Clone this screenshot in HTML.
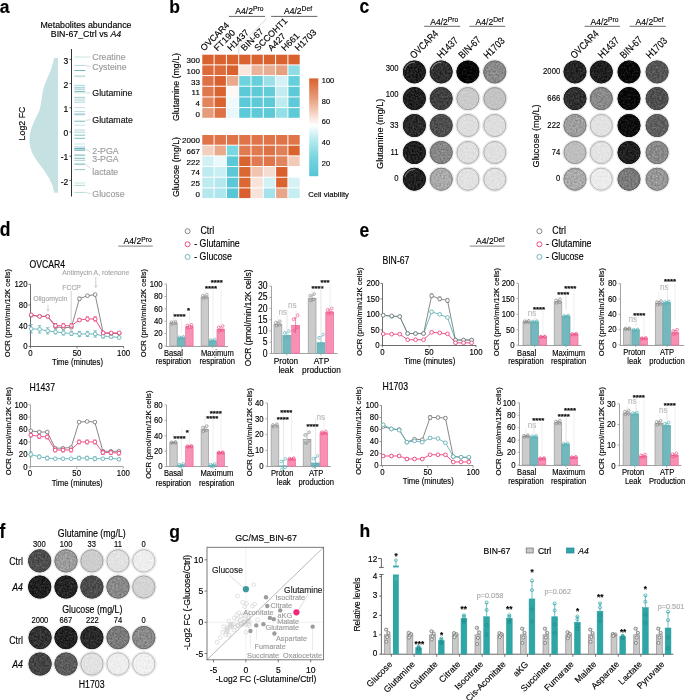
<!DOCTYPE html>
<html><head><meta charset="utf-8"><title>Figure</title>
<style>
html,body{margin:0;padding:0;background:#fff;}
body{width:685px;height:700px;overflow:hidden;}
svg{display:block;filter:blur(0.3px);font-family:"Liberation Sans", sans-serif;}
</style></head><body>
<svg width="685" height="700" viewBox="0 0 685 700">
<defs>
<filter id="grain" x="-5%" y="-5%" width="110%" height="110%" color-interpolation-filters="sRGB">
<feTurbulence type="fractalNoise" baseFrequency="0.55" numOctaves="2" seed="3" result="n"/>
<feColorMatrix in="n" type="matrix" values="1 0 0 0 0  1 0 0 0 0  1 0 0 0 0  0 0 0 0 1" result="g"/>
<feComposite in="SourceGraphic" in2="g" operator="arithmetic" k1="0" k2="1" k3="0.32" k4="-0.16" result="a"/>
<feComposite in="a" in2="SourceGraphic" operator="in"/>
</filter>
<filter id="grainw" x="-5%" y="-5%" width="110%" height="110%" color-interpolation-filters="sRGB">
<feTurbulence type="fractalNoise" baseFrequency="0.5" numOctaves="2" seed="8" result="n"/>
<feColorMatrix in="n" type="matrix" values="1 0 0 0 0  1 0 0 0 0  1 0 0 0 0  0 0 0 0 1" result="g"/>
<feComposite in="SourceGraphic" in2="g" operator="arithmetic" k1="0" k2="1" k3="0.12" k4="-0.06" result="a"/>
<feComposite in="a" in2="SourceGraphic" operator="in"/>
</filter>
</defs>
<rect width="685" height="700" fill="#fff"/>
<text x="-0.3" y="12.9" font-size="17.5" font-weight="bold" stroke="#000" stroke-width="0.15">a</text>
<text x="86" y="27.5" font-size="8.8" text-anchor="middle" stroke="#000" stroke-width="0.15">Metabolites abundance</text>
<text x="86" y="37" font-size="8.8" text-anchor="middle" stroke="#000" stroke-width="0.15">BIN-67_Ctrl vs <tspan font-style="italic">A4</tspan></text>
<path d="M58,57.9 L54.3,57.9 L50.4,71.5 L46.5,80.0 L44.0,86.5 L42.5,92.9 L41.4,100.0 L40.6,106.0 L39.2,111.0 L35.4,118.7 L31.7,127.3 L29.8,134.0 L29.4,140.5 L30.2,147.0 L32.2,153.0 L37.0,161.0 L43.5,169.5 L49.0,178.0 L52.6,185.5 L54.3,192.7 L58,192.7 Z" fill="#c5e1e2"/>
<line x1="71.5" y1="49" x2="71.5" y2="196.5" stroke="#333" stroke-width="1"/>
<line x1="69.5" y1="59.4" x2="71.5" y2="59.4" stroke="#333" stroke-width="0.8"/>
<text x="68.3" y="63.6" font-size="8.5" text-anchor="end" stroke="#000" stroke-width="0.15">3</text>
<line x1="69.5" y1="83.6" x2="71.5" y2="83.6" stroke="#333" stroke-width="0.8"/>
<text x="68.3" y="87.8" font-size="8.5" text-anchor="end" stroke="#000" stroke-width="0.15">2</text>
<line x1="69.5" y1="107.8" x2="71.5" y2="107.8" stroke="#333" stroke-width="0.8"/>
<text x="68.3" y="112" font-size="8.5" text-anchor="end" stroke="#000" stroke-width="0.15">1</text>
<line x1="69.5" y1="132" x2="71.5" y2="132" stroke="#333" stroke-width="0.8"/>
<text x="68.3" y="136.2" font-size="8.5" text-anchor="end" stroke="#000" stroke-width="0.15">0</text>
<line x1="69.5" y1="156.2" x2="71.5" y2="156.2" stroke="#333" stroke-width="0.8"/>
<text x="68.3" y="160.4" font-size="8.5" text-anchor="end" stroke="#000" stroke-width="0.15">-1</text>
<line x1="69.5" y1="180.4" x2="71.5" y2="180.4" stroke="#333" stroke-width="0.8"/>
<text x="68.3" y="184.6" font-size="8.5" text-anchor="end" stroke="#000" stroke-width="0.15">-2</text>
<line x1="74.3" y1="57" x2="85.1" y2="57" stroke="#4da1a8" stroke-width="0.9" stroke-opacity="0.35"/>
<line x1="74.3" y1="65.4" x2="85.1" y2="65.4" stroke="#4da1a8" stroke-width="0.9" stroke-opacity="0.45"/>
<line x1="74.3" y1="70.5" x2="85.1" y2="70.5" stroke="#4da1a8" stroke-width="1" stroke-opacity="0.80"/>
<line x1="74.3" y1="76.3" x2="85.1" y2="76.3" stroke="#4da1a8" stroke-width="1.8" stroke-opacity="0.35"/>
<line x1="74.3" y1="85.3" x2="85.1" y2="85.3" stroke="#4da1a8" stroke-width="0.9" stroke-opacity="0.50"/>
<line x1="74.3" y1="87.3" x2="85.1" y2="87.3" stroke="#4da1a8" stroke-width="0.9" stroke-opacity="0.60"/>
<line x1="74.3" y1="89.1" x2="85.1" y2="89.1" stroke="#4da1a8" stroke-width="0.9" stroke-opacity="0.70"/>
<line x1="74.3" y1="91.4" x2="85.1" y2="91.4" stroke="#4da1a8" stroke-width="0.9" stroke-opacity="0.85"/>
<line x1="74.3" y1="92.9" x2="85.1" y2="92.9" stroke="#4da1a8" stroke-width="0.9" stroke-opacity="0.30"/>
<line x1="74.3" y1="97.6" x2="85.1" y2="97.6" stroke="#4da1a8" stroke-width="1.6" stroke-opacity="0.45"/>
<line x1="74.3" y1="100.1" x2="85.1" y2="100.1" stroke="#4da1a8" stroke-width="0.9" stroke-opacity="0.55"/>
<line x1="74.3" y1="102.2" x2="85.1" y2="102.2" stroke="#4da1a8" stroke-width="0.9" stroke-opacity="0.50"/>
<line x1="74.3" y1="107.5" x2="85.1" y2="107.5" stroke="#4da1a8" stroke-width="0.9" stroke-opacity="0.35"/>
<line x1="74.3" y1="111.6" x2="85.1" y2="111.6" stroke="#4da1a8" stroke-width="0.9" stroke-opacity="0.45"/>
<line x1="74.3" y1="114.3" x2="85.1" y2="114.3" stroke="#4da1a8" stroke-width="1.8" stroke-opacity="0.50"/>
<line x1="74.3" y1="121.2" x2="85.1" y2="121.2" stroke="#4da1a8" stroke-width="1" stroke-opacity="0.75"/>
<line x1="74.3" y1="125.3" x2="85.1" y2="125.3" stroke="#4da1a8" stroke-width="1" stroke-opacity="0.30"/>
<line x1="74.3" y1="130" x2="85.1" y2="130" stroke="#4da1a8" stroke-width="1.4" stroke-opacity="0.30"/>
<line x1="74.3" y1="132.2" x2="85.1" y2="132.2" stroke="#4da1a8" stroke-width="1.4" stroke-opacity="0.35"/>
<line x1="74.3" y1="135.2" x2="85.1" y2="135.2" stroke="#4da1a8" stroke-width="1.2" stroke-opacity="0.55"/>
<line x1="74.3" y1="138.3" x2="85.1" y2="138.3" stroke="#4da1a8" stroke-width="0.9" stroke-opacity="0.80"/>
<line x1="74.3" y1="144" x2="85.1" y2="144" stroke="#4da1a8" stroke-width="0.9" stroke-opacity="0.35"/>
<line x1="74.3" y1="146.9" x2="85.1" y2="146.9" stroke="#4da1a8" stroke-width="0.9" stroke-opacity="0.45"/>
<line x1="74.3" y1="148.6" x2="85.1" y2="148.6" stroke="#4da1a8" stroke-width="1.4" stroke-opacity="0.80"/>
<line x1="74.3" y1="150.3" x2="85.1" y2="150.3" stroke="#4da1a8" stroke-width="1.2" stroke-opacity="0.70"/>
<line x1="74.3" y1="155.2" x2="85.1" y2="155.2" stroke="#4da1a8" stroke-width="1.8" stroke-opacity="0.50"/>
<line x1="74.3" y1="158.3" x2="85.1" y2="158.3" stroke="#4da1a8" stroke-width="0.9" stroke-opacity="0.80"/>
<line x1="74.3" y1="160.3" x2="85.1" y2="160.3" stroke="#4da1a8" stroke-width="0.9" stroke-opacity="0.55"/>
<line x1="74.3" y1="164.2" x2="85.1" y2="164.2" stroke="#4da1a8" stroke-width="1.8" stroke-opacity="0.50"/>
<line x1="74.3" y1="169.6" x2="85.1" y2="169.6" stroke="#4da1a8" stroke-width="1.1" stroke-opacity="0.55"/>
<line x1="74.3" y1="183" x2="85.1" y2="183" stroke="#4da1a8" stroke-width="0.9" stroke-opacity="0.35"/>
<line x1="74.3" y1="185.4" x2="85.1" y2="185.4" stroke="#4da1a8" stroke-width="0.9" stroke-opacity="0.50"/>
<line x1="74.3" y1="192.4" x2="85.1" y2="192.4" stroke="#4da1a8" stroke-width="0.9" stroke-opacity="0.45"/>
<line x1="85.5" y1="57" x2="90.5" y2="57" stroke="#c8c8c8" stroke-width="0.7"/>
<text x="92.3" y="60.1" font-size="8.8" fill="#9c9c9c" stroke="#9c9c9c" stroke-width="0.15">Creatine</text>
<line x1="85.5" y1="65.4" x2="90.5" y2="66.6" stroke="#c8c8c8" stroke-width="0.7"/>
<text x="92.3" y="69.7" font-size="8.8" fill="#9c9c9c" stroke="#9c9c9c" stroke-width="0.15">Cysteine</text>
<line x1="85.5" y1="92.9" x2="90.5" y2="92.9" stroke="#c8c8c8" stroke-width="0.7"/>
<text x="92.3" y="96" font-size="8.8" fill="#111" stroke="#111" stroke-width="0.15">Glutamine</text>
<line x1="85.5" y1="120.3" x2="90.5" y2="119.8" stroke="#c8c8c8" stroke-width="0.7"/>
<text x="92.3" y="122.9" font-size="8.8" fill="#111" stroke="#111" stroke-width="0.15">Glutamate</text>
<line x1="85.5" y1="149" x2="90.5" y2="152.5" stroke="#c8c8c8" stroke-width="0.7"/>
<text x="92.3" y="153.7" font-size="8.8" fill="#9c9c9c" stroke="#9c9c9c" stroke-width="0.15">2-PGA</text>
<text x="92.3" y="161.6" font-size="8.8" fill="#9c9c9c" stroke="#9c9c9c" stroke-width="0.15">3-PGA</text>
<line x1="85.5" y1="164.2" x2="90.5" y2="168.5" stroke="#c8c8c8" stroke-width="0.7"/>
<text x="92.3" y="175.1" font-size="8.8" fill="#9c9c9c" stroke="#9c9c9c" stroke-width="0.15">lactate</text>
<line x1="85.5" y1="192.4" x2="90.5" y2="193.6" stroke="#c8c8c8" stroke-width="0.7"/>
<text x="92.3" y="196.7" font-size="8.8" fill="#9c9c9c" stroke="#9c9c9c" stroke-width="0.15">Glucose</text>
<text x="25" y="123.5" font-size="8.8" transform="rotate(-90 25 123.5)" text-anchor="middle" stroke="#000" stroke-width="0.15">Log2 FC</text>
<text x="169.2" y="12.9" font-size="17.5" font-weight="bold" stroke="#000" stroke-width="0.15">b</text>
<rect x="202.3" y="54.7" width="11.3" height="9.68" fill="#d9622f"/>
<rect x="214.6" y="54.7" width="11.3" height="9.68" fill="#d9622f"/>
<rect x="226.9" y="54.7" width="11.3" height="9.68" fill="#d9622f"/>
<rect x="239.2" y="54.7" width="11.3" height="9.68" fill="#d9622f"/>
<rect x="251.5" y="54.7" width="11.3" height="9.68" fill="#d9622f"/>
<rect x="263.8" y="54.7" width="11.3" height="9.68" fill="#d9622f"/>
<rect x="276.1" y="54.7" width="11.3" height="9.68" fill="#d9622f"/>
<rect x="288.4" y="54.7" width="11.3" height="9.68" fill="#d9622f"/>
<text x="199.9" y="63.14" font-size="8" text-anchor="end" stroke="#000" stroke-width="0.15">300</text>
<rect x="202.3" y="65.38" width="11.3" height="9.68" fill="#dc6a3a"/>
<rect x="214.6" y="65.38" width="11.3" height="9.68" fill="#dc6a3a"/>
<rect x="226.9" y="65.38" width="11.3" height="9.68" fill="#d9622f"/>
<rect x="239.2" y="65.38" width="11.3" height="9.68" fill="#f8e6df"/>
<rect x="251.5" y="65.38" width="11.3" height="9.68" fill="#ebb49a"/>
<rect x="263.8" y="65.38" width="11.3" height="9.68" fill="#e9ad91"/>
<rect x="276.1" y="65.38" width="11.3" height="9.68" fill="#e6a07e"/>
<rect x="288.4" y="65.38" width="11.3" height="9.68" fill="#8ddde5"/>
<text x="199.9" y="73.82" font-size="8" text-anchor="end" stroke="#000" stroke-width="0.15">100</text>
<rect x="202.3" y="76.06" width="11.3" height="9.68" fill="#de7247"/>
<rect x="214.6" y="76.06" width="11.3" height="9.68" fill="#d9602e"/>
<rect x="226.9" y="76.06" width="11.3" height="9.68" fill="#e9a98a"/>
<rect x="239.2" y="76.06" width="11.3" height="9.68" fill="#6dd3df"/>
<rect x="251.5" y="76.06" width="11.3" height="9.68" fill="#65cfdc"/>
<rect x="263.8" y="76.06" width="11.3" height="9.68" fill="#9be0e6"/>
<rect x="276.1" y="76.06" width="11.3" height="9.68" fill="#d4f2f5"/>
<rect x="288.4" y="76.06" width="11.3" height="9.68" fill="#65cfdc"/>
<text x="199.9" y="84.5" font-size="8" text-anchor="end" stroke="#000" stroke-width="0.15">33</text>
<rect x="202.3" y="86.74" width="11.3" height="9.68" fill="#df784e"/>
<rect x="214.6" y="86.74" width="11.3" height="9.68" fill="#da6430"/>
<rect x="226.9" y="86.74" width="11.3" height="9.68" fill="#fdf8f6"/>
<rect x="239.2" y="86.74" width="11.3" height="9.68" fill="#5cc9d8"/>
<rect x="251.5" y="86.74" width="11.3" height="9.68" fill="#5ecad8"/>
<rect x="263.8" y="86.74" width="11.3" height="9.68" fill="#62ccd9"/>
<rect x="276.1" y="86.74" width="11.3" height="9.68" fill="#c2ecf1"/>
<rect x="288.4" y="86.74" width="11.3" height="9.68" fill="#5ecad8"/>
<text x="199.9" y="95.18" font-size="8" text-anchor="end" stroke="#000" stroke-width="0.15">11</text>
<rect x="202.3" y="97.42" width="11.3" height="9.68" fill="#e2855f"/>
<rect x="214.6" y="97.42" width="11.3" height="9.68" fill="#da6430"/>
<rect x="226.9" y="97.42" width="11.3" height="9.68" fill="#f0fafc"/>
<rect x="239.2" y="97.42" width="11.3" height="9.68" fill="#5cc9d8"/>
<rect x="251.5" y="97.42" width="11.3" height="9.68" fill="#5ecad8"/>
<rect x="263.8" y="97.42" width="11.3" height="9.68" fill="#5ecad8"/>
<rect x="276.1" y="97.42" width="11.3" height="9.68" fill="#bcebf0"/>
<rect x="288.4" y="97.42" width="11.3" height="9.68" fill="#5ecad8"/>
<text x="199.9" y="105.86" font-size="8" text-anchor="end" stroke="#000" stroke-width="0.15">4</text>
<rect x="202.3" y="108.1" width="11.3" height="9.68" fill="#e69b7a"/>
<rect x="214.6" y="108.1" width="11.3" height="9.68" fill="#de7247"/>
<rect x="226.9" y="108.1" width="11.3" height="9.68" fill="#e8f7fa"/>
<rect x="239.2" y="108.1" width="11.3" height="9.68" fill="#5cc9d8"/>
<rect x="251.5" y="108.1" width="11.3" height="9.68" fill="#5ecad8"/>
<rect x="263.8" y="108.1" width="11.3" height="9.68" fill="#5ecad8"/>
<rect x="276.1" y="108.1" width="11.3" height="9.68" fill="#93dfe7"/>
<rect x="288.4" y="108.1" width="11.3" height="9.68" fill="#5ecad8"/>
<text x="199.9" y="116.54" font-size="8" text-anchor="end" stroke="#000" stroke-width="0.15">0</text>
<rect x="202.3" y="135" width="11.3" height="9.68" fill="#df7448"/>
<rect x="214.6" y="135" width="11.3" height="9.68" fill="#df7448"/>
<rect x="226.9" y="135" width="11.3" height="9.68" fill="#df7448"/>
<rect x="239.2" y="135" width="11.3" height="9.68" fill="#df7448"/>
<rect x="251.5" y="135" width="11.3" height="9.68" fill="#df7448"/>
<rect x="263.8" y="135" width="11.3" height="9.68" fill="#df7448"/>
<rect x="276.1" y="135" width="11.3" height="9.68" fill="#df7448"/>
<rect x="288.4" y="135" width="11.3" height="9.68" fill="#df7448"/>
<text x="199.9" y="143.44" font-size="8" text-anchor="end" stroke="#000" stroke-width="0.15">2000</text>
<rect x="202.3" y="145.68" width="11.3" height="9.68" fill="#f3cfc0"/>
<rect x="214.6" y="145.68" width="11.3" height="9.68" fill="#e9a98a"/>
<rect x="226.9" y="145.68" width="11.3" height="9.68" fill="#79d7e1"/>
<rect x="239.2" y="145.68" width="11.3" height="9.68" fill="#e07a50"/>
<rect x="251.5" y="145.68" width="11.3" height="9.68" fill="#e07a50"/>
<rect x="263.8" y="145.68" width="11.3" height="9.68" fill="#de7247"/>
<rect x="276.1" y="145.68" width="11.3" height="9.68" fill="#e08059"/>
<rect x="288.4" y="145.68" width="11.3" height="9.68" fill="#da6430"/>
<text x="199.9" y="154.12" font-size="8" text-anchor="end" stroke="#000" stroke-width="0.15">667</text>
<rect x="202.3" y="156.36" width="11.3" height="9.68" fill="#d2f1f5"/>
<rect x="214.6" y="156.36" width="11.3" height="9.68" fill="#eaf9fb"/>
<rect x="226.9" y="156.36" width="11.3" height="9.68" fill="#5bc8d7"/>
<rect x="239.2" y="156.36" width="11.3" height="9.68" fill="#da6430"/>
<rect x="251.5" y="156.36" width="11.3" height="9.68" fill="#e07a50"/>
<rect x="263.8" y="156.36" width="11.3" height="9.68" fill="#df7649"/>
<rect x="276.1" y="156.36" width="11.3" height="9.68" fill="#e2855f"/>
<rect x="288.4" y="156.36" width="11.3" height="9.68" fill="#f2cab8"/>
<text x="199.9" y="164.8" font-size="8" text-anchor="end" stroke="#000" stroke-width="0.15">222</text>
<rect x="202.3" y="167.04" width="11.3" height="9.68" fill="#bdebf0"/>
<rect x="214.6" y="167.04" width="11.3" height="9.68" fill="#c8eff3"/>
<rect x="226.9" y="167.04" width="11.3" height="9.68" fill="#5bc8d7"/>
<rect x="239.2" y="167.04" width="11.3" height="9.68" fill="#db6733"/>
<rect x="251.5" y="167.04" width="11.3" height="9.68" fill="#f0c4b0"/>
<rect x="263.8" y="167.04" width="11.3" height="9.68" fill="#f5dbd0"/>
<rect x="276.1" y="167.04" width="11.3" height="9.68" fill="#d9602e"/>
<rect x="288.4" y="167.04" width="11.3" height="9.68" fill="#ffffff"/>
<text x="199.9" y="175.48" font-size="8" text-anchor="end" stroke="#000" stroke-width="0.15">74</text>
<rect x="202.3" y="177.72" width="11.3" height="9.68" fill="#bdebf0"/>
<rect x="214.6" y="177.72" width="11.3" height="9.68" fill="#b5e8ee"/>
<rect x="226.9" y="177.72" width="11.3" height="9.68" fill="#5bc8d7"/>
<rect x="239.2" y="177.72" width="11.3" height="9.68" fill="#db6733"/>
<rect x="251.5" y="177.72" width="11.3" height="9.68" fill="#f7e3da"/>
<rect x="263.8" y="177.72" width="11.3" height="9.68" fill="#d2f1f5"/>
<rect x="276.1" y="177.72" width="11.3" height="9.68" fill="#da6430"/>
<rect x="288.4" y="177.72" width="11.3" height="9.68" fill="#d6f2f6"/>
<text x="199.9" y="186.16" font-size="8" text-anchor="end" stroke="#000" stroke-width="0.15">25</text>
<rect x="202.3" y="188.4" width="11.3" height="9.68" fill="#b5e8ee"/>
<rect x="214.6" y="188.4" width="11.3" height="9.68" fill="#ade6ed"/>
<rect x="226.9" y="188.4" width="11.3" height="9.68" fill="#57c6d6"/>
<rect x="239.2" y="188.4" width="11.3" height="9.68" fill="#d9602e"/>
<rect x="251.5" y="188.4" width="11.3" height="9.68" fill="#f7e3da"/>
<rect x="263.8" y="188.4" width="11.3" height="9.68" fill="#a4e3eb"/>
<rect x="276.1" y="188.4" width="11.3" height="9.68" fill="#e8a688"/>
<rect x="288.4" y="188.4" width="11.3" height="9.68" fill="#c5edf2"/>
<text x="199.9" y="196.84" font-size="8" text-anchor="end" stroke="#000" stroke-width="0.15">0</text>
<text x="178.8" y="87" font-size="8.8" transform="rotate(-90 178.8 87)" text-anchor="middle" stroke="#000" stroke-width="0.15">Glutamine (mg/L)</text>
<text x="178.8" y="167" font-size="8.8" transform="rotate(-90 178.8 167)" text-anchor="middle" stroke="#000" stroke-width="0.15">Glucose (mg/L)</text>
<text x="204" y="51.5" font-size="8.9" transform="rotate(-45 204 51.5)" stroke="#000" stroke-width="0.15">OVCAR4</text>
<text x="217.5" y="51.5" font-size="8.9" transform="rotate(-45 217.5 51.5)" stroke="#000" stroke-width="0.15">FT190</text>
<text x="231" y="51.5" font-size="8.9" transform="rotate(-45 231 51.5)" stroke="#000" stroke-width="0.15">H1437</text>
<text x="244.5" y="51.5" font-size="8.9" transform="rotate(-45 244.5 51.5)" stroke="#000" stroke-width="0.15">BIN-67</text>
<text x="258" y="51.5" font-size="8.9" transform="rotate(-45 258 51.5)" stroke="#000" stroke-width="0.15">SCCOHT1</text>
<text x="271.5" y="51.5" font-size="8.9" transform="rotate(-45 271.5 51.5)" stroke="#000" stroke-width="0.15">A427</text>
<text x="285" y="51.5" font-size="8.9" transform="rotate(-45 285 51.5)" stroke="#000" stroke-width="0.15">H661</text>
<text x="298.5" y="51.5" font-size="8.9" transform="rotate(-45 298.5 51.5)" stroke="#000" stroke-width="0.15">H1703</text>
<polyline points="238.8,54.5 238.8,46.7 266.3,19" fill="none" stroke="#cfcfcf" stroke-width="0.8"/>
<text x="0" y="0" font-size="9.12" transform="translate(235.3 13.9) scale(0.9434 1)" stroke="#000" stroke-width="0.15">A4/2<tspan font-size="7.11" dy="-2.8">Pro</tspan></text>
<line x1="228.9" y1="16.4" x2="265.1" y2="16.4" stroke="#555" stroke-width="0.9"/>
<text x="0" y="0" font-size="9.12" transform="translate(283.9 13.9) scale(0.9434 1)" stroke="#000" stroke-width="0.15">A4/2<tspan font-size="7.11" dy="-2.8">Def</tspan></text>
<line x1="271.1" y1="16.4" x2="317.4" y2="16.4" stroke="#555" stroke-width="0.9"/>
<linearGradient id="cb" x1="0" y1="0" x2="0" y2="1">
<stop offset="0" stop-color="#d9602e"/><stop offset="0.22" stop-color="#e9a282"/>
<stop offset="0.40" stop-color="#f8e4da"/><stop offset="0.48" stop-color="#ffffff"/>
<stop offset="0.60" stop-color="#c3edf2"/><stop offset="0.80" stop-color="#7ad5e0"/>
<stop offset="1" stop-color="#53c5d5"/></linearGradient>
<rect x="309.2" y="78.4" width="9.1" height="97.8" fill="url(#cb)"/>
<text x="321.8" y="82.7" font-size="7.4" stroke="#000" stroke-width="0.15">100</text>
<text x="321.8" y="103.7" font-size="7.4" stroke="#000" stroke-width="0.15">80</text>
<text x="321.8" y="124.2" font-size="7.4" stroke="#000" stroke-width="0.15">60</text>
<text x="321.8" y="145.1" font-size="7.4" stroke="#000" stroke-width="0.15">40</text>
<text x="321.8" y="165.7" font-size="7.4" stroke="#000" stroke-width="0.15">20</text>
<text x="308.3" y="197.4" font-size="7.7" stroke="#000" stroke-width="0.15">Cell viability</text>
<text x="0" y="0" font-size="20.65" transform="translate(359.5 12.9) scale(0.8475 1)" font-weight="bold" stroke="#000" stroke-width="0.15">c</text>
<circle cx="414.4" cy="71.9" r="12.3" fill="none" stroke="#e0e0e0" stroke-width="0.8"/>
<circle cx="414.4" cy="71.9" r="11.5" fill="#1e1e1e" filter="url(#grain)"/>
<circle cx="414.4" cy="71.9" r="11" fill="none" stroke="#181818" stroke-width="1"/>
<path d="M405.03,69.39 A9.70,9.70 0 0 1 414.40,62.20" fill="none" stroke="#9a9a9a" stroke-width="1.1" stroke-opacity="0.8" stroke-linecap="round"/>
<circle cx="575" cy="71.9" r="12.3" fill="none" stroke="#e0e0e0" stroke-width="0.8"/>
<circle cx="575" cy="71.9" r="11.5" fill="#262626" filter="url(#grain)"/>
<circle cx="575" cy="71.9" r="11" fill="none" stroke="#1c1c1c" stroke-width="1"/>
<circle cx="441.2" cy="71.9" r="12.3" fill="none" stroke="#e0e0e0" stroke-width="0.8"/>
<circle cx="441.2" cy="71.9" r="11.5" fill="#303030" filter="url(#grain)"/>
<circle cx="441.2" cy="71.9" r="11" fill="none" stroke="#222222" stroke-width="1"/>
<path d="M431.83,69.39 A9.70,9.70 0 0 1 441.20,62.20" fill="none" stroke="#9a9a9a" stroke-width="1.1" stroke-opacity="0.8" stroke-linecap="round"/>
<circle cx="601.3" cy="71.9" r="12.3" fill="none" stroke="#e0e0e0" stroke-width="0.8"/>
<circle cx="601.3" cy="71.9" r="11.5" fill="#202020" filter="url(#grain)"/>
<circle cx="601.3" cy="71.9" r="11" fill="none" stroke="#191919" stroke-width="1"/>
<circle cx="467.9" cy="71.9" r="12.3" fill="none" stroke="#e0e0e0" stroke-width="0.8"/>
<circle cx="467.9" cy="71.9" r="11.5" fill="#070707" filter="url(#grain)"/>
<circle cx="467.9" cy="71.9" r="11" fill="none" stroke="#0a0a0a" stroke-width="1"/>
<circle cx="629" cy="71.9" r="12.3" fill="none" stroke="#e0e0e0" stroke-width="0.8"/>
<circle cx="629" cy="71.9" r="11.5" fill="#0a0a0a" filter="url(#grain)"/>
<circle cx="629" cy="71.9" r="11" fill="none" stroke="#0c0c0c" stroke-width="1"/>
<circle cx="494.8" cy="71.9" r="12.3" fill="none" stroke="#e0e0e0" stroke-width="0.8"/>
<circle cx="494.8" cy="71.9" r="11.5" fill="#8a8a8a" filter="url(#grain)"/>
<circle cx="494.8" cy="71.9" r="11" fill="none" stroke="#6e6e6e" stroke-width="1"/>
<circle cx="657.1" cy="71.9" r="12.3" fill="none" stroke="#e0e0e0" stroke-width="0.8"/>
<circle cx="657.1" cy="71.9" r="11.5" fill="#565656" filter="url(#grain)"/>
<circle cx="657.1" cy="71.9" r="11" fill="none" stroke="#4c4c4c" stroke-width="1"/>
<circle cx="657.1" cy="71.9" r="6.5" fill="none" stroke="#484848" stroke-width="0.8" stroke-opacity="0.7"/>
<circle cx="657.1" cy="71.9" r="1.6" fill="none" stroke="#484848" stroke-width="0.6" stroke-opacity="0.6"/>
<circle cx="414.4" cy="98.6" r="12.3" fill="none" stroke="#e0e0e0" stroke-width="0.8"/>
<circle cx="414.4" cy="98.6" r="11.5" fill="#202020" filter="url(#grain)"/>
<circle cx="414.4" cy="98.6" r="11" fill="none" stroke="#191919" stroke-width="1"/>
<circle cx="575" cy="98.6" r="12.3" fill="none" stroke="#e0e0e0" stroke-width="0.8"/>
<circle cx="575" cy="98.6" r="11.5" fill="#303030" filter="url(#grain)"/>
<circle cx="575" cy="98.6" r="11" fill="none" stroke="#222222" stroke-width="1"/>
<circle cx="441.2" cy="98.6" r="12.3" fill="none" stroke="#e0e0e0" stroke-width="0.8"/>
<circle cx="441.2" cy="98.6" r="11.5" fill="#404040" filter="url(#grain)"/>
<circle cx="441.2" cy="98.6" r="11" fill="none" stroke="#3b3b3b" stroke-width="1"/>
<circle cx="601.3" cy="98.6" r="12.3" fill="none" stroke="#e0e0e0" stroke-width="0.8"/>
<circle cx="601.3" cy="98.6" r="11.5" fill="#8a8a8a" filter="url(#grain)"/>
<circle cx="601.3" cy="98.6" r="11" fill="none" stroke="#6e6e6e" stroke-width="1"/>
<circle cx="467.9" cy="98.6" r="12.3" fill="none" stroke="#e0e0e0" stroke-width="0.8"/>
<circle cx="467.9" cy="98.6" r="11.5" fill="#cbcbcb" filter="url(#grainw)"/>
<circle cx="467.9" cy="98.6" r="11" fill="none" stroke="#a2a2a2" stroke-width="1"/>
<circle cx="629" cy="98.6" r="12.3" fill="none" stroke="#e0e0e0" stroke-width="0.8"/>
<circle cx="629" cy="98.6" r="11.5" fill="#0a0a0a" filter="url(#grain)"/>
<circle cx="629" cy="98.6" r="11" fill="none" stroke="#0c0c0c" stroke-width="1"/>
<circle cx="494.8" cy="98.6" r="12.3" fill="none" stroke="#e0e0e0" stroke-width="0.8"/>
<circle cx="494.8" cy="98.6" r="11.5" fill="#c3c3c3" filter="url(#grainw)"/>
<circle cx="494.8" cy="98.6" r="11" fill="none" stroke="#9c9c9c" stroke-width="1"/>
<circle cx="657.1" cy="98.6" r="12.3" fill="none" stroke="#e0e0e0" stroke-width="0.8"/>
<circle cx="657.1" cy="98.6" r="11.5" fill="#505050" filter="url(#grain)"/>
<circle cx="657.1" cy="98.6" r="11" fill="none" stroke="#484848" stroke-width="1"/>
<circle cx="657.1" cy="98.6" r="6.5" fill="none" stroke="#434343" stroke-width="0.8" stroke-opacity="0.7"/>
<circle cx="657.1" cy="98.6" r="1.6" fill="none" stroke="#434343" stroke-width="0.6" stroke-opacity="0.6"/>
<circle cx="414.4" cy="125.5" r="12.3" fill="none" stroke="#e0e0e0" stroke-width="0.8"/>
<circle cx="414.4" cy="125.5" r="11.5" fill="#292929" filter="url(#grain)"/>
<circle cx="414.4" cy="125.5" r="11" fill="none" stroke="#1e1e1e" stroke-width="1"/>
<circle cx="575" cy="125.5" r="12.3" fill="none" stroke="#e0e0e0" stroke-width="0.8"/>
<circle cx="575" cy="125.5" r="11.5" fill="#9e9e9e" filter="url(#grain)"/>
<circle cx="575" cy="125.5" r="11" fill="none" stroke="#7e7e7e" stroke-width="1"/>
<circle cx="441.2" cy="125.5" r="12.3" fill="none" stroke="#e0e0e0" stroke-width="0.8"/>
<circle cx="441.2" cy="125.5" r="11.5" fill="#4e4e4e" filter="url(#grain)"/>
<circle cx="441.2" cy="125.5" r="11" fill="none" stroke="#464646" stroke-width="1"/>
<circle cx="601.3" cy="125.5" r="12.3" fill="none" stroke="#e0e0e0" stroke-width="0.8"/>
<circle cx="601.3" cy="125.5" r="11.5" fill="#e2e2e2" filter="url(#grainw)"/>
<circle cx="601.3" cy="125.5" r="11" fill="none" stroke="#b4b4b4" stroke-width="1"/>
<circle cx="467.9" cy="125.5" r="12.3" fill="none" stroke="#e0e0e0" stroke-width="0.8"/>
<circle cx="467.9" cy="125.5" r="11.5" fill="#dedede" filter="url(#grainw)"/>
<circle cx="467.9" cy="125.5" r="11" fill="none" stroke="#b1b1b1" stroke-width="1"/>
<circle cx="629" cy="125.5" r="12.3" fill="none" stroke="#e0e0e0" stroke-width="0.8"/>
<circle cx="629" cy="125.5" r="11.5" fill="#0e0e0e" filter="url(#grain)"/>
<circle cx="629" cy="125.5" r="11" fill="none" stroke="#0e0e0e" stroke-width="1"/>
<circle cx="494.8" cy="125.5" r="12.3" fill="none" stroke="#e0e0e0" stroke-width="0.8"/>
<circle cx="494.8" cy="125.5" r="11.5" fill="#dedede" filter="url(#grainw)"/>
<circle cx="494.8" cy="125.5" r="11" fill="none" stroke="#b1b1b1" stroke-width="1"/>
<circle cx="657.1" cy="125.5" r="12.3" fill="none" stroke="#e0e0e0" stroke-width="0.8"/>
<circle cx="657.1" cy="125.5" r="11.5" fill="#606060" filter="url(#grain)"/>
<circle cx="657.1" cy="125.5" r="11" fill="none" stroke="#545454" stroke-width="1"/>
<circle cx="657.1" cy="125.5" r="6.5" fill="none" stroke="#4f4f4f" stroke-width="0.8" stroke-opacity="0.7"/>
<circle cx="657.1" cy="125.5" r="1.6" fill="none" stroke="#4f4f4f" stroke-width="0.6" stroke-opacity="0.6"/>
<circle cx="414.4" cy="152.5" r="12.3" fill="none" stroke="#e0e0e0" stroke-width="0.8"/>
<circle cx="414.4" cy="152.5" r="11.5" fill="#202020" filter="url(#grain)"/>
<circle cx="414.4" cy="152.5" r="11" fill="none" stroke="#191919" stroke-width="1"/>
<circle cx="575" cy="152.5" r="12.3" fill="none" stroke="#e0e0e0" stroke-width="0.8"/>
<circle cx="575" cy="152.5" r="11.5" fill="#bebebe" filter="url(#grainw)"/>
<circle cx="575" cy="152.5" r="11" fill="none" stroke="#989898" stroke-width="1"/>
<circle cx="441.2" cy="152.5" r="12.3" fill="none" stroke="#e0e0e0" stroke-width="0.8"/>
<circle cx="441.2" cy="152.5" r="11.5" fill="#878787" filter="url(#grain)"/>
<circle cx="441.2" cy="152.5" r="11" fill="none" stroke="#6c6c6c" stroke-width="1"/>
<circle cx="601.3" cy="152.5" r="12.3" fill="none" stroke="#e0e0e0" stroke-width="0.8"/>
<circle cx="601.3" cy="152.5" r="11.5" fill="#e4e4e4" filter="url(#grainw)"/>
<circle cx="601.3" cy="152.5" r="11" fill="none" stroke="#b6b6b6" stroke-width="1"/>
<circle cx="467.9" cy="152.5" r="12.3" fill="none" stroke="#e0e0e0" stroke-width="0.8"/>
<circle cx="467.9" cy="152.5" r="11.5" fill="#e0e0e0" filter="url(#grainw)"/>
<circle cx="467.9" cy="152.5" r="11" fill="none" stroke="#b3b3b3" stroke-width="1"/>
<circle cx="629" cy="152.5" r="12.3" fill="none" stroke="#e0e0e0" stroke-width="0.8"/>
<circle cx="629" cy="152.5" r="11.5" fill="#202020" filter="url(#grain)"/>
<circle cx="629" cy="152.5" r="11" fill="none" stroke="#191919" stroke-width="1"/>
<circle cx="494.8" cy="152.5" r="12.3" fill="none" stroke="#e0e0e0" stroke-width="0.8"/>
<circle cx="494.8" cy="152.5" r="11.5" fill="#e0e0e0" filter="url(#grainw)"/>
<circle cx="494.8" cy="152.5" r="11" fill="none" stroke="#b3b3b3" stroke-width="1"/>
<circle cx="657.1" cy="152.5" r="12.3" fill="none" stroke="#e0e0e0" stroke-width="0.8"/>
<circle cx="657.1" cy="152.5" r="11.5" fill="#8c8c8c" filter="url(#grain)"/>
<circle cx="657.1" cy="152.5" r="11" fill="none" stroke="#707070" stroke-width="1"/>
<circle cx="657.1" cy="152.5" r="6.5" fill="none" stroke="#696969" stroke-width="0.8" stroke-opacity="0.7"/>
<circle cx="657.1" cy="152.5" r="1.6" fill="none" stroke="#696969" stroke-width="0.6" stroke-opacity="0.6"/>
<circle cx="414.4" cy="179.2" r="12.3" fill="none" stroke="#e0e0e0" stroke-width="0.8"/>
<circle cx="414.4" cy="179.2" r="11.5" fill="#202020" filter="url(#grain)"/>
<circle cx="414.4" cy="179.2" r="11" fill="none" stroke="#191919" stroke-width="1"/>
<path d="M405.03,176.69 A9.70,9.70 0 0 1 414.40,169.50" fill="none" stroke="#9a9a9a" stroke-width="1.1" stroke-opacity="0.8" stroke-linecap="round"/>
<circle cx="575" cy="179.2" r="12.3" fill="none" stroke="#e0e0e0" stroke-width="0.8"/>
<circle cx="575" cy="179.2" r="11.5" fill="#aaaaaa" filter="url(#grain)"/>
<circle cx="575" cy="179.2" r="11" fill="none" stroke="#888888" stroke-width="1"/>
<circle cx="441.2" cy="179.2" r="12.3" fill="none" stroke="#e0e0e0" stroke-width="0.8"/>
<circle cx="441.2" cy="179.2" r="11.5" fill="#aaaaaa" filter="url(#grain)"/>
<circle cx="441.2" cy="179.2" r="11" fill="none" stroke="#888888" stroke-width="1"/>
<circle cx="601.3" cy="179.2" r="12.3" fill="none" stroke="#e0e0e0" stroke-width="0.8"/>
<circle cx="601.3" cy="179.2" r="11.5" fill="#ebebeb" filter="url(#grainw)"/>
<circle cx="601.3" cy="179.2" r="11" fill="none" stroke="#bcbcbc" stroke-width="1"/>
<circle cx="467.9" cy="179.2" r="12.3" fill="none" stroke="#e0e0e0" stroke-width="0.8"/>
<circle cx="467.9" cy="179.2" r="11.5" fill="#e2e2e2" filter="url(#grainw)"/>
<circle cx="467.9" cy="179.2" r="11" fill="none" stroke="#b4b4b4" stroke-width="1"/>
<circle cx="629" cy="179.2" r="12.3" fill="none" stroke="#e0e0e0" stroke-width="0.8"/>
<circle cx="629" cy="179.2" r="11.5" fill="#7a7a7a" filter="url(#grain)"/>
<circle cx="629" cy="179.2" r="11" fill="none" stroke="#616161" stroke-width="1"/>
<circle cx="494.8" cy="179.2" r="12.3" fill="none" stroke="#e0e0e0" stroke-width="0.8"/>
<circle cx="494.8" cy="179.2" r="11.5" fill="#e2e2e2" filter="url(#grainw)"/>
<circle cx="494.8" cy="179.2" r="11" fill="none" stroke="#b4b4b4" stroke-width="1"/>
<circle cx="657.1" cy="179.2" r="12.3" fill="none" stroke="#e0e0e0" stroke-width="0.8"/>
<circle cx="657.1" cy="179.2" r="11.5" fill="#9a9a9a" filter="url(#grain)"/>
<circle cx="657.1" cy="179.2" r="11" fill="none" stroke="#7b7b7b" stroke-width="1"/>
<circle cx="657.1" cy="179.2" r="6.5" fill="none" stroke="#737373" stroke-width="0.8" stroke-opacity="0.7"/>
<circle cx="657.1" cy="179.2" r="1.6" fill="none" stroke="#737373" stroke-width="0.6" stroke-opacity="0.6"/>
<text x="0" y="0" font-size="9.09" transform="translate(398.6 70.6) scale(0.8475 1)" text-anchor="end" stroke="#000" stroke-width="0.15">300</text>
<text x="0" y="0" font-size="9.09" transform="translate(398.6 97.2) scale(0.8475 1)" text-anchor="end" stroke="#000" stroke-width="0.15">100</text>
<text x="0" y="0" font-size="9.09" transform="translate(398.6 127.7) scale(0.8475 1)" text-anchor="end" stroke="#000" stroke-width="0.15">33</text>
<text x="0" y="0" font-size="9.09" transform="translate(398.6 154.7) scale(0.8475 1)" text-anchor="end" stroke="#000" stroke-width="0.15">11</text>
<text x="0" y="0" font-size="9.09" transform="translate(398.6 181.4) scale(0.8475 1)" text-anchor="end" stroke="#000" stroke-width="0.15">0</text>
<text x="0" y="0" font-size="9.09" transform="translate(560.2 74.1) scale(0.8475 1)" text-anchor="end" stroke="#000" stroke-width="0.15">2000</text>
<text x="0" y="0" font-size="9.09" transform="translate(560.2 100.8) scale(0.8475 1)" text-anchor="end" stroke="#000" stroke-width="0.15">666</text>
<text x="0" y="0" font-size="9.09" transform="translate(560.2 127.7) scale(0.8475 1)" text-anchor="end" stroke="#000" stroke-width="0.15">222</text>
<text x="0" y="0" font-size="9.09" transform="translate(560.2 154.7) scale(0.8475 1)" text-anchor="end" stroke="#000" stroke-width="0.15">74</text>
<text x="0" y="0" font-size="9.09" transform="translate(560.2 181.4) scale(0.8475 1)" text-anchor="end" stroke="#000" stroke-width="0.15">0</text>
<text x="382.6" y="133.8" font-size="9.1" transform="rotate(-90 382.6 133.8)" text-anchor="middle" stroke="#000" stroke-width="0.15">Glutamine (mg/L)</text>
<text x="539" y="135.9" font-size="9.25" transform="rotate(-90 539 135.9)" text-anchor="middle" stroke="#000" stroke-width="0.15">Glucose (mg/L)</text>
<text x="0" y="0" font-size="10.15" transform="translate(414 59.3) rotate(-45) scale(0.8475 1)" stroke="#000" stroke-width="0.15">OVCAR4</text>
<text x="0" y="0" font-size="10.15" transform="translate(440.9 59) rotate(-45) scale(0.8475 1)" stroke="#000" stroke-width="0.15">H1437</text>
<text x="0" y="0" font-size="10.15" transform="translate(462.6 59.3) rotate(-45) scale(0.8475 1)" stroke="#000" stroke-width="0.15">BIN-67</text>
<text x="0" y="0" font-size="10.15" transform="translate(487.6 59.3) rotate(-45) scale(0.8475 1)" stroke="#000" stroke-width="0.15">H1703</text>
<text x="0" y="0" font-size="10.15" transform="translate(574.4 59.3) rotate(-45) scale(0.8475 1)" stroke="#000" stroke-width="0.15">OVCAR4</text>
<text x="0" y="0" font-size="10.15" transform="translate(601.9 59) rotate(-45) scale(0.8475 1)" stroke="#000" stroke-width="0.15">H1437</text>
<text x="0" y="0" font-size="10.15" transform="translate(624 59.3) rotate(-45) scale(0.8475 1)" stroke="#000" stroke-width="0.15">BIN-67</text>
<text x="0" y="0" font-size="10.15" transform="translate(650.1 59.3) rotate(-45) scale(0.8475 1)" stroke="#000" stroke-width="0.15">H1703</text>
<text x="0" y="0" font-size="9.89" transform="translate(430.2 24.8) scale(0.8696 1)" stroke="#000" stroke-width="0.15">A4/2<tspan font-size="7.71" dy="-2.6">Pro</tspan></text>
<line x1="424.1" y1="26.4" x2="460.2" y2="26.4" stroke="#888" stroke-width="1.2"/>
<text x="0" y="0" font-size="9.89" transform="translate(475.5 24.8) scale(0.8696 1)" stroke="#000" stroke-width="0.15">A4/2<tspan font-size="7.71" dy="-2.6">Def</tspan></text>
<line x1="469.4" y1="26.4" x2="505.2" y2="26.4" stroke="#888" stroke-width="1.2"/>
<text x="0" y="0" font-size="9.89" transform="translate(590.4 24.8) scale(0.8696 1)" stroke="#000" stroke-width="0.15">A4/2<tspan font-size="7.71" dy="-2.6">Pro</tspan></text>
<line x1="584.6" y1="26.4" x2="620" y2="26.4" stroke="#888" stroke-width="1.2"/>
<text x="0" y="0" font-size="9.89" transform="translate(635.5 24.8) scale(0.8696 1)" stroke="#000" stroke-width="0.15">A4/2<tspan font-size="7.71" dy="-2.6">Def</tspan></text>
<line x1="629.6" y1="26.4" x2="665.8" y2="26.4" stroke="#888" stroke-width="1.2"/>
<text x="0" y="0" font-size="20.47" transform="translate(-0.3 235.7) scale(0.8547 1)" font-weight="bold" stroke="#000" stroke-width="0.15">d</text>
<text x="0" y="0" font-size="9.72" transform="translate(123.6 244.1) scale(0.8850 1)" stroke="#000" stroke-width="0.15">A4/2<tspan font-size="7.58" dy="-2.6">Pro</tspan></text>
<line x1="118.2" y1="246.2" x2="152.8" y2="246.2" stroke="#9a9a9a" stroke-width="1.3"/>
<circle cx="187.6" cy="231.2" r="2.5" fill="#fff" stroke="#7a7a7a" stroke-width="0.9"/>
<text x="0" y="0" font-size="10.3" transform="translate(200.5 233.9) scale(0.8547 1)" stroke="#000" stroke-width="0.15">Ctrl</text>
<circle cx="187.6" cy="244.3" r="2.5" fill="#fff" stroke="#ea3f7e" stroke-width="0.9"/>
<text x="0" y="0" font-size="10.3" transform="translate(194.2 246.9) scale(0.8547 1)" stroke="#000" stroke-width="0.15">- Glutamine</text>
<circle cx="187.6" cy="256.9" r="2.5" fill="#fff" stroke="#62b1b5" stroke-width="0.9"/>
<text x="0" y="0" font-size="10.3" transform="translate(194.2 259.5) scale(0.8547 1)" stroke="#000" stroke-width="0.15">- Glucose</text>
<line x1="30.5" y1="346.9" x2="30.5" y2="284.3" stroke="#5c5c5c" stroke-width="0.9"/>
<line x1="28.5" y1="346.4" x2="30.5" y2="346.4" stroke="#5c5c5c" stroke-width="0.8"/>
<text x="0" y="0" font-size="9.13" transform="translate(27.5 349.21) scale(0.8547 1)" text-anchor="end" stroke="#000" stroke-width="0.15">0</text>
<line x1="28.5" y1="325.7" x2="30.5" y2="325.7" stroke="#5c5c5c" stroke-width="0.8"/>
<text x="0" y="0" font-size="9.13" transform="translate(27.5 328.51) scale(0.8547 1)" text-anchor="end" stroke="#000" stroke-width="0.15">40</text>
<line x1="28.5" y1="305" x2="30.5" y2="305" stroke="#5c5c5c" stroke-width="0.8"/>
<text x="0" y="0" font-size="9.13" transform="translate(27.5 307.81) scale(0.8547 1)" text-anchor="end" stroke="#000" stroke-width="0.15">80</text>
<line x1="28.5" y1="284.3" x2="30.5" y2="284.3" stroke="#5c5c5c" stroke-width="0.8"/>
<text x="0" y="0" font-size="9.13" transform="translate(27.5 287.11) scale(0.8547 1)" text-anchor="end" stroke="#000" stroke-width="0.15">120</text>
<line x1="30" y1="346.5" x2="123.6" y2="346.5" stroke="#5c5c5c" stroke-width="0.9"/>
<line x1="30.4" y1="346.4" x2="30.4" y2="348.4" stroke="#5c5c5c" stroke-width="0.8"/>
<text x="0" y="0" font-size="9.13" transform="translate(30.4 356) scale(0.8547 1)" text-anchor="middle" stroke="#000" stroke-width="0.15">0</text>
<line x1="77" y1="346.4" x2="77" y2="348.4" stroke="#5c5c5c" stroke-width="0.8"/>
<text x="0" y="0" font-size="9.13" transform="translate(77 356) scale(0.8547 1)" text-anchor="middle" stroke="#000" stroke-width="0.15">50</text>
<line x1="123.6" y1="346.4" x2="123.6" y2="348.4" stroke="#5c5c5c" stroke-width="0.8"/>
<text x="0" y="0" font-size="9.13" transform="translate(123.6 356) scale(0.8547 1)" text-anchor="middle" stroke="#000" stroke-width="0.15">100</text>
<text x="0" y="0" font-size="9.01" transform="translate(77.5 365.2) scale(0.8547 1)" text-anchor="middle" stroke="#000" stroke-width="0.15">Time (minutes)</text>
<text x="0" y="0" font-size="10.18" transform="translate(29.4 268) scale(0.8547 1)" stroke="#000" stroke-width="0.15">OVCAR4</text>
<text x="10.2" y="313" font-size="7.65" transform="rotate(-90 10.2 313)" text-anchor="middle" stroke="#000" stroke-width="0.15">OCR (pmol/min/12K cells)</text>
<polyline points="31.2,328.81 39.63,329.32 47.64,330.88 55.56,331.91 63.39,332.94 71.41,333.46 79.42,333.98 87.44,333.98 95.17,333.98 103.19,336.05 111.2,336.57 119.22,337.6" fill="none" stroke="#62b1b5" stroke-width="0.9"/>
<line x1="31.2" y1="324.67" x2="31.2" y2="332.94" stroke="#62b1b5" stroke-width="0.8"/>
<line x1="29.5" y1="324.67" x2="32.9" y2="324.67" stroke="#62b1b5" stroke-width="0.8"/>
<line x1="29.5" y1="332.94" x2="32.9" y2="332.94" stroke="#62b1b5" stroke-width="0.8"/>
<circle cx="31.2" cy="328.81" r="1.85" fill="#fff" stroke="#62b1b5" stroke-width="0.85"/>
<line x1="39.63" y1="325.7" x2="39.63" y2="332.94" stroke="#62b1b5" stroke-width="0.8"/>
<line x1="37.93" y1="325.7" x2="41.33" y2="325.7" stroke="#62b1b5" stroke-width="0.8"/>
<line x1="37.93" y1="332.94" x2="41.33" y2="332.94" stroke="#62b1b5" stroke-width="0.8"/>
<circle cx="39.63" cy="329.32" r="1.85" fill="#fff" stroke="#62b1b5" stroke-width="0.85"/>
<line x1="47.64" y1="327.77" x2="47.64" y2="333.98" stroke="#62b1b5" stroke-width="0.8"/>
<line x1="45.94" y1="327.77" x2="49.34" y2="327.77" stroke="#62b1b5" stroke-width="0.8"/>
<line x1="45.94" y1="333.98" x2="49.34" y2="333.98" stroke="#62b1b5" stroke-width="0.8"/>
<circle cx="47.64" cy="330.88" r="1.85" fill="#fff" stroke="#62b1b5" stroke-width="0.85"/>
<line x1="55.56" y1="329.84" x2="55.56" y2="333.98" stroke="#62b1b5" stroke-width="0.8"/>
<line x1="53.86" y1="329.84" x2="57.26" y2="329.84" stroke="#62b1b5" stroke-width="0.8"/>
<line x1="53.86" y1="333.98" x2="57.26" y2="333.98" stroke="#62b1b5" stroke-width="0.8"/>
<circle cx="55.56" cy="331.91" r="1.85" fill="#fff" stroke="#62b1b5" stroke-width="0.85"/>
<line x1="63.39" y1="330.88" x2="63.39" y2="335.01" stroke="#62b1b5" stroke-width="0.8"/>
<line x1="61.69" y1="330.88" x2="65.09" y2="330.88" stroke="#62b1b5" stroke-width="0.8"/>
<line x1="61.69" y1="335.01" x2="65.09" y2="335.01" stroke="#62b1b5" stroke-width="0.8"/>
<circle cx="63.39" cy="332.94" r="1.85" fill="#fff" stroke="#62b1b5" stroke-width="0.85"/>
<line x1="71.41" y1="331.39" x2="71.41" y2="335.53" stroke="#62b1b5" stroke-width="0.8"/>
<line x1="69.71" y1="331.39" x2="73.11" y2="331.39" stroke="#62b1b5" stroke-width="0.8"/>
<line x1="69.71" y1="335.53" x2="73.11" y2="335.53" stroke="#62b1b5" stroke-width="0.8"/>
<circle cx="71.41" cy="333.46" r="1.85" fill="#fff" stroke="#62b1b5" stroke-width="0.85"/>
<line x1="79.42" y1="331.39" x2="79.42" y2="336.57" stroke="#62b1b5" stroke-width="0.8"/>
<line x1="77.72" y1="331.39" x2="81.12" y2="331.39" stroke="#62b1b5" stroke-width="0.8"/>
<line x1="77.72" y1="336.57" x2="81.12" y2="336.57" stroke="#62b1b5" stroke-width="0.8"/>
<circle cx="79.42" cy="333.98" r="1.85" fill="#fff" stroke="#62b1b5" stroke-width="0.85"/>
<line x1="87.44" y1="331.39" x2="87.44" y2="336.57" stroke="#62b1b5" stroke-width="0.8"/>
<line x1="85.74" y1="331.39" x2="89.14" y2="331.39" stroke="#62b1b5" stroke-width="0.8"/>
<line x1="85.74" y1="336.57" x2="89.14" y2="336.57" stroke="#62b1b5" stroke-width="0.8"/>
<circle cx="87.44" cy="333.98" r="1.85" fill="#fff" stroke="#62b1b5" stroke-width="0.85"/>
<line x1="95.17" y1="330.87" x2="95.17" y2="337.08" stroke="#62b1b5" stroke-width="0.8"/>
<line x1="93.47" y1="330.87" x2="96.87" y2="330.87" stroke="#62b1b5" stroke-width="0.8"/>
<line x1="93.47" y1="337.08" x2="96.87" y2="337.08" stroke="#62b1b5" stroke-width="0.8"/>
<circle cx="95.17" cy="333.98" r="1.85" fill="#fff" stroke="#62b1b5" stroke-width="0.85"/>
<line x1="103.19" y1="333.98" x2="103.19" y2="338.12" stroke="#62b1b5" stroke-width="0.8"/>
<line x1="101.49" y1="333.98" x2="104.89" y2="333.98" stroke="#62b1b5" stroke-width="0.8"/>
<line x1="101.49" y1="338.12" x2="104.89" y2="338.12" stroke="#62b1b5" stroke-width="0.8"/>
<circle cx="103.19" cy="336.05" r="1.85" fill="#fff" stroke="#62b1b5" stroke-width="0.85"/>
<line x1="111.2" y1="335.01" x2="111.2" y2="338.12" stroke="#62b1b5" stroke-width="0.8"/>
<line x1="109.5" y1="335.01" x2="112.9" y2="335.01" stroke="#62b1b5" stroke-width="0.8"/>
<line x1="109.5" y1="338.12" x2="112.9" y2="338.12" stroke="#62b1b5" stroke-width="0.8"/>
<circle cx="111.2" cy="336.57" r="1.85" fill="#fff" stroke="#62b1b5" stroke-width="0.85"/>
<line x1="119.22" y1="336.57" x2="119.22" y2="338.64" stroke="#62b1b5" stroke-width="0.8"/>
<line x1="117.52" y1="336.57" x2="120.92" y2="336.57" stroke="#62b1b5" stroke-width="0.8"/>
<line x1="117.52" y1="338.64" x2="120.92" y2="338.64" stroke="#62b1b5" stroke-width="0.8"/>
<circle cx="119.22" cy="337.6" r="1.85" fill="#fff" stroke="#62b1b5" stroke-width="0.85"/>
<polyline points="31.2,315.35 39.63,316.38 47.64,316.38 55.56,326.74 63.39,327.77 71.41,327.25 79.42,298.79 87.44,295.69 95.17,294.65 103.19,332.94 111.2,333.46 119.22,333.46" fill="none" stroke="#7a7a7a" stroke-width="0.9"/>
<line x1="31.2" y1="314.31" x2="31.2" y2="316.39" stroke="#7a7a7a" stroke-width="0.8"/>
<line x1="29.5" y1="314.31" x2="32.9" y2="314.31" stroke="#7a7a7a" stroke-width="0.8"/>
<line x1="29.5" y1="316.39" x2="32.9" y2="316.39" stroke="#7a7a7a" stroke-width="0.8"/>
<circle cx="31.2" cy="315.35" r="1.85" fill="#fff" stroke="#7a7a7a" stroke-width="0.85"/>
<line x1="39.63" y1="315.87" x2="39.63" y2="316.9" stroke="#7a7a7a" stroke-width="0.8"/>
<line x1="37.93" y1="315.87" x2="41.33" y2="315.87" stroke="#7a7a7a" stroke-width="0.8"/>
<line x1="37.93" y1="316.9" x2="41.33" y2="316.9" stroke="#7a7a7a" stroke-width="0.8"/>
<circle cx="39.63" cy="316.38" r="1.85" fill="#fff" stroke="#7a7a7a" stroke-width="0.85"/>
<line x1="47.64" y1="315.87" x2="47.64" y2="316.9" stroke="#7a7a7a" stroke-width="0.8"/>
<line x1="45.94" y1="315.87" x2="49.34" y2="315.87" stroke="#7a7a7a" stroke-width="0.8"/>
<line x1="45.94" y1="316.9" x2="49.34" y2="316.9" stroke="#7a7a7a" stroke-width="0.8"/>
<circle cx="47.64" cy="316.38" r="1.85" fill="#fff" stroke="#7a7a7a" stroke-width="0.85"/>
<line x1="55.56" y1="325.7" x2="55.56" y2="327.77" stroke="#7a7a7a" stroke-width="0.8"/>
<line x1="53.86" y1="325.7" x2="57.26" y2="325.7" stroke="#7a7a7a" stroke-width="0.8"/>
<line x1="53.86" y1="327.77" x2="57.26" y2="327.77" stroke="#7a7a7a" stroke-width="0.8"/>
<circle cx="55.56" cy="326.74" r="1.85" fill="#fff" stroke="#7a7a7a" stroke-width="0.85"/>
<line x1="63.39" y1="327.25" x2="63.39" y2="328.29" stroke="#7a7a7a" stroke-width="0.8"/>
<line x1="61.69" y1="327.25" x2="65.09" y2="327.25" stroke="#7a7a7a" stroke-width="0.8"/>
<line x1="61.69" y1="328.29" x2="65.09" y2="328.29" stroke="#7a7a7a" stroke-width="0.8"/>
<circle cx="63.39" cy="327.77" r="1.85" fill="#fff" stroke="#7a7a7a" stroke-width="0.85"/>
<line x1="71.41" y1="326.74" x2="71.41" y2="327.77" stroke="#7a7a7a" stroke-width="0.8"/>
<line x1="69.71" y1="326.74" x2="73.11" y2="326.74" stroke="#7a7a7a" stroke-width="0.8"/>
<line x1="69.71" y1="327.77" x2="73.11" y2="327.77" stroke="#7a7a7a" stroke-width="0.8"/>
<circle cx="71.41" cy="327.25" r="1.85" fill="#fff" stroke="#7a7a7a" stroke-width="0.85"/>
<line x1="79.42" y1="297.24" x2="79.42" y2="300.34" stroke="#7a7a7a" stroke-width="0.8"/>
<line x1="77.72" y1="297.24" x2="81.12" y2="297.24" stroke="#7a7a7a" stroke-width="0.8"/>
<line x1="77.72" y1="300.34" x2="81.12" y2="300.34" stroke="#7a7a7a" stroke-width="0.8"/>
<circle cx="79.42" cy="298.79" r="1.85" fill="#fff" stroke="#7a7a7a" stroke-width="0.85"/>
<line x1="87.44" y1="294.65" x2="87.44" y2="296.72" stroke="#7a7a7a" stroke-width="0.8"/>
<line x1="85.74" y1="294.65" x2="89.14" y2="294.65" stroke="#7a7a7a" stroke-width="0.8"/>
<line x1="85.74" y1="296.72" x2="89.14" y2="296.72" stroke="#7a7a7a" stroke-width="0.8"/>
<circle cx="87.44" cy="295.69" r="1.85" fill="#fff" stroke="#7a7a7a" stroke-width="0.85"/>
<line x1="95.17" y1="293.61" x2="95.17" y2="295.69" stroke="#7a7a7a" stroke-width="0.8"/>
<line x1="93.47" y1="293.61" x2="96.87" y2="293.61" stroke="#7a7a7a" stroke-width="0.8"/>
<line x1="93.47" y1="295.69" x2="96.87" y2="295.69" stroke="#7a7a7a" stroke-width="0.8"/>
<circle cx="95.17" cy="294.65" r="1.85" fill="#fff" stroke="#7a7a7a" stroke-width="0.85"/>
<line x1="103.19" y1="332.43" x2="103.19" y2="333.46" stroke="#7a7a7a" stroke-width="0.8"/>
<line x1="101.49" y1="332.43" x2="104.89" y2="332.43" stroke="#7a7a7a" stroke-width="0.8"/>
<line x1="101.49" y1="333.46" x2="104.89" y2="333.46" stroke="#7a7a7a" stroke-width="0.8"/>
<circle cx="103.19" cy="332.94" r="1.85" fill="#fff" stroke="#7a7a7a" stroke-width="0.85"/>
<line x1="111.2" y1="332.94" x2="111.2" y2="333.98" stroke="#7a7a7a" stroke-width="0.8"/>
<line x1="109.5" y1="332.94" x2="112.9" y2="332.94" stroke="#7a7a7a" stroke-width="0.8"/>
<line x1="109.5" y1="333.98" x2="112.9" y2="333.98" stroke="#7a7a7a" stroke-width="0.8"/>
<circle cx="111.2" cy="333.46" r="1.85" fill="#fff" stroke="#7a7a7a" stroke-width="0.85"/>
<line x1="119.22" y1="332.94" x2="119.22" y2="333.98" stroke="#7a7a7a" stroke-width="0.8"/>
<line x1="117.52" y1="332.94" x2="120.92" y2="332.94" stroke="#7a7a7a" stroke-width="0.8"/>
<line x1="117.52" y1="333.98" x2="120.92" y2="333.98" stroke="#7a7a7a" stroke-width="0.8"/>
<circle cx="119.22" cy="333.46" r="1.85" fill="#fff" stroke="#7a7a7a" stroke-width="0.85"/>
<polyline points="31.2,314.83 39.63,316.38 47.64,316.38 55.56,325.7 63.39,325.7 71.41,325.7 79.42,320.01 87.44,318.97 95.17,318.97 103.19,332.94 111.2,332.94 119.22,332.94" fill="none" stroke="#ea3f7e" stroke-width="0.9"/>
<line x1="31.2" y1="314.31" x2="31.2" y2="315.35" stroke="#ea3f7e" stroke-width="0.8"/>
<line x1="29.5" y1="314.31" x2="32.9" y2="314.31" stroke="#ea3f7e" stroke-width="0.8"/>
<line x1="29.5" y1="315.35" x2="32.9" y2="315.35" stroke="#ea3f7e" stroke-width="0.8"/>
<circle cx="31.2" cy="314.83" r="1.85" fill="#fff" stroke="#ea3f7e" stroke-width="0.85"/>
<line x1="39.63" y1="315.87" x2="39.63" y2="316.9" stroke="#ea3f7e" stroke-width="0.8"/>
<line x1="37.93" y1="315.87" x2="41.33" y2="315.87" stroke="#ea3f7e" stroke-width="0.8"/>
<line x1="37.93" y1="316.9" x2="41.33" y2="316.9" stroke="#ea3f7e" stroke-width="0.8"/>
<circle cx="39.63" cy="316.38" r="1.85" fill="#fff" stroke="#ea3f7e" stroke-width="0.85"/>
<line x1="47.64" y1="315.87" x2="47.64" y2="316.9" stroke="#ea3f7e" stroke-width="0.8"/>
<line x1="45.94" y1="315.87" x2="49.34" y2="315.87" stroke="#ea3f7e" stroke-width="0.8"/>
<line x1="45.94" y1="316.9" x2="49.34" y2="316.9" stroke="#ea3f7e" stroke-width="0.8"/>
<circle cx="47.64" cy="316.38" r="1.85" fill="#fff" stroke="#ea3f7e" stroke-width="0.85"/>
<line x1="55.56" y1="323.63" x2="55.56" y2="327.77" stroke="#ea3f7e" stroke-width="0.8"/>
<line x1="53.86" y1="323.63" x2="57.26" y2="323.63" stroke="#ea3f7e" stroke-width="0.8"/>
<line x1="53.86" y1="327.77" x2="57.26" y2="327.77" stroke="#ea3f7e" stroke-width="0.8"/>
<circle cx="55.56" cy="325.7" r="1.85" fill="#fff" stroke="#ea3f7e" stroke-width="0.85"/>
<line x1="63.39" y1="323.63" x2="63.39" y2="327.77" stroke="#ea3f7e" stroke-width="0.8"/>
<line x1="61.69" y1="323.63" x2="65.09" y2="323.63" stroke="#ea3f7e" stroke-width="0.8"/>
<line x1="61.69" y1="327.77" x2="65.09" y2="327.77" stroke="#ea3f7e" stroke-width="0.8"/>
<circle cx="63.39" cy="325.7" r="1.85" fill="#fff" stroke="#ea3f7e" stroke-width="0.85"/>
<line x1="71.41" y1="323.63" x2="71.41" y2="327.77" stroke="#ea3f7e" stroke-width="0.8"/>
<line x1="69.71" y1="323.63" x2="73.11" y2="323.63" stroke="#ea3f7e" stroke-width="0.8"/>
<line x1="69.71" y1="327.77" x2="73.11" y2="327.77" stroke="#ea3f7e" stroke-width="0.8"/>
<circle cx="71.41" cy="325.7" r="1.85" fill="#fff" stroke="#ea3f7e" stroke-width="0.85"/>
<line x1="79.42" y1="318.45" x2="79.42" y2="321.56" stroke="#ea3f7e" stroke-width="0.8"/>
<line x1="77.72" y1="318.45" x2="81.12" y2="318.45" stroke="#ea3f7e" stroke-width="0.8"/>
<line x1="77.72" y1="321.56" x2="81.12" y2="321.56" stroke="#ea3f7e" stroke-width="0.8"/>
<circle cx="79.42" cy="320.01" r="1.85" fill="#fff" stroke="#ea3f7e" stroke-width="0.85"/>
<line x1="87.44" y1="316.9" x2="87.44" y2="321.04" stroke="#ea3f7e" stroke-width="0.8"/>
<line x1="85.74" y1="316.9" x2="89.14" y2="316.9" stroke="#ea3f7e" stroke-width="0.8"/>
<line x1="85.74" y1="321.04" x2="89.14" y2="321.04" stroke="#ea3f7e" stroke-width="0.8"/>
<circle cx="87.44" cy="318.97" r="1.85" fill="#fff" stroke="#ea3f7e" stroke-width="0.85"/>
<line x1="95.17" y1="316.9" x2="95.17" y2="321.04" stroke="#ea3f7e" stroke-width="0.8"/>
<line x1="93.47" y1="316.9" x2="96.87" y2="316.9" stroke="#ea3f7e" stroke-width="0.8"/>
<line x1="93.47" y1="321.04" x2="96.87" y2="321.04" stroke="#ea3f7e" stroke-width="0.8"/>
<circle cx="95.17" cy="318.97" r="1.85" fill="#fff" stroke="#ea3f7e" stroke-width="0.85"/>
<line x1="103.19" y1="331.91" x2="103.19" y2="333.98" stroke="#ea3f7e" stroke-width="0.8"/>
<line x1="101.49" y1="331.91" x2="104.89" y2="331.91" stroke="#ea3f7e" stroke-width="0.8"/>
<line x1="101.49" y1="333.98" x2="104.89" y2="333.98" stroke="#ea3f7e" stroke-width="0.8"/>
<circle cx="103.19" cy="332.94" r="1.85" fill="#fff" stroke="#ea3f7e" stroke-width="0.85"/>
<line x1="111.2" y1="331.91" x2="111.2" y2="333.98" stroke="#ea3f7e" stroke-width="0.8"/>
<line x1="109.5" y1="331.91" x2="112.9" y2="331.91" stroke="#ea3f7e" stroke-width="0.8"/>
<line x1="109.5" y1="333.98" x2="112.9" y2="333.98" stroke="#ea3f7e" stroke-width="0.8"/>
<circle cx="111.2" cy="332.94" r="1.85" fill="#fff" stroke="#ea3f7e" stroke-width="0.85"/>
<line x1="119.22" y1="331.91" x2="119.22" y2="333.98" stroke="#ea3f7e" stroke-width="0.8"/>
<line x1="117.52" y1="331.91" x2="120.92" y2="331.91" stroke="#ea3f7e" stroke-width="0.8"/>
<line x1="117.52" y1="333.98" x2="120.92" y2="333.98" stroke="#ea3f7e" stroke-width="0.8"/>
<circle cx="119.22" cy="332.94" r="1.85" fill="#fff" stroke="#ea3f7e" stroke-width="0.85"/>
<text x="0" y="0" font-size="8.07" transform="translate(33.2 301.1) scale(0.8547 1)" fill="#a8a8a8" stroke="#a8a8a8" stroke-width="0.15">Oligomycin</text>
<line x1="48" y1="305" x2="48" y2="311" stroke="#b5b5b5" stroke-width="0.6"/>
<path d="M46.8,309.2 L48,311.2 L49.2,309.2" fill="none" stroke="#b5b5b5" stroke-width="0.6"/>
<text x="0" y="0" font-size="8.07" transform="translate(62.2 289.5) scale(0.8547 1)" fill="#a8a8a8" stroke="#a8a8a8" stroke-width="0.15">FCCP</text>
<line x1="71.2" y1="291" x2="71.2" y2="332.5" stroke="#b5b5b5" stroke-width="0.6"/>
<path d="M70,330.5 L71.2,332.6 L72.4,330.5" fill="none" stroke="#b5b5b5" stroke-width="0.6"/>
<text x="0" y="0" font-size="8.07" transform="translate(62.2 274.5) scale(0.8547 1)" fill="#a8a8a8" stroke="#a8a8a8" stroke-width="0.15">Antimycin A, rotenone</text>
<line x1="95.8" y1="277" x2="95.8" y2="287.5" stroke="#b5b5b5" stroke-width="0.6"/>
<path d="M94.6,285.5 L95.8,287.6 L97,285.5" fill="none" stroke="#b5b5b5" stroke-width="0.6"/>
<line x1="166.5" y1="346.5" x2="166.5" y2="284.1" stroke="#999999" stroke-width="0.9"/>
<line x1="164.5" y1="346" x2="166.5" y2="346" stroke="#999999" stroke-width="0.8"/>
<text x="0" y="0" font-size="9.13" transform="translate(162.7 348.81) scale(0.8547 1)" text-anchor="end" stroke="#000" stroke-width="0.15">0</text>
<line x1="164.5" y1="333.62" x2="166.5" y2="333.62" stroke="#999999" stroke-width="0.8"/>
<text x="0" y="0" font-size="9.13" transform="translate(162.7 336.43) scale(0.8547 1)" text-anchor="end" stroke="#000" stroke-width="0.15">20</text>
<line x1="164.5" y1="321.24" x2="166.5" y2="321.24" stroke="#999999" stroke-width="0.8"/>
<text x="0" y="0" font-size="9.13" transform="translate(162.7 324.05) scale(0.8547 1)" text-anchor="end" stroke="#000" stroke-width="0.15">40</text>
<line x1="164.5" y1="308.86" x2="166.5" y2="308.86" stroke="#999999" stroke-width="0.8"/>
<text x="0" y="0" font-size="9.13" transform="translate(162.7 311.67) scale(0.8547 1)" text-anchor="end" stroke="#000" stroke-width="0.15">60</text>
<line x1="164.5" y1="296.48" x2="166.5" y2="296.48" stroke="#999999" stroke-width="0.8"/>
<text x="0" y="0" font-size="9.13" transform="translate(162.7 299.29) scale(0.8547 1)" text-anchor="end" stroke="#000" stroke-width="0.15">80</text>
<line x1="164.5" y1="284.1" x2="166.5" y2="284.1" stroke="#999999" stroke-width="0.8"/>
<text x="0" y="0" font-size="9.13" transform="translate(162.7 286.91) scale(0.8547 1)" text-anchor="end" stroke="#000" stroke-width="0.15">100</text>
<line x1="166" y1="346.5" x2="228" y2="346.5" stroke="#999999" stroke-width="0.9"/>
<rect x="169.8" y="323.1" width="7.4" height="22.9" fill="#cbcbcb" stroke="#9a9a9a" stroke-width="0.7"/>
<line x1="173.5" y1="321.86" x2="173.5" y2="324.33" stroke="#8a8a8a" stroke-width="0.7"/>
<line x1="172.1" y1="321.86" x2="174.9" y2="321.86" stroke="#8a8a8a" stroke-width="0.7"/>
<circle cx="171.5" cy="322.13" r="1.35" fill="none" stroke="#8a8a8a" stroke-width="0.7"/>
<circle cx="175.5" cy="321.49" r="1.35" fill="none" stroke="#8a8a8a" stroke-width="0.7"/>
<circle cx="172" cy="323.9" r="1.35" fill="none" stroke="#8a8a8a" stroke-width="0.7"/>
<circle cx="175.3" cy="323.42" r="1.35" fill="none" stroke="#8a8a8a" stroke-width="0.7"/>
<rect x="177.7" y="337.95" width="7.4" height="8.05" fill="#72b8bd" stroke="#5aaab0" stroke-width="0.7"/>
<line x1="181.4" y1="337.02" x2="181.4" y2="338.88" stroke="#5fb3b8" stroke-width="0.7"/>
<line x1="180" y1="337.02" x2="182.8" y2="337.02" stroke="#5fb3b8" stroke-width="0.7"/>
<circle cx="179.4" cy="337.23" r="1.35" fill="none" stroke="#5fb3b8" stroke-width="0.7"/>
<circle cx="183.4" cy="336.75" r="1.35" fill="none" stroke="#5fb3b8" stroke-width="0.7"/>
<circle cx="179.9" cy="338.56" r="1.35" fill="none" stroke="#5fb3b8" stroke-width="0.7"/>
<circle cx="183.2" cy="338.19" r="1.35" fill="none" stroke="#5fb3b8" stroke-width="0.7"/>
<rect x="185.7" y="326.81" width="7.4" height="19.19" fill="#f890b5" stroke="#f06a98" stroke-width="0.7"/>
<line x1="189.4" y1="325.26" x2="189.4" y2="328.36" stroke="#ee5088" stroke-width="0.7"/>
<line x1="188" y1="325.26" x2="190.8" y2="325.26" stroke="#ee5088" stroke-width="0.7"/>
<circle cx="187.4" cy="325.6" r="1.35" fill="none" stroke="#ee5088" stroke-width="0.7"/>
<circle cx="191.4" cy="324.8" r="1.35" fill="none" stroke="#ee5088" stroke-width="0.7"/>
<circle cx="187.9" cy="327.82" r="1.35" fill="none" stroke="#ee5088" stroke-width="0.7"/>
<circle cx="191.2" cy="327.21" r="1.35" fill="none" stroke="#ee5088" stroke-width="0.7"/>
<line x1="181.45" y1="346" x2="181.45" y2="348" stroke="#999999" stroke-width="0.8"/>
<rect x="201.1" y="297.1" width="7.4" height="48.9" fill="#cbcbcb" stroke="#9a9a9a" stroke-width="0.7"/>
<line x1="204.8" y1="295.24" x2="204.8" y2="298.96" stroke="#8a8a8a" stroke-width="0.7"/>
<line x1="203.4" y1="295.24" x2="206.2" y2="295.24" stroke="#8a8a8a" stroke-width="0.7"/>
<circle cx="202.8" cy="295.65" r="1.35" fill="none" stroke="#8a8a8a" stroke-width="0.7"/>
<circle cx="206.8" cy="294.68" r="1.35" fill="none" stroke="#8a8a8a" stroke-width="0.7"/>
<circle cx="203.3" cy="298.31" r="1.35" fill="none" stroke="#8a8a8a" stroke-width="0.7"/>
<circle cx="206.6" cy="297.58" r="1.35" fill="none" stroke="#8a8a8a" stroke-width="0.7"/>
<rect x="209" y="341.05" width="7.4" height="4.95" fill="#72b8bd" stroke="#5aaab0" stroke-width="0.7"/>
<line x1="212.7" y1="339.81" x2="212.7" y2="342.29" stroke="#5fb3b8" stroke-width="0.7"/>
<line x1="211.3" y1="339.81" x2="214.1" y2="339.81" stroke="#5fb3b8" stroke-width="0.7"/>
<circle cx="210.7" cy="340.08" r="1.35" fill="none" stroke="#5fb3b8" stroke-width="0.7"/>
<circle cx="214.7" cy="339.44" r="1.35" fill="none" stroke="#5fb3b8" stroke-width="0.7"/>
<circle cx="211.2" cy="341.85" r="1.35" fill="none" stroke="#5fb3b8" stroke-width="0.7"/>
<circle cx="214.5" cy="341.37" r="1.35" fill="none" stroke="#5fb3b8" stroke-width="0.7"/>
<rect x="217" y="329.29" width="7.4" height="16.71" fill="#f890b5" stroke="#f06a98" stroke-width="0.7"/>
<line x1="220.7" y1="326.81" x2="220.7" y2="331.76" stroke="#ee5088" stroke-width="0.7"/>
<line x1="219.3" y1="326.81" x2="222.1" y2="326.81" stroke="#ee5088" stroke-width="0.7"/>
<circle cx="218.7" cy="327.36" r="1.35" fill="none" stroke="#ee5088" stroke-width="0.7"/>
<circle cx="222.7" cy="326.07" r="1.35" fill="none" stroke="#ee5088" stroke-width="0.7"/>
<circle cx="219.2" cy="330.9" r="1.35" fill="none" stroke="#ee5088" stroke-width="0.7"/>
<circle cx="222.5" cy="329.93" r="1.35" fill="none" stroke="#ee5088" stroke-width="0.7"/>
<line x1="212.75" y1="346" x2="212.75" y2="348" stroke="#999999" stroke-width="0.8"/>
<text x="145.8" y="313" font-size="7.65" transform="rotate(-90 145.8 313)" text-anchor="middle" stroke="#000" stroke-width="0.15">OCR (pmol/min/12K cells)</text>
<text x="0" y="0" font-size="8.89" transform="translate(173.4 355.5) scale(0.8547 1)" text-anchor="middle" stroke="#000" stroke-width="0.15">Basal</text>
<text x="0" y="0" font-size="8.89" transform="translate(217.3 355.5) scale(0.8547 1)" text-anchor="middle" stroke="#000" stroke-width="0.15">Maximum</text>
<text x="0" y="0" font-size="8.89" transform="translate(173.4 364.4) scale(0.8547 1)" text-anchor="middle" stroke="#000" stroke-width="0.15">respiration</text>
<text x="0" y="0" font-size="8.89" transform="translate(217.3 364.4) scale(0.8547 1)" text-anchor="middle" stroke="#000" stroke-width="0.15">respiration</text>
<line x1="181.5" y1="318" x2="181.5" y2="333" stroke="#e4e4e4" stroke-width="0.6"/>
<line x1="189.5" y1="312" x2="189.5" y2="328" stroke="#e4e4e4" stroke-width="0.6"/>
<line x1="173.5" y1="318" x2="173.5" y2="322" stroke="#e4e4e4" stroke-width="0.6"/>
<line x1="173.5" y1="312" x2="173.5" y2="324" stroke="#e4e4e4" stroke-width="0.6"/>
<text x="179.5" y="318.82" font-size="7.7" text-anchor="middle" font-weight="bold" stroke="#000" stroke-width="0.15">****</text>
<text x="188.6" y="313.12" font-size="7.7" text-anchor="middle" font-weight="bold" stroke="#000" stroke-width="0.15">*</text>
<line x1="205" y1="290" x2="205" y2="296" stroke="#e4e4e4" stroke-width="0.6"/>
<line x1="213" y1="290" x2="213" y2="339" stroke="#e4e4e4" stroke-width="0.6"/>
<line x1="221" y1="284" x2="221" y2="329" stroke="#e4e4e4" stroke-width="0.6"/>
<text x="211" y="291.02" font-size="7.7" text-anchor="middle" font-weight="bold" stroke="#000" stroke-width="0.15">****</text>
<text x="216.8" y="284.92" font-size="7.7" text-anchor="middle" font-weight="bold" stroke="#000" stroke-width="0.15">****</text>
<line x1="271.5" y1="354" x2="271.5" y2="286.1" stroke="#999999" stroke-width="0.9"/>
<line x1="269.5" y1="353.5" x2="271.5" y2="353.5" stroke="#999999" stroke-width="0.8"/>
<text x="0" y="0" font-size="10.06" transform="translate(267.5 356.6) scale(0.8547 1)" text-anchor="end" stroke="#000" stroke-width="0.15">0</text>
<line x1="269.5" y1="342.27" x2="271.5" y2="342.27" stroke="#999999" stroke-width="0.8"/>
<text x="0" y="0" font-size="10.06" transform="translate(267.5 345.36) scale(0.8547 1)" text-anchor="end" stroke="#000" stroke-width="0.15">5</text>
<line x1="269.5" y1="331.03" x2="271.5" y2="331.03" stroke="#999999" stroke-width="0.8"/>
<text x="0" y="0" font-size="10.06" transform="translate(267.5 334.13) scale(0.8547 1)" text-anchor="end" stroke="#000" stroke-width="0.15">10</text>
<line x1="269.5" y1="319.8" x2="271.5" y2="319.8" stroke="#999999" stroke-width="0.8"/>
<text x="0" y="0" font-size="10.06" transform="translate(267.5 322.9) scale(0.8547 1)" text-anchor="end" stroke="#000" stroke-width="0.15">15</text>
<line x1="269.5" y1="308.57" x2="271.5" y2="308.57" stroke="#999999" stroke-width="0.8"/>
<text x="0" y="0" font-size="10.06" transform="translate(267.5 311.66) scale(0.8547 1)" text-anchor="end" stroke="#000" stroke-width="0.15">20</text>
<line x1="269.5" y1="297.33" x2="271.5" y2="297.33" stroke="#999999" stroke-width="0.8"/>
<text x="0" y="0" font-size="10.06" transform="translate(267.5 300.43) scale(0.8547 1)" text-anchor="end" stroke="#000" stroke-width="0.15">25</text>
<line x1="269.5" y1="286.1" x2="271.5" y2="286.1" stroke="#999999" stroke-width="0.8"/>
<text x="0" y="0" font-size="10.06" transform="translate(267.5 289.2) scale(0.8547 1)" text-anchor="end" stroke="#000" stroke-width="0.15">30</text>
<line x1="271" y1="353.5" x2="337.6" y2="353.5" stroke="#999999" stroke-width="0.9"/>
<rect x="274" y="324.29" width="7.8" height="29.21" fill="#cbcbcb" stroke="#9a9a9a" stroke-width="0.7"/>
<line x1="277.9" y1="322.05" x2="277.9" y2="326.54" stroke="#8a8a8a" stroke-width="0.7"/>
<line x1="276.5" y1="322.05" x2="279.3" y2="322.05" stroke="#8a8a8a" stroke-width="0.7"/>
<circle cx="275.9" cy="322.54" r="1.35" fill="none" stroke="#8a8a8a" stroke-width="0.7"/>
<circle cx="279.9" cy="321.37" r="1.35" fill="none" stroke="#8a8a8a" stroke-width="0.7"/>
<circle cx="276.4" cy="325.75" r="1.35" fill="none" stroke="#8a8a8a" stroke-width="0.7"/>
<circle cx="279.7" cy="324.88" r="1.35" fill="none" stroke="#8a8a8a" stroke-width="0.7"/>
<rect x="282.9" y="335.53" width="7.8" height="17.97" fill="#72b8bd" stroke="#5aaab0" stroke-width="0.7"/>
<line x1="286.8" y1="332.16" x2="286.8" y2="338.9" stroke="#5fb3b8" stroke-width="0.7"/>
<line x1="285.4" y1="332.16" x2="288.2" y2="332.16" stroke="#5fb3b8" stroke-width="0.7"/>
<circle cx="284.8" cy="332.9" r="1.35" fill="none" stroke="#5fb3b8" stroke-width="0.7"/>
<circle cx="288.8" cy="331.15" r="1.35" fill="none" stroke="#5fb3b8" stroke-width="0.7"/>
<circle cx="285.3" cy="337.72" r="1.35" fill="none" stroke="#5fb3b8" stroke-width="0.7"/>
<circle cx="288.6" cy="336.4" r="1.35" fill="none" stroke="#5fb3b8" stroke-width="0.7"/>
<rect x="291.7" y="325.42" width="7.8" height="28.08" fill="#f890b5" stroke="#f06a98" stroke-width="0.7"/>
<line x1="295.6" y1="317.55" x2="295.6" y2="333.28" stroke="#ee5088" stroke-width="0.7"/>
<line x1="294.2" y1="317.55" x2="297" y2="317.55" stroke="#ee5088" stroke-width="0.7"/>
<circle cx="293.6" cy="319.28" r="1.35" fill="none" stroke="#ee5088" stroke-width="0.7"/>
<circle cx="297.6" cy="315.19" r="1.35" fill="none" stroke="#ee5088" stroke-width="0.7"/>
<circle cx="294.1" cy="330.53" r="1.35" fill="none" stroke="#ee5088" stroke-width="0.7"/>
<circle cx="297.4" cy="327.46" r="1.35" fill="none" stroke="#ee5088" stroke-width="0.7"/>
<line x1="286.75" y1="353.5" x2="286.75" y2="355.5" stroke="#999999" stroke-width="0.8"/>
<rect x="308.2" y="298.46" width="7.8" height="55.04" fill="#cbcbcb" stroke="#9a9a9a" stroke-width="0.7"/>
<line x1="312.1" y1="295.09" x2="312.1" y2="301.83" stroke="#8a8a8a" stroke-width="0.7"/>
<line x1="310.7" y1="295.09" x2="313.5" y2="295.09" stroke="#8a8a8a" stroke-width="0.7"/>
<circle cx="310.1" cy="295.83" r="1.35" fill="none" stroke="#8a8a8a" stroke-width="0.7"/>
<circle cx="314.1" cy="294.08" r="1.35" fill="none" stroke="#8a8a8a" stroke-width="0.7"/>
<circle cx="310.6" cy="300.65" r="1.35" fill="none" stroke="#8a8a8a" stroke-width="0.7"/>
<circle cx="313.9" cy="299.33" r="1.35" fill="none" stroke="#8a8a8a" stroke-width="0.7"/>
<rect x="317.1" y="342.72" width="7.8" height="10.78" fill="#72b8bd" stroke="#5aaab0" stroke-width="0.7"/>
<line x1="321" y1="336.43" x2="321" y2="349.01" stroke="#5fb3b8" stroke-width="0.7"/>
<line x1="319.6" y1="336.43" x2="322.4" y2="336.43" stroke="#5fb3b8" stroke-width="0.7"/>
<circle cx="319" cy="337.81" r="1.35" fill="none" stroke="#5fb3b8" stroke-width="0.7"/>
<circle cx="323" cy="334.54" r="1.35" fill="none" stroke="#5fb3b8" stroke-width="0.7"/>
<circle cx="319.5" cy="346.8" r="1.35" fill="none" stroke="#5fb3b8" stroke-width="0.7"/>
<circle cx="322.8" cy="344.35" r="1.35" fill="none" stroke="#5fb3b8" stroke-width="0.7"/>
<rect x="325.8" y="311.94" width="7.8" height="41.56" fill="#f890b5" stroke="#f06a98" stroke-width="0.7"/>
<line x1="329.7" y1="309.24" x2="329.7" y2="314.63" stroke="#ee5088" stroke-width="0.7"/>
<line x1="328.3" y1="309.24" x2="331.1" y2="309.24" stroke="#ee5088" stroke-width="0.7"/>
<circle cx="327.7" cy="309.83" r="1.35" fill="none" stroke="#ee5088" stroke-width="0.7"/>
<circle cx="331.7" cy="308.43" r="1.35" fill="none" stroke="#ee5088" stroke-width="0.7"/>
<circle cx="328.2" cy="313.69" r="1.35" fill="none" stroke="#ee5088" stroke-width="0.7"/>
<circle cx="331.5" cy="312.64" r="1.35" fill="none" stroke="#ee5088" stroke-width="0.7"/>
<line x1="320.9" y1="353.5" x2="320.9" y2="355.5" stroke="#999999" stroke-width="0.8"/>
<text x="251.5" y="317.9" font-size="8.4" transform="rotate(-90 251.5 317.9)" text-anchor="middle" stroke="#000" stroke-width="0.15">OCR (pmol/min/12K cells)</text>
<text x="0" y="0" font-size="8.96" transform="translate(286 363.6) scale(0.9259 1)" text-anchor="middle" stroke="#000" stroke-width="0.15">Proton</text>
<text x="0" y="0" font-size="8.96" transform="translate(286 372.9) scale(0.9259 1)" text-anchor="middle" stroke="#000" stroke-width="0.15">leak</text>
<text x="0" y="0" font-size="8.96" transform="translate(321.4 363.6) scale(0.9259 1)" text-anchor="middle" stroke="#000" stroke-width="0.15">ATP</text>
<text x="0" y="0" font-size="8.96" transform="translate(321.4 372.9) scale(0.9259 1)" text-anchor="middle" stroke="#000" stroke-width="0.15">production</text>
<text x="0" y="0" font-size="9.59" transform="translate(282.8 315.11) scale(0.8547 1)" text-anchor="middle" fill="#b9b9b9" stroke="#b9b9b9" stroke-width="0.15">ns</text>
<text x="0" y="0" font-size="9.59" transform="translate(292.3 308.21) scale(0.8547 1)" text-anchor="middle" fill="#b9b9b9" stroke="#b9b9b9" stroke-width="0.15">ns</text>
<line x1="278" y1="316" x2="278" y2="320" stroke="#e4e4e4" stroke-width="0.6"/>
<line x1="287" y1="316" x2="287" y2="333" stroke="#e4e4e4" stroke-width="0.6"/>
<line x1="287" y1="310" x2="287" y2="333" stroke="#e4e4e4" stroke-width="0.6"/>
<line x1="296" y1="310" x2="296" y2="318" stroke="#e4e4e4" stroke-width="0.6"/>
<text x="317.4" y="290.62" font-size="7.7" text-anchor="middle" font-weight="bold" stroke="#000" stroke-width="0.15">****</text>
<text x="325.1" y="284.72" font-size="7.7" text-anchor="middle" font-weight="bold" stroke="#000" stroke-width="0.15">***</text>
<line x1="312" y1="290" x2="312" y2="296" stroke="#e4e4e4" stroke-width="0.6"/>
<line x1="321" y1="290" x2="321" y2="340" stroke="#e4e4e4" stroke-width="0.6"/>
<line x1="321" y1="284" x2="321" y2="340" stroke="#e4e4e4" stroke-width="0.6"/>
<line x1="330" y1="284" x2="330" y2="310" stroke="#e4e4e4" stroke-width="0.6"/>
<line x1="30.5" y1="467.3" x2="30.5" y2="404.7" stroke="#9a9a9a" stroke-width="0.9"/>
<line x1="28.5" y1="466.8" x2="30.5" y2="466.8" stroke="#9a9a9a" stroke-width="0.8"/>
<text x="0" y="0" font-size="9.13" transform="translate(27.5 469.61) scale(0.8547 1)" text-anchor="end" stroke="#000" stroke-width="0.15">0</text>
<line x1="28.5" y1="454.38" x2="30.5" y2="454.38" stroke="#9a9a9a" stroke-width="0.8"/>
<text x="0" y="0" font-size="9.13" transform="translate(27.5 457.19) scale(0.8547 1)" text-anchor="end" stroke="#000" stroke-width="0.15">20</text>
<line x1="28.5" y1="441.96" x2="30.5" y2="441.96" stroke="#9a9a9a" stroke-width="0.8"/>
<text x="0" y="0" font-size="9.13" transform="translate(27.5 444.77) scale(0.8547 1)" text-anchor="end" stroke="#000" stroke-width="0.15">40</text>
<line x1="28.5" y1="429.54" x2="30.5" y2="429.54" stroke="#9a9a9a" stroke-width="0.8"/>
<text x="0" y="0" font-size="9.13" transform="translate(27.5 432.35) scale(0.8547 1)" text-anchor="end" stroke="#000" stroke-width="0.15">60</text>
<line x1="28.5" y1="417.12" x2="30.5" y2="417.12" stroke="#9a9a9a" stroke-width="0.8"/>
<text x="0" y="0" font-size="9.13" transform="translate(27.5 419.93) scale(0.8547 1)" text-anchor="end" stroke="#000" stroke-width="0.15">80</text>
<line x1="28.5" y1="404.7" x2="30.5" y2="404.7" stroke="#9a9a9a" stroke-width="0.8"/>
<text x="0" y="0" font-size="9.13" transform="translate(27.5 407.51) scale(0.8547 1)" text-anchor="end" stroke="#000" stroke-width="0.15">100</text>
<line x1="30" y1="466.5" x2="123.3" y2="466.5" stroke="#9a9a9a" stroke-width="0.9"/>
<line x1="30" y1="466.8" x2="30" y2="468.8" stroke="#9a9a9a" stroke-width="0.8"/>
<text x="0" y="0" font-size="9.13" transform="translate(30 476.4) scale(0.8547 1)" text-anchor="middle" stroke="#000" stroke-width="0.15">0</text>
<line x1="76.65" y1="466.8" x2="76.65" y2="468.8" stroke="#9a9a9a" stroke-width="0.8"/>
<text x="0" y="0" font-size="9.13" transform="translate(76.65 476.4) scale(0.8547 1)" text-anchor="middle" stroke="#000" stroke-width="0.15">50</text>
<line x1="123.3" y1="466.8" x2="123.3" y2="468.8" stroke="#9a9a9a" stroke-width="0.8"/>
<text x="0" y="0" font-size="9.13" transform="translate(123.3 476.4) scale(0.8547 1)" text-anchor="middle" stroke="#000" stroke-width="0.15">100</text>
<text x="0" y="0" font-size="9.01" transform="translate(77.15 485.6) scale(0.8547 1)" text-anchor="middle" stroke="#000" stroke-width="0.15">Time (minutes)</text>
<text x="0" y="0" font-size="10.18" transform="translate(29.4 391.4) scale(0.8547 1)" stroke="#000" stroke-width="0.15">H1437</text>
<text x="10.6" y="431" font-size="7.65" transform="rotate(-90 10.6 431)" text-anchor="middle" stroke="#000" stroke-width="0.15">OCR (pmol/min/12K cells)</text>
<polyline points="30.8,454.38 39.24,456.86 47.26,458.11 55.19,458.73 63.03,458.73 71.05,458.73 79.08,458.11 87.1,458.11 94.84,458.73 102.87,458.73 110.89,458.11 118.91,459.35" fill="none" stroke="#62b1b5" stroke-width="0.9"/>
<line x1="30.8" y1="451.9" x2="30.8" y2="456.86" stroke="#62b1b5" stroke-width="0.8"/>
<line x1="29.1" y1="451.9" x2="32.5" y2="451.9" stroke="#62b1b5" stroke-width="0.8"/>
<line x1="29.1" y1="456.86" x2="32.5" y2="456.86" stroke="#62b1b5" stroke-width="0.8"/>
<circle cx="30.8" cy="454.38" r="1.85" fill="#fff" stroke="#62b1b5" stroke-width="0.85"/>
<line x1="39.24" y1="455" x2="39.24" y2="458.73" stroke="#62b1b5" stroke-width="0.8"/>
<line x1="37.54" y1="455" x2="40.94" y2="455" stroke="#62b1b5" stroke-width="0.8"/>
<line x1="37.54" y1="458.73" x2="40.94" y2="458.73" stroke="#62b1b5" stroke-width="0.8"/>
<circle cx="39.24" cy="456.86" r="1.85" fill="#fff" stroke="#62b1b5" stroke-width="0.85"/>
<line x1="47.26" y1="456.24" x2="47.26" y2="459.97" stroke="#62b1b5" stroke-width="0.8"/>
<line x1="45.56" y1="456.24" x2="48.96" y2="456.24" stroke="#62b1b5" stroke-width="0.8"/>
<line x1="45.56" y1="459.97" x2="48.96" y2="459.97" stroke="#62b1b5" stroke-width="0.8"/>
<circle cx="47.26" cy="458.11" r="1.85" fill="#fff" stroke="#62b1b5" stroke-width="0.85"/>
<line x1="55.19" y1="458.11" x2="55.19" y2="459.35" stroke="#62b1b5" stroke-width="0.8"/>
<line x1="53.49" y1="458.11" x2="56.89" y2="458.11" stroke="#62b1b5" stroke-width="0.8"/>
<line x1="53.49" y1="459.35" x2="56.89" y2="459.35" stroke="#62b1b5" stroke-width="0.8"/>
<circle cx="55.19" cy="458.73" r="1.85" fill="#fff" stroke="#62b1b5" stroke-width="0.85"/>
<line x1="63.03" y1="458.11" x2="63.03" y2="459.35" stroke="#62b1b5" stroke-width="0.8"/>
<line x1="61.33" y1="458.11" x2="64.73" y2="458.11" stroke="#62b1b5" stroke-width="0.8"/>
<line x1="61.33" y1="459.35" x2="64.73" y2="459.35" stroke="#62b1b5" stroke-width="0.8"/>
<circle cx="63.03" cy="458.73" r="1.85" fill="#fff" stroke="#62b1b5" stroke-width="0.85"/>
<line x1="71.05" y1="458.11" x2="71.05" y2="459.35" stroke="#62b1b5" stroke-width="0.8"/>
<line x1="69.35" y1="458.11" x2="72.75" y2="458.11" stroke="#62b1b5" stroke-width="0.8"/>
<line x1="69.35" y1="459.35" x2="72.75" y2="459.35" stroke="#62b1b5" stroke-width="0.8"/>
<circle cx="71.05" cy="458.73" r="1.85" fill="#fff" stroke="#62b1b5" stroke-width="0.85"/>
<line x1="79.08" y1="456.24" x2="79.08" y2="459.97" stroke="#62b1b5" stroke-width="0.8"/>
<line x1="77.38" y1="456.24" x2="80.78" y2="456.24" stroke="#62b1b5" stroke-width="0.8"/>
<line x1="77.38" y1="459.97" x2="80.78" y2="459.97" stroke="#62b1b5" stroke-width="0.8"/>
<circle cx="79.08" cy="458.11" r="1.85" fill="#fff" stroke="#62b1b5" stroke-width="0.85"/>
<line x1="87.1" y1="456.24" x2="87.1" y2="459.97" stroke="#62b1b5" stroke-width="0.8"/>
<line x1="85.4" y1="456.24" x2="88.8" y2="456.24" stroke="#62b1b5" stroke-width="0.8"/>
<line x1="85.4" y1="459.97" x2="88.8" y2="459.97" stroke="#62b1b5" stroke-width="0.8"/>
<circle cx="87.1" cy="458.11" r="1.85" fill="#fff" stroke="#62b1b5" stroke-width="0.85"/>
<line x1="94.84" y1="456.86" x2="94.84" y2="460.59" stroke="#62b1b5" stroke-width="0.8"/>
<line x1="93.14" y1="456.86" x2="96.54" y2="456.86" stroke="#62b1b5" stroke-width="0.8"/>
<line x1="93.14" y1="460.59" x2="96.54" y2="460.59" stroke="#62b1b5" stroke-width="0.8"/>
<circle cx="94.84" cy="458.73" r="1.85" fill="#fff" stroke="#62b1b5" stroke-width="0.85"/>
<line x1="102.87" y1="458.11" x2="102.87" y2="459.35" stroke="#62b1b5" stroke-width="0.8"/>
<line x1="101.17" y1="458.11" x2="104.57" y2="458.11" stroke="#62b1b5" stroke-width="0.8"/>
<line x1="101.17" y1="459.35" x2="104.57" y2="459.35" stroke="#62b1b5" stroke-width="0.8"/>
<circle cx="102.87" cy="458.73" r="1.85" fill="#fff" stroke="#62b1b5" stroke-width="0.85"/>
<line x1="110.89" y1="456.86" x2="110.89" y2="459.35" stroke="#62b1b5" stroke-width="0.8"/>
<line x1="109.19" y1="456.86" x2="112.59" y2="456.86" stroke="#62b1b5" stroke-width="0.8"/>
<line x1="109.19" y1="459.35" x2="112.59" y2="459.35" stroke="#62b1b5" stroke-width="0.8"/>
<circle cx="110.89" cy="458.11" r="1.85" fill="#fff" stroke="#62b1b5" stroke-width="0.85"/>
<line x1="118.91" y1="458.11" x2="118.91" y2="460.59" stroke="#62b1b5" stroke-width="0.8"/>
<line x1="117.21" y1="458.11" x2="120.61" y2="458.11" stroke="#62b1b5" stroke-width="0.8"/>
<line x1="117.21" y1="460.59" x2="120.61" y2="460.59" stroke="#62b1b5" stroke-width="0.8"/>
<circle cx="118.91" cy="459.35" r="1.85" fill="#fff" stroke="#62b1b5" stroke-width="0.85"/>
<polyline points="30.8,430.78 39.24,432.02 47.26,432.02 55.19,448.17 63.03,448.17 71.05,447.55 79.08,422.09 87.1,421.47 94.84,422.09 102.87,451.27 110.89,451.27 118.91,451.27" fill="none" stroke="#7a7a7a" stroke-width="0.9"/>
<line x1="30.8" y1="430.16" x2="30.8" y2="431.4" stroke="#7a7a7a" stroke-width="0.8"/>
<line x1="29.1" y1="430.16" x2="32.5" y2="430.16" stroke="#7a7a7a" stroke-width="0.8"/>
<line x1="29.1" y1="431.4" x2="32.5" y2="431.4" stroke="#7a7a7a" stroke-width="0.8"/>
<circle cx="30.8" cy="430.78" r="1.85" fill="#fff" stroke="#7a7a7a" stroke-width="0.85"/>
<line x1="39.24" y1="431.4" x2="39.24" y2="432.64" stroke="#7a7a7a" stroke-width="0.8"/>
<line x1="37.54" y1="431.4" x2="40.94" y2="431.4" stroke="#7a7a7a" stroke-width="0.8"/>
<line x1="37.54" y1="432.64" x2="40.94" y2="432.64" stroke="#7a7a7a" stroke-width="0.8"/>
<circle cx="39.24" cy="432.02" r="1.85" fill="#fff" stroke="#7a7a7a" stroke-width="0.85"/>
<line x1="47.26" y1="431.4" x2="47.26" y2="432.64" stroke="#7a7a7a" stroke-width="0.8"/>
<line x1="45.56" y1="431.4" x2="48.96" y2="431.4" stroke="#7a7a7a" stroke-width="0.8"/>
<line x1="45.56" y1="432.64" x2="48.96" y2="432.64" stroke="#7a7a7a" stroke-width="0.8"/>
<circle cx="47.26" cy="432.02" r="1.85" fill="#fff" stroke="#7a7a7a" stroke-width="0.85"/>
<line x1="55.19" y1="447.55" x2="55.19" y2="448.79" stroke="#7a7a7a" stroke-width="0.8"/>
<line x1="53.49" y1="447.55" x2="56.89" y2="447.55" stroke="#7a7a7a" stroke-width="0.8"/>
<line x1="53.49" y1="448.79" x2="56.89" y2="448.79" stroke="#7a7a7a" stroke-width="0.8"/>
<circle cx="55.19" cy="448.17" r="1.85" fill="#fff" stroke="#7a7a7a" stroke-width="0.85"/>
<line x1="63.03" y1="447.55" x2="63.03" y2="448.79" stroke="#7a7a7a" stroke-width="0.8"/>
<line x1="61.33" y1="447.55" x2="64.73" y2="447.55" stroke="#7a7a7a" stroke-width="0.8"/>
<line x1="61.33" y1="448.79" x2="64.73" y2="448.79" stroke="#7a7a7a" stroke-width="0.8"/>
<circle cx="63.03" cy="448.17" r="1.85" fill="#fff" stroke="#7a7a7a" stroke-width="0.85"/>
<line x1="71.05" y1="446.93" x2="71.05" y2="448.17" stroke="#7a7a7a" stroke-width="0.8"/>
<line x1="69.35" y1="446.93" x2="72.75" y2="446.93" stroke="#7a7a7a" stroke-width="0.8"/>
<line x1="69.35" y1="448.17" x2="72.75" y2="448.17" stroke="#7a7a7a" stroke-width="0.8"/>
<circle cx="71.05" cy="447.55" r="1.85" fill="#fff" stroke="#7a7a7a" stroke-width="0.85"/>
<line x1="79.08" y1="421.47" x2="79.08" y2="422.71" stroke="#7a7a7a" stroke-width="0.8"/>
<line x1="77.38" y1="421.47" x2="80.78" y2="421.47" stroke="#7a7a7a" stroke-width="0.8"/>
<line x1="77.38" y1="422.71" x2="80.78" y2="422.71" stroke="#7a7a7a" stroke-width="0.8"/>
<circle cx="79.08" cy="422.09" r="1.85" fill="#fff" stroke="#7a7a7a" stroke-width="0.85"/>
<line x1="87.1" y1="420.85" x2="87.1" y2="422.09" stroke="#7a7a7a" stroke-width="0.8"/>
<line x1="85.4" y1="420.85" x2="88.8" y2="420.85" stroke="#7a7a7a" stroke-width="0.8"/>
<line x1="85.4" y1="422.09" x2="88.8" y2="422.09" stroke="#7a7a7a" stroke-width="0.8"/>
<circle cx="87.1" cy="421.47" r="1.85" fill="#fff" stroke="#7a7a7a" stroke-width="0.85"/>
<line x1="94.84" y1="421.47" x2="94.84" y2="422.71" stroke="#7a7a7a" stroke-width="0.8"/>
<line x1="93.14" y1="421.47" x2="96.54" y2="421.47" stroke="#7a7a7a" stroke-width="0.8"/>
<line x1="93.14" y1="422.71" x2="96.54" y2="422.71" stroke="#7a7a7a" stroke-width="0.8"/>
<circle cx="94.84" cy="422.09" r="1.85" fill="#fff" stroke="#7a7a7a" stroke-width="0.85"/>
<line x1="102.87" y1="450.65" x2="102.87" y2="451.9" stroke="#7a7a7a" stroke-width="0.8"/>
<line x1="101.17" y1="450.65" x2="104.57" y2="450.65" stroke="#7a7a7a" stroke-width="0.8"/>
<line x1="101.17" y1="451.9" x2="104.57" y2="451.9" stroke="#7a7a7a" stroke-width="0.8"/>
<circle cx="102.87" cy="451.27" r="1.85" fill="#fff" stroke="#7a7a7a" stroke-width="0.85"/>
<line x1="110.89" y1="450.65" x2="110.89" y2="451.9" stroke="#7a7a7a" stroke-width="0.8"/>
<line x1="109.19" y1="450.65" x2="112.59" y2="450.65" stroke="#7a7a7a" stroke-width="0.8"/>
<line x1="109.19" y1="451.9" x2="112.59" y2="451.9" stroke="#7a7a7a" stroke-width="0.8"/>
<circle cx="110.89" cy="451.27" r="1.85" fill="#fff" stroke="#7a7a7a" stroke-width="0.85"/>
<line x1="118.91" y1="450.65" x2="118.91" y2="451.9" stroke="#7a7a7a" stroke-width="0.8"/>
<line x1="117.21" y1="450.65" x2="120.61" y2="450.65" stroke="#7a7a7a" stroke-width="0.8"/>
<line x1="117.21" y1="451.9" x2="120.61" y2="451.9" stroke="#7a7a7a" stroke-width="0.8"/>
<circle cx="118.91" cy="451.27" r="1.85" fill="#fff" stroke="#7a7a7a" stroke-width="0.85"/>
<polyline points="30.8,435.13 39.24,436.37 47.26,436.99 55.19,450.03 63.03,450.03 71.05,450.03 79.08,441.96 87.1,441.96 94.84,441.96 102.87,452.52 110.89,452.52 118.91,453.14" fill="none" stroke="#ea3f7e" stroke-width="0.9"/>
<line x1="30.8" y1="433.27" x2="30.8" y2="436.99" stroke="#ea3f7e" stroke-width="0.8"/>
<line x1="29.1" y1="433.27" x2="32.5" y2="433.27" stroke="#ea3f7e" stroke-width="0.8"/>
<line x1="29.1" y1="436.99" x2="32.5" y2="436.99" stroke="#ea3f7e" stroke-width="0.8"/>
<circle cx="30.8" cy="435.13" r="1.85" fill="#fff" stroke="#ea3f7e" stroke-width="0.85"/>
<line x1="39.24" y1="434.51" x2="39.24" y2="438.23" stroke="#ea3f7e" stroke-width="0.8"/>
<line x1="37.54" y1="434.51" x2="40.94" y2="434.51" stroke="#ea3f7e" stroke-width="0.8"/>
<line x1="37.54" y1="438.23" x2="40.94" y2="438.23" stroke="#ea3f7e" stroke-width="0.8"/>
<circle cx="39.24" cy="436.37" r="1.85" fill="#fff" stroke="#ea3f7e" stroke-width="0.85"/>
<line x1="47.26" y1="435.13" x2="47.26" y2="438.86" stroke="#ea3f7e" stroke-width="0.8"/>
<line x1="45.56" y1="435.13" x2="48.96" y2="435.13" stroke="#ea3f7e" stroke-width="0.8"/>
<line x1="45.56" y1="438.86" x2="48.96" y2="438.86" stroke="#ea3f7e" stroke-width="0.8"/>
<circle cx="47.26" cy="436.99" r="1.85" fill="#fff" stroke="#ea3f7e" stroke-width="0.85"/>
<line x1="55.19" y1="448.17" x2="55.19" y2="451.9" stroke="#ea3f7e" stroke-width="0.8"/>
<line x1="53.49" y1="448.17" x2="56.89" y2="448.17" stroke="#ea3f7e" stroke-width="0.8"/>
<line x1="53.49" y1="451.9" x2="56.89" y2="451.9" stroke="#ea3f7e" stroke-width="0.8"/>
<circle cx="55.19" cy="450.03" r="1.85" fill="#fff" stroke="#ea3f7e" stroke-width="0.85"/>
<line x1="63.03" y1="448.17" x2="63.03" y2="451.9" stroke="#ea3f7e" stroke-width="0.8"/>
<line x1="61.33" y1="448.17" x2="64.73" y2="448.17" stroke="#ea3f7e" stroke-width="0.8"/>
<line x1="61.33" y1="451.9" x2="64.73" y2="451.9" stroke="#ea3f7e" stroke-width="0.8"/>
<circle cx="63.03" cy="450.03" r="1.85" fill="#fff" stroke="#ea3f7e" stroke-width="0.85"/>
<line x1="71.05" y1="448.17" x2="71.05" y2="451.9" stroke="#ea3f7e" stroke-width="0.8"/>
<line x1="69.35" y1="448.17" x2="72.75" y2="448.17" stroke="#ea3f7e" stroke-width="0.8"/>
<line x1="69.35" y1="451.9" x2="72.75" y2="451.9" stroke="#ea3f7e" stroke-width="0.8"/>
<circle cx="71.05" cy="450.03" r="1.85" fill="#fff" stroke="#ea3f7e" stroke-width="0.85"/>
<line x1="79.08" y1="440.1" x2="79.08" y2="443.82" stroke="#ea3f7e" stroke-width="0.8"/>
<line x1="77.38" y1="440.1" x2="80.78" y2="440.1" stroke="#ea3f7e" stroke-width="0.8"/>
<line x1="77.38" y1="443.82" x2="80.78" y2="443.82" stroke="#ea3f7e" stroke-width="0.8"/>
<circle cx="79.08" cy="441.96" r="1.85" fill="#fff" stroke="#ea3f7e" stroke-width="0.85"/>
<line x1="87.1" y1="440.1" x2="87.1" y2="443.82" stroke="#ea3f7e" stroke-width="0.8"/>
<line x1="85.4" y1="440.1" x2="88.8" y2="440.1" stroke="#ea3f7e" stroke-width="0.8"/>
<line x1="85.4" y1="443.82" x2="88.8" y2="443.82" stroke="#ea3f7e" stroke-width="0.8"/>
<circle cx="87.1" cy="441.96" r="1.85" fill="#fff" stroke="#ea3f7e" stroke-width="0.85"/>
<line x1="94.84" y1="440.1" x2="94.84" y2="443.82" stroke="#ea3f7e" stroke-width="0.8"/>
<line x1="93.14" y1="440.1" x2="96.54" y2="440.1" stroke="#ea3f7e" stroke-width="0.8"/>
<line x1="93.14" y1="443.82" x2="96.54" y2="443.82" stroke="#ea3f7e" stroke-width="0.8"/>
<circle cx="94.84" cy="441.96" r="1.85" fill="#fff" stroke="#ea3f7e" stroke-width="0.85"/>
<line x1="102.87" y1="450.65" x2="102.87" y2="454.38" stroke="#ea3f7e" stroke-width="0.8"/>
<line x1="101.17" y1="450.65" x2="104.57" y2="450.65" stroke="#ea3f7e" stroke-width="0.8"/>
<line x1="101.17" y1="454.38" x2="104.57" y2="454.38" stroke="#ea3f7e" stroke-width="0.8"/>
<circle cx="102.87" cy="452.52" r="1.85" fill="#fff" stroke="#ea3f7e" stroke-width="0.85"/>
<line x1="110.89" y1="450.65" x2="110.89" y2="454.38" stroke="#ea3f7e" stroke-width="0.8"/>
<line x1="109.19" y1="450.65" x2="112.59" y2="450.65" stroke="#ea3f7e" stroke-width="0.8"/>
<line x1="109.19" y1="454.38" x2="112.59" y2="454.38" stroke="#ea3f7e" stroke-width="0.8"/>
<circle cx="110.89" cy="452.52" r="1.85" fill="#fff" stroke="#ea3f7e" stroke-width="0.85"/>
<line x1="118.91" y1="451.28" x2="118.91" y2="455" stroke="#ea3f7e" stroke-width="0.8"/>
<line x1="117.21" y1="451.28" x2="120.61" y2="451.28" stroke="#ea3f7e" stroke-width="0.8"/>
<line x1="117.21" y1="455" x2="120.61" y2="455" stroke="#ea3f7e" stroke-width="0.8"/>
<circle cx="118.91" cy="453.14" r="1.85" fill="#fff" stroke="#ea3f7e" stroke-width="0.85"/>
<line x1="166.5" y1="467.1" x2="166.5" y2="404.9" stroke="#999999" stroke-width="0.9"/>
<line x1="164.5" y1="466.6" x2="166.5" y2="466.6" stroke="#999999" stroke-width="0.8"/>
<text x="0" y="0" font-size="9.13" transform="translate(162.7 469.41) scale(0.8547 1)" text-anchor="end" stroke="#000" stroke-width="0.15">0</text>
<line x1="164.5" y1="451.18" x2="166.5" y2="451.18" stroke="#999999" stroke-width="0.8"/>
<text x="0" y="0" font-size="9.13" transform="translate(162.7 453.98) scale(0.8547 1)" text-anchor="end" stroke="#000" stroke-width="0.15">20</text>
<line x1="164.5" y1="435.75" x2="166.5" y2="435.75" stroke="#999999" stroke-width="0.8"/>
<text x="0" y="0" font-size="9.13" transform="translate(162.7 438.56) scale(0.8547 1)" text-anchor="end" stroke="#000" stroke-width="0.15">40</text>
<line x1="164.5" y1="420.32" x2="166.5" y2="420.32" stroke="#999999" stroke-width="0.8"/>
<text x="0" y="0" font-size="9.13" transform="translate(162.7 423.13) scale(0.8547 1)" text-anchor="end" stroke="#000" stroke-width="0.15">60</text>
<line x1="164.5" y1="404.9" x2="166.5" y2="404.9" stroke="#999999" stroke-width="0.8"/>
<text x="0" y="0" font-size="9.13" transform="translate(162.7 407.71) scale(0.8547 1)" text-anchor="end" stroke="#000" stroke-width="0.15">80</text>
<line x1="166" y1="466.5" x2="228" y2="466.5" stroke="#999999" stroke-width="0.9"/>
<rect x="169.8" y="442.69" width="7.4" height="23.91" fill="#cbcbcb" stroke="#9a9a9a" stroke-width="0.7"/>
<line x1="173.5" y1="442.07" x2="173.5" y2="443.31" stroke="#8a8a8a" stroke-width="0.7"/>
<line x1="172.1" y1="442.07" x2="174.9" y2="442.07" stroke="#8a8a8a" stroke-width="0.7"/>
<circle cx="171.5" cy="442.21" r="1.35" fill="none" stroke="#8a8a8a" stroke-width="0.7"/>
<circle cx="175.5" cy="441.89" r="1.35" fill="none" stroke="#8a8a8a" stroke-width="0.7"/>
<circle cx="172" cy="443.09" r="1.35" fill="none" stroke="#8a8a8a" stroke-width="0.7"/>
<circle cx="175.3" cy="442.85" r="1.35" fill="none" stroke="#8a8a8a" stroke-width="0.7"/>
<rect x="177.7" y="465.44" width="7.4" height="1.16" fill="#72b8bd" stroke="#5aaab0" stroke-width="0.7"/>
<line x1="181.4" y1="464.29" x2="181.4" y2="466.6" stroke="#5fb3b8" stroke-width="0.7"/>
<line x1="180" y1="464.29" x2="182.8" y2="464.29" stroke="#5fb3b8" stroke-width="0.7"/>
<circle cx="179.4" cy="464.54" r="1.35" fill="none" stroke="#5fb3b8" stroke-width="0.7"/>
<circle cx="183.4" cy="463.94" r="1.35" fill="none" stroke="#5fb3b8" stroke-width="0.7"/>
<circle cx="179.9" cy="466.2" r="1.35" fill="none" stroke="#5fb3b8" stroke-width="0.7"/>
<circle cx="183.2" cy="465.74" r="1.35" fill="none" stroke="#5fb3b8" stroke-width="0.7"/>
<rect x="185.7" y="446.55" width="7.4" height="20.05" fill="#f890b5" stroke="#f06a98" stroke-width="0.7"/>
<line x1="189.4" y1="445.93" x2="189.4" y2="447.16" stroke="#ee5088" stroke-width="0.7"/>
<line x1="188" y1="445.93" x2="190.8" y2="445.93" stroke="#ee5088" stroke-width="0.7"/>
<circle cx="187.4" cy="446.07" r="1.35" fill="none" stroke="#ee5088" stroke-width="0.7"/>
<circle cx="191.4" cy="445.75" r="1.35" fill="none" stroke="#ee5088" stroke-width="0.7"/>
<circle cx="187.9" cy="446.95" r="1.35" fill="none" stroke="#ee5088" stroke-width="0.7"/>
<circle cx="191.2" cy="446.71" r="1.35" fill="none" stroke="#ee5088" stroke-width="0.7"/>
<line x1="181.45" y1="466.6" x2="181.45" y2="468.6" stroke="#999999" stroke-width="0.8"/>
<rect x="201.1" y="429.58" width="7.4" height="37.02" fill="#cbcbcb" stroke="#9a9a9a" stroke-width="0.7"/>
<line x1="204.8" y1="426.88" x2="204.8" y2="432.28" stroke="#8a8a8a" stroke-width="0.7"/>
<line x1="203.4" y1="426.88" x2="206.2" y2="426.88" stroke="#8a8a8a" stroke-width="0.7"/>
<circle cx="202.8" cy="427.47" r="1.35" fill="none" stroke="#8a8a8a" stroke-width="0.7"/>
<circle cx="206.8" cy="426.07" r="1.35" fill="none" stroke="#8a8a8a" stroke-width="0.7"/>
<circle cx="203.3" cy="431.33" r="1.35" fill="none" stroke="#8a8a8a" stroke-width="0.7"/>
<circle cx="206.6" cy="430.28" r="1.35" fill="none" stroke="#8a8a8a" stroke-width="0.7"/>
<rect x="209" y="465.44" width="7.4" height="1.16" fill="#72b8bd" stroke="#5aaab0" stroke-width="0.7"/>
<line x1="212.7" y1="464.29" x2="212.7" y2="466.6" stroke="#5fb3b8" stroke-width="0.7"/>
<line x1="211.3" y1="464.29" x2="214.1" y2="464.29" stroke="#5fb3b8" stroke-width="0.7"/>
<circle cx="210.7" cy="464.54" r="1.35" fill="none" stroke="#5fb3b8" stroke-width="0.7"/>
<circle cx="214.7" cy="463.94" r="1.35" fill="none" stroke="#5fb3b8" stroke-width="0.7"/>
<circle cx="211.2" cy="466.2" r="1.35" fill="none" stroke="#5fb3b8" stroke-width="0.7"/>
<circle cx="214.5" cy="465.74" r="1.35" fill="none" stroke="#5fb3b8" stroke-width="0.7"/>
<rect x="217" y="452.72" width="7.4" height="13.88" fill="#f890b5" stroke="#f06a98" stroke-width="0.7"/>
<line x1="220.7" y1="452.25" x2="220.7" y2="453.18" stroke="#ee5088" stroke-width="0.7"/>
<line x1="219.3" y1="452.25" x2="222.1" y2="452.25" stroke="#ee5088" stroke-width="0.7"/>
<circle cx="218.7" cy="452.36" r="1.35" fill="none" stroke="#ee5088" stroke-width="0.7"/>
<circle cx="222.7" cy="452.12" r="1.35" fill="none" stroke="#ee5088" stroke-width="0.7"/>
<circle cx="219.2" cy="453.02" r="1.35" fill="none" stroke="#ee5088" stroke-width="0.7"/>
<circle cx="222.5" cy="452.84" r="1.35" fill="none" stroke="#ee5088" stroke-width="0.7"/>
<line x1="212.75" y1="466.6" x2="212.75" y2="468.6" stroke="#999999" stroke-width="0.8"/>
<text x="150.8" y="434.7" font-size="7.65" transform="rotate(-90 150.8 434.7)" text-anchor="middle" stroke="#000" stroke-width="0.15">OCR (pmol/min/12K cells)</text>
<text x="0" y="0" font-size="8.89" transform="translate(173.4 476.3) scale(0.8547 1)" text-anchor="middle" stroke="#000" stroke-width="0.15">Basal</text>
<text x="0" y="0" font-size="8.89" transform="translate(216.8 476.3) scale(0.8547 1)" text-anchor="middle" stroke="#000" stroke-width="0.15">Maximum</text>
<text x="0" y="0" font-size="8.89" transform="translate(173.4 485.6) scale(0.8547 1)" text-anchor="middle" stroke="#000" stroke-width="0.15">respiration</text>
<text x="0" y="0" font-size="8.89" transform="translate(216.8 485.6) scale(0.8547 1)" text-anchor="middle" stroke="#000" stroke-width="0.15">respiration</text>
<line x1="173.5" y1="434" x2="173.5" y2="440" stroke="#e4e4e4" stroke-width="0.6"/>
<line x1="181.5" y1="434" x2="181.5" y2="460" stroke="#e4e4e4" stroke-width="0.6"/>
<line x1="189.5" y1="428" x2="189.5" y2="445" stroke="#e4e4e4" stroke-width="0.6"/>
<line x1="182" y1="428" x2="182" y2="440" stroke="#e4e4e4" stroke-width="0.6"/>
<text x="179.6" y="440.62" font-size="7.7" text-anchor="middle" font-weight="bold" stroke="#000" stroke-width="0.15">****</text>
<text x="187.3" y="434.62" font-size="7.7" text-anchor="middle" font-weight="bold" stroke="#000" stroke-width="0.15">*</text>
<line x1="205" y1="416" x2="205" y2="425" stroke="#e4e4e4" stroke-width="0.6"/>
<line x1="213" y1="410" x2="213" y2="462" stroke="#e4e4e4" stroke-width="0.6"/>
<line x1="221" y1="410" x2="221" y2="450" stroke="#e4e4e4" stroke-width="0.6"/>
<text x="212.2" y="421.42" font-size="7.7" text-anchor="middle" font-weight="bold" stroke="#000" stroke-width="0.15">****</text>
<text x="215.8" y="415.82" font-size="7.7" text-anchor="middle" font-weight="bold" stroke="#000" stroke-width="0.15">****</text>
<line x1="267.5" y1="466.7" x2="267.5" y2="403" stroke="#999999" stroke-width="0.9"/>
<line x1="265.5" y1="466.2" x2="267.5" y2="466.2" stroke="#999999" stroke-width="0.8"/>
<text x="0" y="0" font-size="9.13" transform="translate(263.7 469.01) scale(0.8547 1)" text-anchor="end" stroke="#000" stroke-width="0.15">0</text>
<line x1="265.5" y1="450.4" x2="267.5" y2="450.4" stroke="#999999" stroke-width="0.8"/>
<text x="0" y="0" font-size="9.13" transform="translate(263.7 453.21) scale(0.8547 1)" text-anchor="end" stroke="#000" stroke-width="0.15">10</text>
<line x1="265.5" y1="434.6" x2="267.5" y2="434.6" stroke="#999999" stroke-width="0.8"/>
<text x="0" y="0" font-size="9.13" transform="translate(263.7 437.41) scale(0.8547 1)" text-anchor="end" stroke="#000" stroke-width="0.15">20</text>
<line x1="265.5" y1="418.8" x2="267.5" y2="418.8" stroke="#999999" stroke-width="0.8"/>
<text x="0" y="0" font-size="9.13" transform="translate(263.7 421.61) scale(0.8547 1)" text-anchor="end" stroke="#000" stroke-width="0.15">30</text>
<line x1="265.5" y1="403" x2="267.5" y2="403" stroke="#999999" stroke-width="0.8"/>
<text x="0" y="0" font-size="9.13" transform="translate(263.7 405.81) scale(0.8547 1)" text-anchor="end" stroke="#000" stroke-width="0.15">40</text>
<line x1="267" y1="466.5" x2="330.9" y2="466.5" stroke="#999999" stroke-width="0.9"/>
<rect x="271.1" y="425.91" width="7.7" height="40.29" fill="#cbcbcb" stroke="#9a9a9a" stroke-width="0.7"/>
<line x1="274.95" y1="424.65" x2="274.95" y2="427.17" stroke="#8a8a8a" stroke-width="0.7"/>
<line x1="273.55" y1="424.65" x2="276.35" y2="424.65" stroke="#8a8a8a" stroke-width="0.7"/>
<circle cx="272.95" cy="424.92" r="1.35" fill="none" stroke="#8a8a8a" stroke-width="0.7"/>
<circle cx="276.95" cy="424.27" r="1.35" fill="none" stroke="#8a8a8a" stroke-width="0.7"/>
<circle cx="273.45" cy="426.73" r="1.35" fill="none" stroke="#8a8a8a" stroke-width="0.7"/>
<circle cx="276.75" cy="426.24" r="1.35" fill="none" stroke="#8a8a8a" stroke-width="0.7"/>
<rect x="279.5" y="465.88" width="7.7" height="0.32" fill="#72b8bd" stroke="#5aaab0" stroke-width="0.7"/>
<line x1="283.35" y1="460.35" x2="283.35" y2="471.41" stroke="#5fb3b8" stroke-width="0.7"/>
<line x1="281.95" y1="460.35" x2="284.75" y2="460.35" stroke="#5fb3b8" stroke-width="0.7"/>
<circle cx="281.35" cy="461.57" r="1.35" fill="none" stroke="#5fb3b8" stroke-width="0.7"/>
<circle cx="285.35" cy="458.69" r="1.35" fill="none" stroke="#5fb3b8" stroke-width="0.7"/>
<circle cx="281.85" cy="469.48" r="1.35" fill="none" stroke="#5fb3b8" stroke-width="0.7"/>
<circle cx="285.15" cy="467.32" r="1.35" fill="none" stroke="#5fb3b8" stroke-width="0.7"/>
<rect x="287.8" y="459.09" width="7.7" height="7.11" fill="#f890b5" stroke="#f06a98" stroke-width="0.7"/>
<line x1="291.65" y1="458.3" x2="291.65" y2="459.88" stroke="#ee5088" stroke-width="0.7"/>
<line x1="290.25" y1="458.3" x2="293.05" y2="458.3" stroke="#ee5088" stroke-width="0.7"/>
<circle cx="289.65" cy="458.47" r="1.35" fill="none" stroke="#ee5088" stroke-width="0.7"/>
<circle cx="293.65" cy="458.06" r="1.35" fill="none" stroke="#ee5088" stroke-width="0.7"/>
<circle cx="290.15" cy="459.6" r="1.35" fill="none" stroke="#ee5088" stroke-width="0.7"/>
<circle cx="293.45" cy="459.3" r="1.35" fill="none" stroke="#ee5088" stroke-width="0.7"/>
<line x1="283.3" y1="466.2" x2="283.3" y2="468.2" stroke="#999999" stroke-width="0.8"/>
<rect x="303.2" y="439.34" width="7.7" height="26.86" fill="#cbcbcb" stroke="#9a9a9a" stroke-width="0.7"/>
<line x1="307.05" y1="433.81" x2="307.05" y2="444.87" stroke="#8a8a8a" stroke-width="0.7"/>
<line x1="305.65" y1="433.81" x2="308.45" y2="433.81" stroke="#8a8a8a" stroke-width="0.7"/>
<circle cx="305.05" cy="435.03" r="1.35" fill="none" stroke="#8a8a8a" stroke-width="0.7"/>
<circle cx="309.05" cy="432.15" r="1.35" fill="none" stroke="#8a8a8a" stroke-width="0.7"/>
<circle cx="305.55" cy="442.93" r="1.35" fill="none" stroke="#8a8a8a" stroke-width="0.7"/>
<circle cx="308.85" cy="440.78" r="1.35" fill="none" stroke="#8a8a8a" stroke-width="0.7"/>
<rect x="311.6" y="463.04" width="7.7" height="3.16" fill="#72b8bd" stroke="#5aaab0" stroke-width="0.7"/>
<line x1="315.45" y1="457.51" x2="315.45" y2="468.57" stroke="#5fb3b8" stroke-width="0.7"/>
<line x1="314.05" y1="457.51" x2="316.85" y2="457.51" stroke="#5fb3b8" stroke-width="0.7"/>
<circle cx="313.45" cy="458.73" r="1.35" fill="none" stroke="#5fb3b8" stroke-width="0.7"/>
<circle cx="317.45" cy="455.85" r="1.35" fill="none" stroke="#5fb3b8" stroke-width="0.7"/>
<circle cx="313.95" cy="466.63" r="1.35" fill="none" stroke="#5fb3b8" stroke-width="0.7"/>
<circle cx="317.25" cy="464.48" r="1.35" fill="none" stroke="#5fb3b8" stroke-width="0.7"/>
<rect x="320" y="433.02" width="7.7" height="33.18" fill="#f890b5" stroke="#f06a98" stroke-width="0.7"/>
<line x1="323.85" y1="431.76" x2="323.85" y2="434.28" stroke="#ee5088" stroke-width="0.7"/>
<line x1="322.45" y1="431.76" x2="325.25" y2="431.76" stroke="#ee5088" stroke-width="0.7"/>
<circle cx="321.85" cy="432.03" r="1.35" fill="none" stroke="#ee5088" stroke-width="0.7"/>
<circle cx="325.85" cy="431.38" r="1.35" fill="none" stroke="#ee5088" stroke-width="0.7"/>
<circle cx="322.35" cy="433.84" r="1.35" fill="none" stroke="#ee5088" stroke-width="0.7"/>
<circle cx="325.65" cy="433.35" r="1.35" fill="none" stroke="#ee5088" stroke-width="0.7"/>
<line x1="315.45" y1="466.2" x2="315.45" y2="468.2" stroke="#999999" stroke-width="0.8"/>
<text x="251.6" y="432" font-size="7.65" transform="rotate(-90 251.6 432)" text-anchor="middle" stroke="#000" stroke-width="0.15">OCR (pmol/min/12K cells)</text>
<text x="0" y="0" font-size="8.89" transform="translate(282.2 475.6) scale(0.8547 1)" text-anchor="middle" stroke="#000" stroke-width="0.15">Proton</text>
<text x="0" y="0" font-size="8.89" transform="translate(283.7 484.8) scale(0.8547 1)" text-anchor="middle" stroke="#000" stroke-width="0.15">leak</text>
<text x="0" y="0" font-size="8.89" transform="translate(316.2 475.6) scale(0.8547 1)" text-anchor="middle" stroke="#000" stroke-width="0.15">ATP</text>
<text x="0" y="0" font-size="8.89" transform="translate(316.2 484.8) scale(0.8547 1)" text-anchor="middle" stroke="#000" stroke-width="0.15">production</text>
<line x1="275" y1="418" x2="275" y2="428" stroke="#e4e4e4" stroke-width="0.6"/>
<line x1="283.5" y1="418" x2="283.5" y2="458" stroke="#e4e4e4" stroke-width="0.6"/>
<line x1="283.5" y1="412" x2="283.5" y2="458" stroke="#e4e4e4" stroke-width="0.6"/>
<line x1="291.5" y1="412" x2="291.5" y2="452" stroke="#e4e4e4" stroke-width="0.6"/>
<text x="282.7" y="422.42" font-size="7.7" text-anchor="middle" font-weight="bold" stroke="#000" stroke-width="0.15">****</text>
<text x="286.2" y="415.22" font-size="7.7" text-anchor="middle" font-weight="bold" stroke="#000" stroke-width="0.15">****</text>
<line x1="307" y1="425" x2="307" y2="442" stroke="#e4e4e4" stroke-width="0.6"/>
<line x1="315.5" y1="425" x2="315.5" y2="455" stroke="#e4e4e4" stroke-width="0.6"/>
<line x1="315.5" y1="418" x2="315.5" y2="455" stroke="#e4e4e4" stroke-width="0.6"/>
<line x1="324" y1="418" x2="324" y2="432" stroke="#e4e4e4" stroke-width="0.6"/>
<text x="312.4" y="428.72" font-size="7.7" text-anchor="middle" font-weight="bold" stroke="#000" stroke-width="0.15">****</text>
<text x="0" y="0" font-size="9.59" transform="translate(320.8 420.21) scale(0.8547 1)" text-anchor="middle" fill="#b9b9b9" stroke="#b9b9b9" stroke-width="0.15">ns</text>
<text x="0" y="0" font-size="20.47" transform="translate(359.5 236.6) scale(0.8547 1)" font-weight="bold" stroke="#000" stroke-width="0.15">e</text>
<text x="0" y="0" font-size="9.72" transform="translate(476.1 244.1) scale(0.8850 1)" stroke="#000" stroke-width="0.15">A4/2<tspan font-size="7.58" dy="-2.6">Def</tspan></text>
<line x1="469.8" y1="246.2" x2="504.9" y2="246.2" stroke="#9a9a9a" stroke-width="1.3"/>
<circle cx="539.4" cy="231.2" r="2.5" fill="#fff" stroke="#7a7a7a" stroke-width="0.9"/>
<text x="0" y="0" font-size="10.3" transform="translate(552.3 233.9) scale(0.8547 1)" stroke="#000" stroke-width="0.15">Ctrl</text>
<circle cx="539.4" cy="244.3" r="2.5" fill="#fff" stroke="#ea3f7e" stroke-width="0.9"/>
<text x="0" y="0" font-size="10.3" transform="translate(546 246.9) scale(0.8547 1)" stroke="#000" stroke-width="0.15">- Glutamine</text>
<circle cx="539.4" cy="256.9" r="2.5" fill="#fff" stroke="#62b1b5" stroke-width="0.9"/>
<text x="0" y="0" font-size="10.3" transform="translate(546 259.5) scale(0.8547 1)" stroke="#000" stroke-width="0.15">- Glucose</text>
<line x1="382.5" y1="345.8" x2="382.5" y2="283.4" stroke="#5c5c5c" stroke-width="0.9"/>
<line x1="380.5" y1="345.3" x2="382.5" y2="345.3" stroke="#5c5c5c" stroke-width="0.8"/>
<text x="0" y="0" font-size="9.13" transform="translate(379.5 348.11) scale(0.8547 1)" text-anchor="end" stroke="#000" stroke-width="0.15">0</text>
<line x1="380.5" y1="329.82" x2="382.5" y2="329.82" stroke="#5c5c5c" stroke-width="0.8"/>
<text x="0" y="0" font-size="9.13" transform="translate(379.5 332.63) scale(0.8547 1)" text-anchor="end" stroke="#000" stroke-width="0.15">50</text>
<line x1="380.5" y1="314.35" x2="382.5" y2="314.35" stroke="#5c5c5c" stroke-width="0.8"/>
<text x="0" y="0" font-size="9.13" transform="translate(379.5 317.16) scale(0.8547 1)" text-anchor="end" stroke="#000" stroke-width="0.15">100</text>
<line x1="380.5" y1="298.88" x2="382.5" y2="298.88" stroke="#5c5c5c" stroke-width="0.8"/>
<text x="0" y="0" font-size="9.13" transform="translate(379.5 301.68) scale(0.8547 1)" text-anchor="end" stroke="#000" stroke-width="0.15">150</text>
<line x1="380.5" y1="283.4" x2="382.5" y2="283.4" stroke="#5c5c5c" stroke-width="0.8"/>
<text x="0" y="0" font-size="9.13" transform="translate(379.5 286.21) scale(0.8547 1)" text-anchor="end" stroke="#000" stroke-width="0.15">200</text>
<line x1="382" y1="345.5" x2="476" y2="345.5" stroke="#5c5c5c" stroke-width="0.9"/>
<line x1="382.4" y1="345.3" x2="382.4" y2="347.3" stroke="#5c5c5c" stroke-width="0.8"/>
<text x="0" y="0" font-size="9.13" transform="translate(382.4 354.9) scale(0.8547 1)" text-anchor="middle" stroke="#000" stroke-width="0.15">0</text>
<line x1="429.2" y1="345.3" x2="429.2" y2="347.3" stroke="#5c5c5c" stroke-width="0.8"/>
<text x="0" y="0" font-size="9.13" transform="translate(429.2 354.9) scale(0.8547 1)" text-anchor="middle" stroke="#000" stroke-width="0.15">50</text>
<line x1="476" y1="345.3" x2="476" y2="347.3" stroke="#5c5c5c" stroke-width="0.8"/>
<text x="0" y="0" font-size="9.13" transform="translate(476 354.9) scale(0.8547 1)" text-anchor="middle" stroke="#000" stroke-width="0.15">100</text>
<text x="0" y="0" font-size="9.01" transform="translate(429.7 364.1) scale(0.8547 1)" text-anchor="middle" stroke="#000" stroke-width="0.15">Time (minutes)</text>
<text x="0" y="0" font-size="10.18" transform="translate(382.4 264.2) scale(0.8547 1)" stroke="#000" stroke-width="0.15">BIN-67</text>
<text x="362.3" y="311.6" font-size="7.65" transform="rotate(-90 362.3 311.6)" text-anchor="middle" stroke="#000" stroke-width="0.15">OCR (pmol/min/12K cells)</text>
<polyline points="383.2,315.28 391.67,316.52 399.72,316.52 407.67,333.54 415.53,333.54 423.58,333.54 431.63,311.87 439.68,314.35 447.45,317.44 455.5,340.04 463.55,340.04 471.6,340.04" fill="none" stroke="#62b1b5" stroke-width="0.9"/>
<line x1="383.2" y1="314.35" x2="383.2" y2="316.21" stroke="#62b1b5" stroke-width="0.8"/>
<line x1="381.5" y1="314.35" x2="384.9" y2="314.35" stroke="#62b1b5" stroke-width="0.8"/>
<line x1="381.5" y1="316.21" x2="384.9" y2="316.21" stroke="#62b1b5" stroke-width="0.8"/>
<circle cx="383.2" cy="315.28" r="1.85" fill="#fff" stroke="#62b1b5" stroke-width="0.85"/>
<line x1="391.67" y1="315.59" x2="391.67" y2="317.44" stroke="#62b1b5" stroke-width="0.8"/>
<line x1="389.97" y1="315.59" x2="393.37" y2="315.59" stroke="#62b1b5" stroke-width="0.8"/>
<line x1="389.97" y1="317.44" x2="393.37" y2="317.44" stroke="#62b1b5" stroke-width="0.8"/>
<circle cx="391.67" cy="316.52" r="1.85" fill="#fff" stroke="#62b1b5" stroke-width="0.85"/>
<line x1="399.72" y1="315.59" x2="399.72" y2="317.44" stroke="#62b1b5" stroke-width="0.8"/>
<line x1="398.02" y1="315.59" x2="401.42" y2="315.59" stroke="#62b1b5" stroke-width="0.8"/>
<line x1="398.02" y1="317.44" x2="401.42" y2="317.44" stroke="#62b1b5" stroke-width="0.8"/>
<circle cx="399.72" cy="316.52" r="1.85" fill="#fff" stroke="#62b1b5" stroke-width="0.85"/>
<line x1="407.67" y1="332.61" x2="407.67" y2="334.47" stroke="#62b1b5" stroke-width="0.8"/>
<line x1="405.97" y1="332.61" x2="409.37" y2="332.61" stroke="#62b1b5" stroke-width="0.8"/>
<line x1="405.97" y1="334.47" x2="409.37" y2="334.47" stroke="#62b1b5" stroke-width="0.8"/>
<circle cx="407.67" cy="333.54" r="1.85" fill="#fff" stroke="#62b1b5" stroke-width="0.85"/>
<line x1="415.53" y1="332.61" x2="415.53" y2="334.47" stroke="#62b1b5" stroke-width="0.8"/>
<line x1="413.83" y1="332.61" x2="417.23" y2="332.61" stroke="#62b1b5" stroke-width="0.8"/>
<line x1="413.83" y1="334.47" x2="417.23" y2="334.47" stroke="#62b1b5" stroke-width="0.8"/>
<circle cx="415.53" cy="333.54" r="1.85" fill="#fff" stroke="#62b1b5" stroke-width="0.85"/>
<line x1="423.58" y1="332.61" x2="423.58" y2="334.47" stroke="#62b1b5" stroke-width="0.8"/>
<line x1="421.88" y1="332.61" x2="425.28" y2="332.61" stroke="#62b1b5" stroke-width="0.8"/>
<line x1="421.88" y1="334.47" x2="425.28" y2="334.47" stroke="#62b1b5" stroke-width="0.8"/>
<circle cx="423.58" cy="333.54" r="1.85" fill="#fff" stroke="#62b1b5" stroke-width="0.85"/>
<line x1="431.63" y1="310.95" x2="431.63" y2="312.8" stroke="#62b1b5" stroke-width="0.8"/>
<line x1="429.93" y1="310.95" x2="433.33" y2="310.95" stroke="#62b1b5" stroke-width="0.8"/>
<line x1="429.93" y1="312.8" x2="433.33" y2="312.8" stroke="#62b1b5" stroke-width="0.8"/>
<circle cx="431.63" cy="311.87" r="1.85" fill="#fff" stroke="#62b1b5" stroke-width="0.85"/>
<line x1="439.68" y1="313.42" x2="439.68" y2="315.28" stroke="#62b1b5" stroke-width="0.8"/>
<line x1="437.98" y1="313.42" x2="441.38" y2="313.42" stroke="#62b1b5" stroke-width="0.8"/>
<line x1="437.98" y1="315.28" x2="441.38" y2="315.28" stroke="#62b1b5" stroke-width="0.8"/>
<circle cx="439.68" cy="314.35" r="1.85" fill="#fff" stroke="#62b1b5" stroke-width="0.85"/>
<line x1="447.45" y1="316.52" x2="447.45" y2="318.37" stroke="#62b1b5" stroke-width="0.8"/>
<line x1="445.75" y1="316.52" x2="449.15" y2="316.52" stroke="#62b1b5" stroke-width="0.8"/>
<line x1="445.75" y1="318.37" x2="449.15" y2="318.37" stroke="#62b1b5" stroke-width="0.8"/>
<circle cx="447.45" cy="317.44" r="1.85" fill="#fff" stroke="#62b1b5" stroke-width="0.85"/>
<line x1="455.5" y1="339.42" x2="455.5" y2="340.66" stroke="#62b1b5" stroke-width="0.8"/>
<line x1="453.8" y1="339.42" x2="457.2" y2="339.42" stroke="#62b1b5" stroke-width="0.8"/>
<line x1="453.8" y1="340.66" x2="457.2" y2="340.66" stroke="#62b1b5" stroke-width="0.8"/>
<circle cx="455.5" cy="340.04" r="1.85" fill="#fff" stroke="#62b1b5" stroke-width="0.85"/>
<line x1="463.55" y1="339.42" x2="463.55" y2="340.66" stroke="#62b1b5" stroke-width="0.8"/>
<line x1="461.85" y1="339.42" x2="465.25" y2="339.42" stroke="#62b1b5" stroke-width="0.8"/>
<line x1="461.85" y1="340.66" x2="465.25" y2="340.66" stroke="#62b1b5" stroke-width="0.8"/>
<circle cx="463.55" cy="340.04" r="1.85" fill="#fff" stroke="#62b1b5" stroke-width="0.85"/>
<line x1="471.6" y1="339.42" x2="471.6" y2="340.66" stroke="#62b1b5" stroke-width="0.8"/>
<line x1="469.9" y1="339.42" x2="473.3" y2="339.42" stroke="#62b1b5" stroke-width="0.8"/>
<line x1="469.9" y1="340.66" x2="473.3" y2="340.66" stroke="#62b1b5" stroke-width="0.8"/>
<circle cx="471.6" cy="340.04" r="1.85" fill="#fff" stroke="#62b1b5" stroke-width="0.85"/>
<polyline points="383.2,315.28 391.67,315.9 399.72,316.52 407.67,333.54 415.53,333.54 423.58,333.54 431.63,295.78 439.68,298.88 447.45,300.42 455.5,340.04 463.55,340.04 471.6,340.04" fill="none" stroke="#7a7a7a" stroke-width="0.9"/>
<line x1="383.2" y1="314.35" x2="383.2" y2="316.21" stroke="#7a7a7a" stroke-width="0.8"/>
<line x1="381.5" y1="314.35" x2="384.9" y2="314.35" stroke="#7a7a7a" stroke-width="0.8"/>
<line x1="381.5" y1="316.21" x2="384.9" y2="316.21" stroke="#7a7a7a" stroke-width="0.8"/>
<circle cx="383.2" cy="315.28" r="1.85" fill="#fff" stroke="#7a7a7a" stroke-width="0.85"/>
<line x1="391.67" y1="314.97" x2="391.67" y2="316.83" stroke="#7a7a7a" stroke-width="0.8"/>
<line x1="389.97" y1="314.97" x2="393.37" y2="314.97" stroke="#7a7a7a" stroke-width="0.8"/>
<line x1="389.97" y1="316.83" x2="393.37" y2="316.83" stroke="#7a7a7a" stroke-width="0.8"/>
<circle cx="391.67" cy="315.9" r="1.85" fill="#fff" stroke="#7a7a7a" stroke-width="0.85"/>
<line x1="399.72" y1="315.59" x2="399.72" y2="317.44" stroke="#7a7a7a" stroke-width="0.8"/>
<line x1="398.02" y1="315.59" x2="401.42" y2="315.59" stroke="#7a7a7a" stroke-width="0.8"/>
<line x1="398.02" y1="317.44" x2="401.42" y2="317.44" stroke="#7a7a7a" stroke-width="0.8"/>
<circle cx="399.72" cy="316.52" r="1.85" fill="#fff" stroke="#7a7a7a" stroke-width="0.85"/>
<line x1="407.67" y1="332.61" x2="407.67" y2="334.47" stroke="#7a7a7a" stroke-width="0.8"/>
<line x1="405.97" y1="332.61" x2="409.37" y2="332.61" stroke="#7a7a7a" stroke-width="0.8"/>
<line x1="405.97" y1="334.47" x2="409.37" y2="334.47" stroke="#7a7a7a" stroke-width="0.8"/>
<circle cx="407.67" cy="333.54" r="1.85" fill="#fff" stroke="#7a7a7a" stroke-width="0.85"/>
<line x1="415.53" y1="332.61" x2="415.53" y2="334.47" stroke="#7a7a7a" stroke-width="0.8"/>
<line x1="413.83" y1="332.61" x2="417.23" y2="332.61" stroke="#7a7a7a" stroke-width="0.8"/>
<line x1="413.83" y1="334.47" x2="417.23" y2="334.47" stroke="#7a7a7a" stroke-width="0.8"/>
<circle cx="415.53" cy="333.54" r="1.85" fill="#fff" stroke="#7a7a7a" stroke-width="0.85"/>
<line x1="423.58" y1="332.61" x2="423.58" y2="334.47" stroke="#7a7a7a" stroke-width="0.8"/>
<line x1="421.88" y1="332.61" x2="425.28" y2="332.61" stroke="#7a7a7a" stroke-width="0.8"/>
<line x1="421.88" y1="334.47" x2="425.28" y2="334.47" stroke="#7a7a7a" stroke-width="0.8"/>
<circle cx="423.58" cy="333.54" r="1.85" fill="#fff" stroke="#7a7a7a" stroke-width="0.85"/>
<line x1="431.63" y1="293.92" x2="431.63" y2="297.64" stroke="#7a7a7a" stroke-width="0.8"/>
<line x1="429.93" y1="293.92" x2="433.33" y2="293.92" stroke="#7a7a7a" stroke-width="0.8"/>
<line x1="429.93" y1="297.64" x2="433.33" y2="297.64" stroke="#7a7a7a" stroke-width="0.8"/>
<circle cx="431.63" cy="295.78" r="1.85" fill="#fff" stroke="#7a7a7a" stroke-width="0.85"/>
<line x1="439.68" y1="297.02" x2="439.68" y2="300.73" stroke="#7a7a7a" stroke-width="0.8"/>
<line x1="437.98" y1="297.02" x2="441.38" y2="297.02" stroke="#7a7a7a" stroke-width="0.8"/>
<line x1="437.98" y1="300.73" x2="441.38" y2="300.73" stroke="#7a7a7a" stroke-width="0.8"/>
<circle cx="439.68" cy="298.88" r="1.85" fill="#fff" stroke="#7a7a7a" stroke-width="0.85"/>
<line x1="447.45" y1="298.57" x2="447.45" y2="302.28" stroke="#7a7a7a" stroke-width="0.8"/>
<line x1="445.75" y1="298.57" x2="449.15" y2="298.57" stroke="#7a7a7a" stroke-width="0.8"/>
<line x1="445.75" y1="302.28" x2="449.15" y2="302.28" stroke="#7a7a7a" stroke-width="0.8"/>
<circle cx="447.45" cy="300.42" r="1.85" fill="#fff" stroke="#7a7a7a" stroke-width="0.85"/>
<line x1="455.5" y1="339.11" x2="455.5" y2="340.97" stroke="#7a7a7a" stroke-width="0.8"/>
<line x1="453.8" y1="339.11" x2="457.2" y2="339.11" stroke="#7a7a7a" stroke-width="0.8"/>
<line x1="453.8" y1="340.97" x2="457.2" y2="340.97" stroke="#7a7a7a" stroke-width="0.8"/>
<circle cx="455.5" cy="340.04" r="1.85" fill="#fff" stroke="#7a7a7a" stroke-width="0.85"/>
<line x1="463.55" y1="339.11" x2="463.55" y2="340.97" stroke="#7a7a7a" stroke-width="0.8"/>
<line x1="461.85" y1="339.11" x2="465.25" y2="339.11" stroke="#7a7a7a" stroke-width="0.8"/>
<line x1="461.85" y1="340.97" x2="465.25" y2="340.97" stroke="#7a7a7a" stroke-width="0.8"/>
<circle cx="463.55" cy="340.04" r="1.85" fill="#fff" stroke="#7a7a7a" stroke-width="0.85"/>
<line x1="471.6" y1="339.11" x2="471.6" y2="340.97" stroke="#7a7a7a" stroke-width="0.8"/>
<line x1="469.9" y1="339.11" x2="473.3" y2="339.11" stroke="#7a7a7a" stroke-width="0.8"/>
<line x1="469.9" y1="340.97" x2="473.3" y2="340.97" stroke="#7a7a7a" stroke-width="0.8"/>
<circle cx="471.6" cy="340.04" r="1.85" fill="#fff" stroke="#7a7a7a" stroke-width="0.85"/>
<polyline points="383.2,333.85 391.67,334.16 399.72,334.16 407.67,339.73 415.53,339.73 423.58,339.73 431.63,332.3 439.68,332.92 447.45,333.85 455.5,342.82 463.55,342.82 471.6,342.82" fill="none" stroke="#ea3f7e" stroke-width="0.9"/>
<line x1="383.2" y1="333.23" x2="383.2" y2="334.47" stroke="#ea3f7e" stroke-width="0.8"/>
<line x1="381.5" y1="333.23" x2="384.9" y2="333.23" stroke="#ea3f7e" stroke-width="0.8"/>
<line x1="381.5" y1="334.47" x2="384.9" y2="334.47" stroke="#ea3f7e" stroke-width="0.8"/>
<circle cx="383.2" cy="333.85" r="1.85" fill="#fff" stroke="#ea3f7e" stroke-width="0.85"/>
<line x1="391.67" y1="333.54" x2="391.67" y2="334.78" stroke="#ea3f7e" stroke-width="0.8"/>
<line x1="389.97" y1="333.54" x2="393.37" y2="333.54" stroke="#ea3f7e" stroke-width="0.8"/>
<line x1="389.97" y1="334.78" x2="393.37" y2="334.78" stroke="#ea3f7e" stroke-width="0.8"/>
<circle cx="391.67" cy="334.16" r="1.85" fill="#fff" stroke="#ea3f7e" stroke-width="0.85"/>
<line x1="399.72" y1="333.54" x2="399.72" y2="334.78" stroke="#ea3f7e" stroke-width="0.8"/>
<line x1="398.02" y1="333.54" x2="401.42" y2="333.54" stroke="#ea3f7e" stroke-width="0.8"/>
<line x1="398.02" y1="334.78" x2="401.42" y2="334.78" stroke="#ea3f7e" stroke-width="0.8"/>
<circle cx="399.72" cy="334.16" r="1.85" fill="#fff" stroke="#ea3f7e" stroke-width="0.85"/>
<line x1="407.67" y1="339.42" x2="407.67" y2="340.04" stroke="#ea3f7e" stroke-width="0.8"/>
<line x1="405.97" y1="339.42" x2="409.37" y2="339.42" stroke="#ea3f7e" stroke-width="0.8"/>
<line x1="405.97" y1="340.04" x2="409.37" y2="340.04" stroke="#ea3f7e" stroke-width="0.8"/>
<circle cx="407.67" cy="339.73" r="1.85" fill="#fff" stroke="#ea3f7e" stroke-width="0.85"/>
<line x1="415.53" y1="339.42" x2="415.53" y2="340.04" stroke="#ea3f7e" stroke-width="0.8"/>
<line x1="413.83" y1="339.42" x2="417.23" y2="339.42" stroke="#ea3f7e" stroke-width="0.8"/>
<line x1="413.83" y1="340.04" x2="417.23" y2="340.04" stroke="#ea3f7e" stroke-width="0.8"/>
<circle cx="415.53" cy="339.73" r="1.85" fill="#fff" stroke="#ea3f7e" stroke-width="0.85"/>
<line x1="423.58" y1="339.42" x2="423.58" y2="340.04" stroke="#ea3f7e" stroke-width="0.8"/>
<line x1="421.88" y1="339.42" x2="425.28" y2="339.42" stroke="#ea3f7e" stroke-width="0.8"/>
<line x1="421.88" y1="340.04" x2="425.28" y2="340.04" stroke="#ea3f7e" stroke-width="0.8"/>
<circle cx="423.58" cy="339.73" r="1.85" fill="#fff" stroke="#ea3f7e" stroke-width="0.85"/>
<line x1="431.63" y1="331.68" x2="431.63" y2="332.92" stroke="#ea3f7e" stroke-width="0.8"/>
<line x1="429.93" y1="331.68" x2="433.33" y2="331.68" stroke="#ea3f7e" stroke-width="0.8"/>
<line x1="429.93" y1="332.92" x2="433.33" y2="332.92" stroke="#ea3f7e" stroke-width="0.8"/>
<circle cx="431.63" cy="332.3" r="1.85" fill="#fff" stroke="#ea3f7e" stroke-width="0.85"/>
<line x1="439.68" y1="332.3" x2="439.68" y2="333.54" stroke="#ea3f7e" stroke-width="0.8"/>
<line x1="437.98" y1="332.3" x2="441.38" y2="332.3" stroke="#ea3f7e" stroke-width="0.8"/>
<line x1="437.98" y1="333.54" x2="441.38" y2="333.54" stroke="#ea3f7e" stroke-width="0.8"/>
<circle cx="439.68" cy="332.92" r="1.85" fill="#fff" stroke="#ea3f7e" stroke-width="0.85"/>
<line x1="447.45" y1="333.23" x2="447.45" y2="334.47" stroke="#ea3f7e" stroke-width="0.8"/>
<line x1="445.75" y1="333.23" x2="449.15" y2="333.23" stroke="#ea3f7e" stroke-width="0.8"/>
<line x1="445.75" y1="334.47" x2="449.15" y2="334.47" stroke="#ea3f7e" stroke-width="0.8"/>
<circle cx="447.45" cy="333.85" r="1.85" fill="#fff" stroke="#ea3f7e" stroke-width="0.85"/>
<line x1="455.5" y1="342.51" x2="455.5" y2="343.13" stroke="#ea3f7e" stroke-width="0.8"/>
<line x1="453.8" y1="342.51" x2="457.2" y2="342.51" stroke="#ea3f7e" stroke-width="0.8"/>
<line x1="453.8" y1="343.13" x2="457.2" y2="343.13" stroke="#ea3f7e" stroke-width="0.8"/>
<circle cx="455.5" cy="342.82" r="1.85" fill="#fff" stroke="#ea3f7e" stroke-width="0.85"/>
<line x1="463.55" y1="342.51" x2="463.55" y2="343.13" stroke="#ea3f7e" stroke-width="0.8"/>
<line x1="461.85" y1="342.51" x2="465.25" y2="342.51" stroke="#ea3f7e" stroke-width="0.8"/>
<line x1="461.85" y1="343.13" x2="465.25" y2="343.13" stroke="#ea3f7e" stroke-width="0.8"/>
<circle cx="463.55" cy="342.82" r="1.85" fill="#fff" stroke="#ea3f7e" stroke-width="0.85"/>
<line x1="471.6" y1="342.51" x2="471.6" y2="343.13" stroke="#ea3f7e" stroke-width="0.8"/>
<line x1="469.9" y1="342.51" x2="473.3" y2="342.51" stroke="#ea3f7e" stroke-width="0.8"/>
<line x1="469.9" y1="343.13" x2="473.3" y2="343.13" stroke="#ea3f7e" stroke-width="0.8"/>
<circle cx="471.6" cy="342.82" r="1.85" fill="#fff" stroke="#ea3f7e" stroke-width="0.85"/>
<line x1="518.5" y1="345.7" x2="518.5" y2="283.2" stroke="#999999" stroke-width="0.9"/>
<line x1="516.5" y1="345.2" x2="518.5" y2="345.2" stroke="#999999" stroke-width="0.8"/>
<text x="0" y="0" font-size="9.13" transform="translate(514.7 348.01) scale(0.8547 1)" text-anchor="end" stroke="#000" stroke-width="0.15">0</text>
<line x1="516.5" y1="329.7" x2="518.5" y2="329.7" stroke="#999999" stroke-width="0.8"/>
<text x="0" y="0" font-size="9.13" transform="translate(514.7 332.51) scale(0.8547 1)" text-anchor="end" stroke="#000" stroke-width="0.15">50</text>
<line x1="516.5" y1="314.2" x2="518.5" y2="314.2" stroke="#999999" stroke-width="0.8"/>
<text x="0" y="0" font-size="9.13" transform="translate(514.7 317.01) scale(0.8547 1)" text-anchor="end" stroke="#000" stroke-width="0.15">100</text>
<line x1="516.5" y1="298.7" x2="518.5" y2="298.7" stroke="#999999" stroke-width="0.8"/>
<text x="0" y="0" font-size="9.13" transform="translate(514.7 301.51) scale(0.8547 1)" text-anchor="end" stroke="#000" stroke-width="0.15">150</text>
<line x1="516.5" y1="283.2" x2="518.5" y2="283.2" stroke="#999999" stroke-width="0.8"/>
<text x="0" y="0" font-size="9.13" transform="translate(514.7 286.01) scale(0.8547 1)" text-anchor="end" stroke="#000" stroke-width="0.15">200</text>
<line x1="518" y1="345.5" x2="581.5" y2="345.5" stroke="#999999" stroke-width="0.9"/>
<rect x="523" y="321.95" width="7.6" height="23.25" fill="#cbcbcb" stroke="#9a9a9a" stroke-width="0.7"/>
<line x1="526.8" y1="321.02" x2="526.8" y2="322.88" stroke="#8a8a8a" stroke-width="0.7"/>
<line x1="525.4" y1="321.02" x2="528.2" y2="321.02" stroke="#8a8a8a" stroke-width="0.7"/>
<circle cx="524.8" cy="321.22" r="1.35" fill="none" stroke="#8a8a8a" stroke-width="0.7"/>
<circle cx="528.8" cy="320.74" r="1.35" fill="none" stroke="#8a8a8a" stroke-width="0.7"/>
<circle cx="525.3" cy="322.55" r="1.35" fill="none" stroke="#8a8a8a" stroke-width="0.7"/>
<circle cx="528.6" cy="322.19" r="1.35" fill="none" stroke="#8a8a8a" stroke-width="0.7"/>
<rect x="531" y="321.95" width="7.6" height="23.25" fill="#72b8bd" stroke="#5aaab0" stroke-width="0.7"/>
<line x1="534.8" y1="321.33" x2="534.8" y2="322.57" stroke="#5fb3b8" stroke-width="0.7"/>
<line x1="533.4" y1="321.33" x2="536.2" y2="321.33" stroke="#5fb3b8" stroke-width="0.7"/>
<circle cx="532.8" cy="321.47" r="1.35" fill="none" stroke="#5fb3b8" stroke-width="0.7"/>
<circle cx="536.8" cy="321.14" r="1.35" fill="none" stroke="#5fb3b8" stroke-width="0.7"/>
<circle cx="533.3" cy="322.35" r="1.35" fill="none" stroke="#5fb3b8" stroke-width="0.7"/>
<circle cx="536.6" cy="322.11" r="1.35" fill="none" stroke="#5fb3b8" stroke-width="0.7"/>
<rect x="539" y="336.83" width="7.6" height="8.37" fill="#f890b5" stroke="#f06a98" stroke-width="0.7"/>
<line x1="542.8" y1="336.52" x2="542.8" y2="337.14" stroke="#ee5088" stroke-width="0.7"/>
<line x1="541.4" y1="336.52" x2="544.2" y2="336.52" stroke="#ee5088" stroke-width="0.7"/>
<circle cx="540.8" cy="336.59" r="1.35" fill="none" stroke="#ee5088" stroke-width="0.7"/>
<circle cx="544.8" cy="336.43" r="1.35" fill="none" stroke="#ee5088" stroke-width="0.7"/>
<circle cx="541.3" cy="337.03" r="1.35" fill="none" stroke="#ee5088" stroke-width="0.7"/>
<circle cx="544.6" cy="336.91" r="1.35" fill="none" stroke="#ee5088" stroke-width="0.7"/>
<line x1="534.8" y1="345.2" x2="534.8" y2="347.2" stroke="#999999" stroke-width="0.8"/>
<rect x="554.2" y="301.8" width="7.6" height="43.4" fill="#cbcbcb" stroke="#9a9a9a" stroke-width="0.7"/>
<line x1="558" y1="299.94" x2="558" y2="303.66" stroke="#8a8a8a" stroke-width="0.7"/>
<line x1="556.6" y1="299.94" x2="559.4" y2="299.94" stroke="#8a8a8a" stroke-width="0.7"/>
<circle cx="556" cy="300.35" r="1.35" fill="none" stroke="#8a8a8a" stroke-width="0.7"/>
<circle cx="560" cy="299.38" r="1.35" fill="none" stroke="#8a8a8a" stroke-width="0.7"/>
<circle cx="556.5" cy="303.01" r="1.35" fill="none" stroke="#8a8a8a" stroke-width="0.7"/>
<circle cx="559.8" cy="302.28" r="1.35" fill="none" stroke="#8a8a8a" stroke-width="0.7"/>
<rect x="562.4" y="316.37" width="7.6" height="28.83" fill="#72b8bd" stroke="#5aaab0" stroke-width="0.7"/>
<line x1="566.2" y1="315.75" x2="566.2" y2="316.99" stroke="#5fb3b8" stroke-width="0.7"/>
<line x1="564.8" y1="315.75" x2="567.6" y2="315.75" stroke="#5fb3b8" stroke-width="0.7"/>
<circle cx="564.2" cy="315.89" r="1.35" fill="none" stroke="#5fb3b8" stroke-width="0.7"/>
<circle cx="568.2" cy="315.56" r="1.35" fill="none" stroke="#5fb3b8" stroke-width="0.7"/>
<circle cx="564.7" cy="316.77" r="1.35" fill="none" stroke="#5fb3b8" stroke-width="0.7"/>
<circle cx="568" cy="316.53" r="1.35" fill="none" stroke="#5fb3b8" stroke-width="0.7"/>
<rect x="570.4" y="334.35" width="7.6" height="10.85" fill="#f890b5" stroke="#f06a98" stroke-width="0.7"/>
<line x1="574.2" y1="333.73" x2="574.2" y2="334.97" stroke="#ee5088" stroke-width="0.7"/>
<line x1="572.8" y1="333.73" x2="575.6" y2="333.73" stroke="#ee5088" stroke-width="0.7"/>
<circle cx="572.2" cy="333.87" r="1.35" fill="none" stroke="#ee5088" stroke-width="0.7"/>
<circle cx="576.2" cy="333.54" r="1.35" fill="none" stroke="#ee5088" stroke-width="0.7"/>
<circle cx="572.7" cy="334.75" r="1.35" fill="none" stroke="#ee5088" stroke-width="0.7"/>
<circle cx="576" cy="334.51" r="1.35" fill="none" stroke="#ee5088" stroke-width="0.7"/>
<line x1="566.1" y1="345.2" x2="566.1" y2="347.2" stroke="#999999" stroke-width="0.8"/>
<text x="499.1" y="312" font-size="7.65" transform="rotate(-90 499.1 312)" text-anchor="middle" stroke="#000" stroke-width="0.15">OCR (pmol/min/12K cells)</text>
<text x="0" y="0" font-size="8.89" transform="translate(526.6 355.5) scale(0.8547 1)" text-anchor="middle" stroke="#000" stroke-width="0.15">Basal</text>
<text x="0" y="0" font-size="8.89" transform="translate(568.6 355.5) scale(0.8547 1)" text-anchor="middle" stroke="#000" stroke-width="0.15">Maximum</text>
<text x="0" y="0" font-size="8.89" transform="translate(526 364.4) scale(0.8547 1)" text-anchor="middle" stroke="#000" stroke-width="0.15">respiration</text>
<text x="0" y="0" font-size="8.89" transform="translate(568.6 364.4) scale(0.8547 1)" text-anchor="middle" stroke="#000" stroke-width="0.15">respiration</text>
<text x="0" y="0" font-size="9.59" transform="translate(532 316.41) scale(0.8547 1)" text-anchor="middle" fill="#b9b9b9" stroke="#b9b9b9" stroke-width="0.15">ns</text>
<line x1="527" y1="318" x2="527" y2="320" stroke="#e4e4e4" stroke-width="0.6"/>
<line x1="535" y1="318" x2="535" y2="320" stroke="#e4e4e4" stroke-width="0.6"/>
<line x1="535" y1="311" x2="535" y2="320" stroke="#e4e4e4" stroke-width="0.6"/>
<line x1="543" y1="311" x2="543" y2="334" stroke="#e4e4e4" stroke-width="0.6"/>
<text x="539" y="311.62" font-size="7.7" text-anchor="middle" font-weight="bold" stroke="#000" stroke-width="0.15">****</text>
<line x1="558" y1="296" x2="558" y2="300" stroke="#e4e4e4" stroke-width="0.6"/>
<line x1="566" y1="296" x2="566" y2="310" stroke="#e4e4e4" stroke-width="0.6"/>
<line x1="566" y1="289" x2="566" y2="310" stroke="#e4e4e4" stroke-width="0.6"/>
<line x1="574" y1="289" x2="574" y2="330" stroke="#e4e4e4" stroke-width="0.6"/>
<text x="563.3" y="296.62" font-size="7.7" text-anchor="middle" font-weight="bold" stroke="#000" stroke-width="0.15">****</text>
<text x="570.2" y="290.52" font-size="7.7" text-anchor="middle" font-weight="bold" stroke="#000" stroke-width="0.15">****</text>
<line x1="620.5" y1="345.5" x2="620.5" y2="283.6" stroke="#999999" stroke-width="0.9"/>
<line x1="618.5" y1="345" x2="620.5" y2="345" stroke="#999999" stroke-width="0.8"/>
<text x="0" y="0" font-size="9.13" transform="translate(616.7 347.81) scale(0.8547 1)" text-anchor="end" stroke="#000" stroke-width="0.15">0</text>
<line x1="618.5" y1="329.65" x2="620.5" y2="329.65" stroke="#999999" stroke-width="0.8"/>
<text x="0" y="0" font-size="9.13" transform="translate(616.7 332.46) scale(0.8547 1)" text-anchor="end" stroke="#000" stroke-width="0.15">20</text>
<line x1="618.5" y1="314.3" x2="620.5" y2="314.3" stroke="#999999" stroke-width="0.8"/>
<text x="0" y="0" font-size="9.13" transform="translate(616.7 317.11) scale(0.8547 1)" text-anchor="end" stroke="#000" stroke-width="0.15">40</text>
<line x1="618.5" y1="298.95" x2="620.5" y2="298.95" stroke="#999999" stroke-width="0.8"/>
<text x="0" y="0" font-size="9.13" transform="translate(616.7 301.76) scale(0.8547 1)" text-anchor="end" stroke="#000" stroke-width="0.15">60</text>
<line x1="618.5" y1="283.6" x2="620.5" y2="283.6" stroke="#999999" stroke-width="0.8"/>
<text x="0" y="0" font-size="9.13" transform="translate(616.7 286.41) scale(0.8547 1)" text-anchor="end" stroke="#000" stroke-width="0.15">80</text>
<line x1="620" y1="345.5" x2="684.3" y2="345.5" stroke="#999999" stroke-width="0.9"/>
<rect x="623.6" y="328.88" width="7.4" height="16.12" fill="#cbcbcb" stroke="#9a9a9a" stroke-width="0.7"/>
<line x1="627.3" y1="328.35" x2="627.3" y2="329.42" stroke="#8a8a8a" stroke-width="0.7"/>
<line x1="625.9" y1="328.35" x2="628.7" y2="328.35" stroke="#8a8a8a" stroke-width="0.7"/>
<circle cx="625.3" cy="328.46" r="1.35" fill="none" stroke="#8a8a8a" stroke-width="0.7"/>
<circle cx="629.3" cy="328.18" r="1.35" fill="none" stroke="#8a8a8a" stroke-width="0.7"/>
<circle cx="625.8" cy="329.23" r="1.35" fill="none" stroke="#8a8a8a" stroke-width="0.7"/>
<circle cx="629.1" cy="329.02" r="1.35" fill="none" stroke="#8a8a8a" stroke-width="0.7"/>
<rect x="631.9" y="330.03" width="7.4" height="14.97" fill="#72b8bd" stroke="#5aaab0" stroke-width="0.7"/>
<line x1="635.6" y1="329.5" x2="635.6" y2="330.57" stroke="#5fb3b8" stroke-width="0.7"/>
<line x1="634.2" y1="329.5" x2="637" y2="329.5" stroke="#5fb3b8" stroke-width="0.7"/>
<circle cx="633.6" cy="329.61" r="1.35" fill="none" stroke="#5fb3b8" stroke-width="0.7"/>
<circle cx="637.6" cy="329.34" r="1.35" fill="none" stroke="#5fb3b8" stroke-width="0.7"/>
<circle cx="634.1" cy="330.38" r="1.35" fill="none" stroke="#5fb3b8" stroke-width="0.7"/>
<circle cx="637.4" cy="330.17" r="1.35" fill="none" stroke="#5fb3b8" stroke-width="0.7"/>
<rect x="640" y="338.48" width="7.4" height="6.52" fill="#f890b5" stroke="#f06a98" stroke-width="0.7"/>
<line x1="643.7" y1="337.94" x2="643.7" y2="339.01" stroke="#ee5088" stroke-width="0.7"/>
<line x1="642.3" y1="337.94" x2="645.1" y2="337.94" stroke="#ee5088" stroke-width="0.7"/>
<circle cx="641.7" cy="338.06" r="1.35" fill="none" stroke="#ee5088" stroke-width="0.7"/>
<circle cx="645.7" cy="337.78" r="1.35" fill="none" stroke="#ee5088" stroke-width="0.7"/>
<circle cx="642.2" cy="338.83" r="1.35" fill="none" stroke="#ee5088" stroke-width="0.7"/>
<circle cx="645.5" cy="338.62" r="1.35" fill="none" stroke="#ee5088" stroke-width="0.7"/>
<line x1="635.5" y1="345" x2="635.5" y2="347" stroke="#999999" stroke-width="0.8"/>
<rect x="655.3" y="303.56" width="7.4" height="41.44" fill="#cbcbcb" stroke="#9a9a9a" stroke-width="0.7"/>
<line x1="659" y1="301.64" x2="659" y2="305.47" stroke="#8a8a8a" stroke-width="0.7"/>
<line x1="657.6" y1="301.64" x2="660.4" y2="301.64" stroke="#8a8a8a" stroke-width="0.7"/>
<circle cx="657" cy="302.06" r="1.35" fill="none" stroke="#8a8a8a" stroke-width="0.7"/>
<circle cx="661" cy="301.06" r="1.35" fill="none" stroke="#8a8a8a" stroke-width="0.7"/>
<circle cx="657.5" cy="304.8" r="1.35" fill="none" stroke="#8a8a8a" stroke-width="0.7"/>
<circle cx="660.8" cy="304.05" r="1.35" fill="none" stroke="#8a8a8a" stroke-width="0.7"/>
<rect x="663.1" y="302.79" width="7.4" height="42.21" fill="#72b8bd" stroke="#5aaab0" stroke-width="0.7"/>
<line x1="666.8" y1="301.64" x2="666.8" y2="303.94" stroke="#5fb3b8" stroke-width="0.7"/>
<line x1="665.4" y1="301.64" x2="668.2" y2="301.64" stroke="#5fb3b8" stroke-width="0.7"/>
<circle cx="664.8" cy="301.89" r="1.35" fill="none" stroke="#5fb3b8" stroke-width="0.7"/>
<circle cx="668.8" cy="301.29" r="1.35" fill="none" stroke="#5fb3b8" stroke-width="0.7"/>
<circle cx="665.3" cy="303.54" r="1.35" fill="none" stroke="#5fb3b8" stroke-width="0.7"/>
<circle cx="668.6" cy="303.09" r="1.35" fill="none" stroke="#5fb3b8" stroke-width="0.7"/>
<rect x="671.4" y="332.72" width="7.4" height="12.28" fill="#f890b5" stroke="#f06a98" stroke-width="0.7"/>
<line x1="675.1" y1="330.42" x2="675.1" y2="335.02" stroke="#ee5088" stroke-width="0.7"/>
<line x1="673.7" y1="330.42" x2="676.5" y2="330.42" stroke="#ee5088" stroke-width="0.7"/>
<circle cx="673.1" cy="330.92" r="1.35" fill="none" stroke="#ee5088" stroke-width="0.7"/>
<circle cx="677.1" cy="329.73" r="1.35" fill="none" stroke="#ee5088" stroke-width="0.7"/>
<circle cx="673.6" cy="334.22" r="1.35" fill="none" stroke="#ee5088" stroke-width="0.7"/>
<circle cx="676.9" cy="333.32" r="1.35" fill="none" stroke="#ee5088" stroke-width="0.7"/>
<line x1="667.05" y1="345" x2="667.05" y2="347" stroke="#999999" stroke-width="0.8"/>
<text x="604.1" y="312" font-size="7.65" transform="rotate(-90 604.1 312)" text-anchor="middle" stroke="#000" stroke-width="0.15">OCR (pmol/min/12K cells)</text>
<text x="0" y="0" font-size="8.89" transform="translate(634.3 355) scale(0.8547 1)" text-anchor="middle" stroke="#000" stroke-width="0.15">Proton</text>
<text x="0" y="0" font-size="8.89" transform="translate(634.3 363.6) scale(0.8547 1)" text-anchor="middle" stroke="#000" stroke-width="0.15">leak</text>
<text x="0" y="0" font-size="8.89" transform="translate(667 355) scale(0.8547 1)" text-anchor="middle" stroke="#000" stroke-width="0.15">ATP</text>
<text x="0" y="0" font-size="8.89" transform="translate(667 363.6) scale(0.8547 1)" text-anchor="middle" stroke="#000" stroke-width="0.15">production</text>
<text x="0" y="0" font-size="9.59" transform="translate(632.8 322.21) scale(0.8547 1)" text-anchor="middle" fill="#b9b9b9" stroke="#b9b9b9" stroke-width="0.15">ns</text>
<line x1="627" y1="324" x2="627" y2="326" stroke="#e4e4e4" stroke-width="0.6"/>
<line x1="636" y1="324" x2="636" y2="326" stroke="#e4e4e4" stroke-width="0.6"/>
<line x1="636" y1="317" x2="636" y2="326" stroke="#e4e4e4" stroke-width="0.6"/>
<line x1="644" y1="317" x2="644" y2="336" stroke="#e4e4e4" stroke-width="0.6"/>
<text x="639.3" y="318.22" font-size="7.7" text-anchor="middle" font-weight="bold" stroke="#000" stroke-width="0.15">****</text>
<text x="0" y="0" font-size="9.59" transform="translate(664.3 290.11) scale(0.8547 1)" text-anchor="middle" fill="#b9b9b9" stroke="#b9b9b9" stroke-width="0.15">ns</text>
<line x1="659" y1="292" x2="659" y2="300" stroke="#e4e4e4" stroke-width="0.6"/>
<line x1="667.5" y1="292" x2="667.5" y2="300" stroke="#e4e4e4" stroke-width="0.6"/>
<line x1="667.5" y1="284" x2="667.5" y2="300" stroke="#e4e4e4" stroke-width="0.6"/>
<line x1="675" y1="284" x2="675" y2="320" stroke="#e4e4e4" stroke-width="0.6"/>
<text x="670" y="284.32" font-size="7.7" text-anchor="middle" font-weight="bold" stroke="#000" stroke-width="0.15">****</text>
<line x1="381.5" y1="466.1" x2="381.5" y2="405.5" stroke="#808080" stroke-width="0.9"/>
<line x1="379.5" y1="465.6" x2="381.5" y2="465.6" stroke="#808080" stroke-width="0.8"/>
<text x="0" y="0" font-size="9.13" transform="translate(378.5 468.41) scale(0.8547 1)" text-anchor="end" stroke="#000" stroke-width="0.15">0</text>
<line x1="379.5" y1="453.58" x2="381.5" y2="453.58" stroke="#808080" stroke-width="0.8"/>
<text x="0" y="0" font-size="9.13" transform="translate(378.5 456.39) scale(0.8547 1)" text-anchor="end" stroke="#000" stroke-width="0.15">20</text>
<line x1="379.5" y1="441.56" x2="381.5" y2="441.56" stroke="#808080" stroke-width="0.8"/>
<text x="0" y="0" font-size="9.13" transform="translate(378.5 444.37) scale(0.8547 1)" text-anchor="end" stroke="#000" stroke-width="0.15">40</text>
<line x1="379.5" y1="429.54" x2="381.5" y2="429.54" stroke="#808080" stroke-width="0.8"/>
<text x="0" y="0" font-size="9.13" transform="translate(378.5 432.35) scale(0.8547 1)" text-anchor="end" stroke="#000" stroke-width="0.15">60</text>
<line x1="379.5" y1="417.52" x2="381.5" y2="417.52" stroke="#808080" stroke-width="0.8"/>
<text x="0" y="0" font-size="9.13" transform="translate(378.5 420.33) scale(0.8547 1)" text-anchor="end" stroke="#000" stroke-width="0.15">80</text>
<line x1="379.5" y1="405.5" x2="381.5" y2="405.5" stroke="#808080" stroke-width="0.8"/>
<text x="0" y="0" font-size="9.13" transform="translate(378.5 408.31) scale(0.8547 1)" text-anchor="end" stroke="#000" stroke-width="0.15">100</text>
<line x1="381" y1="465.5" x2="473.1" y2="465.5" stroke="#808080" stroke-width="0.9"/>
<line x1="382.4" y1="465.6" x2="382.4" y2="467.6" stroke="#808080" stroke-width="0.8"/>
<text x="0" y="0" font-size="9.13" transform="translate(382.4 475.2) scale(0.8547 1)" text-anchor="middle" stroke="#000" stroke-width="0.15">0</text>
<line x1="427.75" y1="465.6" x2="427.75" y2="467.6" stroke="#808080" stroke-width="0.8"/>
<text x="0" y="0" font-size="9.13" transform="translate(427.75 475.2) scale(0.8547 1)" text-anchor="middle" stroke="#000" stroke-width="0.15">50</text>
<line x1="473.1" y1="465.6" x2="473.1" y2="467.6" stroke="#808080" stroke-width="0.8"/>
<text x="0" y="0" font-size="9.13" transform="translate(473.1 475.2) scale(0.8547 1)" text-anchor="middle" stroke="#000" stroke-width="0.15">100</text>
<text x="0" y="0" font-size="9.01" transform="translate(428.25 484.4) scale(0.8547 1)" text-anchor="middle" stroke="#000" stroke-width="0.15">Time (minutes)</text>
<text x="0" y="0" font-size="10.18" transform="translate(382.4 390.2) scale(0.8547 1)" stroke="#000" stroke-width="0.15">H1703</text>
<text x="361.3" y="430.7" font-size="7.65" transform="rotate(-90 361.3 430.7)" text-anchor="middle" stroke="#000" stroke-width="0.15">OCR (pmol/min/12K cells)</text>
<polyline points="383.18,426.54 391.38,428.94 399.18,429.54 406.89,442.16 414.51,439.16 422.31,439.76 430.11,417.52 437.91,417.52 445.44,418.12 453.24,456.59 461.04,457.19 468.84,457.79" fill="none" stroke="#7a7a7a" stroke-width="0.9"/>
<line x1="383.18" y1="425.33" x2="383.18" y2="427.74" stroke="#7a7a7a" stroke-width="0.8"/>
<line x1="381.48" y1="425.33" x2="384.88" y2="425.33" stroke="#7a7a7a" stroke-width="0.8"/>
<line x1="381.48" y1="427.74" x2="384.88" y2="427.74" stroke="#7a7a7a" stroke-width="0.8"/>
<circle cx="383.18" cy="426.54" r="1.85" fill="#fff" stroke="#7a7a7a" stroke-width="0.85"/>
<line x1="391.38" y1="428.34" x2="391.38" y2="429.54" stroke="#7a7a7a" stroke-width="0.8"/>
<line x1="389.68" y1="428.34" x2="393.08" y2="428.34" stroke="#7a7a7a" stroke-width="0.8"/>
<line x1="389.68" y1="429.54" x2="393.08" y2="429.54" stroke="#7a7a7a" stroke-width="0.8"/>
<circle cx="391.38" cy="428.94" r="1.85" fill="#fff" stroke="#7a7a7a" stroke-width="0.85"/>
<line x1="399.18" y1="428.94" x2="399.18" y2="430.14" stroke="#7a7a7a" stroke-width="0.8"/>
<line x1="397.48" y1="428.94" x2="400.88" y2="428.94" stroke="#7a7a7a" stroke-width="0.8"/>
<line x1="397.48" y1="430.14" x2="400.88" y2="430.14" stroke="#7a7a7a" stroke-width="0.8"/>
<circle cx="399.18" cy="429.54" r="1.85" fill="#fff" stroke="#7a7a7a" stroke-width="0.85"/>
<line x1="406.89" y1="441.56" x2="406.89" y2="442.76" stroke="#7a7a7a" stroke-width="0.8"/>
<line x1="405.19" y1="441.56" x2="408.59" y2="441.56" stroke="#7a7a7a" stroke-width="0.8"/>
<line x1="405.19" y1="442.76" x2="408.59" y2="442.76" stroke="#7a7a7a" stroke-width="0.8"/>
<circle cx="406.89" cy="442.16" r="1.85" fill="#fff" stroke="#7a7a7a" stroke-width="0.85"/>
<line x1="414.51" y1="438.56" x2="414.51" y2="439.76" stroke="#7a7a7a" stroke-width="0.8"/>
<line x1="412.81" y1="438.56" x2="416.21" y2="438.56" stroke="#7a7a7a" stroke-width="0.8"/>
<line x1="412.81" y1="439.76" x2="416.21" y2="439.76" stroke="#7a7a7a" stroke-width="0.8"/>
<circle cx="414.51" cy="439.16" r="1.85" fill="#fff" stroke="#7a7a7a" stroke-width="0.85"/>
<line x1="422.31" y1="439.16" x2="422.31" y2="440.36" stroke="#7a7a7a" stroke-width="0.8"/>
<line x1="420.61" y1="439.16" x2="424.01" y2="439.16" stroke="#7a7a7a" stroke-width="0.8"/>
<line x1="420.61" y1="440.36" x2="424.01" y2="440.36" stroke="#7a7a7a" stroke-width="0.8"/>
<circle cx="422.31" cy="439.76" r="1.85" fill="#fff" stroke="#7a7a7a" stroke-width="0.85"/>
<line x1="430.11" y1="415.72" x2="430.11" y2="419.32" stroke="#7a7a7a" stroke-width="0.8"/>
<line x1="428.41" y1="415.72" x2="431.81" y2="415.72" stroke="#7a7a7a" stroke-width="0.8"/>
<line x1="428.41" y1="419.32" x2="431.81" y2="419.32" stroke="#7a7a7a" stroke-width="0.8"/>
<circle cx="430.11" cy="417.52" r="1.85" fill="#fff" stroke="#7a7a7a" stroke-width="0.85"/>
<line x1="437.91" y1="416.32" x2="437.91" y2="418.72" stroke="#7a7a7a" stroke-width="0.8"/>
<line x1="436.21" y1="416.32" x2="439.61" y2="416.32" stroke="#7a7a7a" stroke-width="0.8"/>
<line x1="436.21" y1="418.72" x2="439.61" y2="418.72" stroke="#7a7a7a" stroke-width="0.8"/>
<circle cx="437.91" cy="417.52" r="1.85" fill="#fff" stroke="#7a7a7a" stroke-width="0.85"/>
<line x1="445.44" y1="416.92" x2="445.44" y2="419.32" stroke="#7a7a7a" stroke-width="0.8"/>
<line x1="443.74" y1="416.92" x2="447.14" y2="416.92" stroke="#7a7a7a" stroke-width="0.8"/>
<line x1="443.74" y1="419.32" x2="447.14" y2="419.32" stroke="#7a7a7a" stroke-width="0.8"/>
<circle cx="445.44" cy="418.12" r="1.85" fill="#fff" stroke="#7a7a7a" stroke-width="0.85"/>
<line x1="453.24" y1="455.98" x2="453.24" y2="457.19" stroke="#7a7a7a" stroke-width="0.8"/>
<line x1="451.54" y1="455.98" x2="454.94" y2="455.98" stroke="#7a7a7a" stroke-width="0.8"/>
<line x1="451.54" y1="457.19" x2="454.94" y2="457.19" stroke="#7a7a7a" stroke-width="0.8"/>
<circle cx="453.24" cy="456.59" r="1.85" fill="#fff" stroke="#7a7a7a" stroke-width="0.85"/>
<line x1="461.04" y1="456.59" x2="461.04" y2="457.79" stroke="#7a7a7a" stroke-width="0.8"/>
<line x1="459.34" y1="456.59" x2="462.74" y2="456.59" stroke="#7a7a7a" stroke-width="0.8"/>
<line x1="459.34" y1="457.79" x2="462.74" y2="457.79" stroke="#7a7a7a" stroke-width="0.8"/>
<circle cx="461.04" cy="457.19" r="1.85" fill="#fff" stroke="#7a7a7a" stroke-width="0.85"/>
<line x1="468.84" y1="457.19" x2="468.84" y2="458.39" stroke="#7a7a7a" stroke-width="0.8"/>
<line x1="467.14" y1="457.19" x2="470.54" y2="457.19" stroke="#7a7a7a" stroke-width="0.8"/>
<line x1="467.14" y1="458.39" x2="470.54" y2="458.39" stroke="#7a7a7a" stroke-width="0.8"/>
<circle cx="468.84" cy="457.79" r="1.85" fill="#fff" stroke="#7a7a7a" stroke-width="0.85"/>
<polyline points="383.18,424.73 391.38,428.94 399.18,430.14 406.89,442.16 414.51,440.96 422.31,442.16 430.11,437.95 437.91,438.56 445.44,442.76 453.24,456.59 461.04,457.19 468.84,457.19" fill="none" stroke="#62b1b5" stroke-width="0.9"/>
<line x1="383.18" y1="423.53" x2="383.18" y2="425.93" stroke="#62b1b5" stroke-width="0.8"/>
<line x1="381.48" y1="423.53" x2="384.88" y2="423.53" stroke="#62b1b5" stroke-width="0.8"/>
<line x1="381.48" y1="425.93" x2="384.88" y2="425.93" stroke="#62b1b5" stroke-width="0.8"/>
<circle cx="383.18" cy="424.73" r="1.85" fill="#fff" stroke="#62b1b5" stroke-width="0.85"/>
<line x1="391.38" y1="428.34" x2="391.38" y2="429.54" stroke="#62b1b5" stroke-width="0.8"/>
<line x1="389.68" y1="428.34" x2="393.08" y2="428.34" stroke="#62b1b5" stroke-width="0.8"/>
<line x1="389.68" y1="429.54" x2="393.08" y2="429.54" stroke="#62b1b5" stroke-width="0.8"/>
<circle cx="391.38" cy="428.94" r="1.85" fill="#fff" stroke="#62b1b5" stroke-width="0.85"/>
<line x1="399.18" y1="429.54" x2="399.18" y2="430.74" stroke="#62b1b5" stroke-width="0.8"/>
<line x1="397.48" y1="429.54" x2="400.88" y2="429.54" stroke="#62b1b5" stroke-width="0.8"/>
<line x1="397.48" y1="430.74" x2="400.88" y2="430.74" stroke="#62b1b5" stroke-width="0.8"/>
<circle cx="399.18" cy="430.14" r="1.85" fill="#fff" stroke="#62b1b5" stroke-width="0.85"/>
<line x1="406.89" y1="441.56" x2="406.89" y2="442.76" stroke="#62b1b5" stroke-width="0.8"/>
<line x1="405.19" y1="441.56" x2="408.59" y2="441.56" stroke="#62b1b5" stroke-width="0.8"/>
<line x1="405.19" y1="442.76" x2="408.59" y2="442.76" stroke="#62b1b5" stroke-width="0.8"/>
<circle cx="406.89" cy="442.16" r="1.85" fill="#fff" stroke="#62b1b5" stroke-width="0.85"/>
<line x1="414.51" y1="440.36" x2="414.51" y2="441.56" stroke="#62b1b5" stroke-width="0.8"/>
<line x1="412.81" y1="440.36" x2="416.21" y2="440.36" stroke="#62b1b5" stroke-width="0.8"/>
<line x1="412.81" y1="441.56" x2="416.21" y2="441.56" stroke="#62b1b5" stroke-width="0.8"/>
<circle cx="414.51" cy="440.96" r="1.85" fill="#fff" stroke="#62b1b5" stroke-width="0.85"/>
<line x1="422.31" y1="441.56" x2="422.31" y2="442.76" stroke="#62b1b5" stroke-width="0.8"/>
<line x1="420.61" y1="441.56" x2="424.01" y2="441.56" stroke="#62b1b5" stroke-width="0.8"/>
<line x1="420.61" y1="442.76" x2="424.01" y2="442.76" stroke="#62b1b5" stroke-width="0.8"/>
<circle cx="422.31" cy="442.16" r="1.85" fill="#fff" stroke="#62b1b5" stroke-width="0.85"/>
<line x1="430.11" y1="436.75" x2="430.11" y2="439.16" stroke="#62b1b5" stroke-width="0.8"/>
<line x1="428.41" y1="436.75" x2="431.81" y2="436.75" stroke="#62b1b5" stroke-width="0.8"/>
<line x1="428.41" y1="439.16" x2="431.81" y2="439.16" stroke="#62b1b5" stroke-width="0.8"/>
<circle cx="430.11" cy="437.95" r="1.85" fill="#fff" stroke="#62b1b5" stroke-width="0.85"/>
<line x1="437.91" y1="437.95" x2="437.91" y2="439.16" stroke="#62b1b5" stroke-width="0.8"/>
<line x1="436.21" y1="437.95" x2="439.61" y2="437.95" stroke="#62b1b5" stroke-width="0.8"/>
<line x1="436.21" y1="439.16" x2="439.61" y2="439.16" stroke="#62b1b5" stroke-width="0.8"/>
<circle cx="437.91" cy="438.56" r="1.85" fill="#fff" stroke="#62b1b5" stroke-width="0.85"/>
<line x1="445.44" y1="442.16" x2="445.44" y2="443.36" stroke="#62b1b5" stroke-width="0.8"/>
<line x1="443.74" y1="442.16" x2="447.14" y2="442.16" stroke="#62b1b5" stroke-width="0.8"/>
<line x1="443.74" y1="443.36" x2="447.14" y2="443.36" stroke="#62b1b5" stroke-width="0.8"/>
<circle cx="445.44" cy="442.76" r="1.85" fill="#fff" stroke="#62b1b5" stroke-width="0.85"/>
<line x1="453.24" y1="455.98" x2="453.24" y2="457.19" stroke="#62b1b5" stroke-width="0.8"/>
<line x1="451.54" y1="455.98" x2="454.94" y2="455.98" stroke="#62b1b5" stroke-width="0.8"/>
<line x1="451.54" y1="457.19" x2="454.94" y2="457.19" stroke="#62b1b5" stroke-width="0.8"/>
<circle cx="453.24" cy="456.59" r="1.85" fill="#fff" stroke="#62b1b5" stroke-width="0.85"/>
<line x1="461.04" y1="456.59" x2="461.04" y2="457.79" stroke="#62b1b5" stroke-width="0.8"/>
<line x1="459.34" y1="456.59" x2="462.74" y2="456.59" stroke="#62b1b5" stroke-width="0.8"/>
<line x1="459.34" y1="457.79" x2="462.74" y2="457.79" stroke="#62b1b5" stroke-width="0.8"/>
<circle cx="461.04" cy="457.19" r="1.85" fill="#fff" stroke="#62b1b5" stroke-width="0.85"/>
<line x1="468.84" y1="456.59" x2="468.84" y2="457.79" stroke="#62b1b5" stroke-width="0.8"/>
<line x1="467.14" y1="456.59" x2="470.54" y2="456.59" stroke="#62b1b5" stroke-width="0.8"/>
<line x1="467.14" y1="457.79" x2="470.54" y2="457.79" stroke="#62b1b5" stroke-width="0.8"/>
<circle cx="468.84" cy="457.19" r="1.85" fill="#fff" stroke="#62b1b5" stroke-width="0.85"/>
<polyline points="383.18,455.98 391.38,455.98 399.18,455.98 406.89,458.99 414.51,458.99 422.31,458.99 430.11,454.78 437.91,454.78 445.44,454.78 453.24,461.99 461.04,461.99 468.84,461.99" fill="none" stroke="#ea3f7e" stroke-width="0.9"/>
<line x1="383.18" y1="454.78" x2="383.18" y2="457.19" stroke="#ea3f7e" stroke-width="0.8"/>
<line x1="381.48" y1="454.78" x2="384.88" y2="454.78" stroke="#ea3f7e" stroke-width="0.8"/>
<line x1="381.48" y1="457.19" x2="384.88" y2="457.19" stroke="#ea3f7e" stroke-width="0.8"/>
<circle cx="383.18" cy="455.98" r="1.85" fill="#fff" stroke="#ea3f7e" stroke-width="0.85"/>
<line x1="391.38" y1="454.78" x2="391.38" y2="457.19" stroke="#ea3f7e" stroke-width="0.8"/>
<line x1="389.68" y1="454.78" x2="393.08" y2="454.78" stroke="#ea3f7e" stroke-width="0.8"/>
<line x1="389.68" y1="457.19" x2="393.08" y2="457.19" stroke="#ea3f7e" stroke-width="0.8"/>
<circle cx="391.38" cy="455.98" r="1.85" fill="#fff" stroke="#ea3f7e" stroke-width="0.85"/>
<line x1="399.18" y1="454.78" x2="399.18" y2="457.19" stroke="#ea3f7e" stroke-width="0.8"/>
<line x1="397.48" y1="454.78" x2="400.88" y2="454.78" stroke="#ea3f7e" stroke-width="0.8"/>
<line x1="397.48" y1="457.19" x2="400.88" y2="457.19" stroke="#ea3f7e" stroke-width="0.8"/>
<circle cx="399.18" cy="455.98" r="1.85" fill="#fff" stroke="#ea3f7e" stroke-width="0.85"/>
<line x1="406.89" y1="457.79" x2="406.89" y2="460.19" stroke="#ea3f7e" stroke-width="0.8"/>
<line x1="405.19" y1="457.79" x2="408.59" y2="457.79" stroke="#ea3f7e" stroke-width="0.8"/>
<line x1="405.19" y1="460.19" x2="408.59" y2="460.19" stroke="#ea3f7e" stroke-width="0.8"/>
<circle cx="406.89" cy="458.99" r="1.85" fill="#fff" stroke="#ea3f7e" stroke-width="0.85"/>
<line x1="414.51" y1="457.79" x2="414.51" y2="460.19" stroke="#ea3f7e" stroke-width="0.8"/>
<line x1="412.81" y1="457.79" x2="416.21" y2="457.79" stroke="#ea3f7e" stroke-width="0.8"/>
<line x1="412.81" y1="460.19" x2="416.21" y2="460.19" stroke="#ea3f7e" stroke-width="0.8"/>
<circle cx="414.51" cy="458.99" r="1.85" fill="#fff" stroke="#ea3f7e" stroke-width="0.85"/>
<line x1="422.31" y1="457.79" x2="422.31" y2="460.19" stroke="#ea3f7e" stroke-width="0.8"/>
<line x1="420.61" y1="457.79" x2="424.01" y2="457.79" stroke="#ea3f7e" stroke-width="0.8"/>
<line x1="420.61" y1="460.19" x2="424.01" y2="460.19" stroke="#ea3f7e" stroke-width="0.8"/>
<circle cx="422.31" cy="458.99" r="1.85" fill="#fff" stroke="#ea3f7e" stroke-width="0.85"/>
<line x1="430.11" y1="454.18" x2="430.11" y2="455.38" stroke="#ea3f7e" stroke-width="0.8"/>
<line x1="428.41" y1="454.18" x2="431.81" y2="454.18" stroke="#ea3f7e" stroke-width="0.8"/>
<line x1="428.41" y1="455.38" x2="431.81" y2="455.38" stroke="#ea3f7e" stroke-width="0.8"/>
<circle cx="430.11" cy="454.78" r="1.85" fill="#fff" stroke="#ea3f7e" stroke-width="0.85"/>
<line x1="437.91" y1="454.18" x2="437.91" y2="455.38" stroke="#ea3f7e" stroke-width="0.8"/>
<line x1="436.21" y1="454.18" x2="439.61" y2="454.18" stroke="#ea3f7e" stroke-width="0.8"/>
<line x1="436.21" y1="455.38" x2="439.61" y2="455.38" stroke="#ea3f7e" stroke-width="0.8"/>
<circle cx="437.91" cy="454.78" r="1.85" fill="#fff" stroke="#ea3f7e" stroke-width="0.85"/>
<line x1="445.44" y1="453.58" x2="445.44" y2="455.98" stroke="#ea3f7e" stroke-width="0.8"/>
<line x1="443.74" y1="453.58" x2="447.14" y2="453.58" stroke="#ea3f7e" stroke-width="0.8"/>
<line x1="443.74" y1="455.98" x2="447.14" y2="455.98" stroke="#ea3f7e" stroke-width="0.8"/>
<circle cx="445.44" cy="454.78" r="1.85" fill="#fff" stroke="#ea3f7e" stroke-width="0.85"/>
<line x1="453.24" y1="461.39" x2="453.24" y2="462.6" stroke="#ea3f7e" stroke-width="0.8"/>
<line x1="451.54" y1="461.39" x2="454.94" y2="461.39" stroke="#ea3f7e" stroke-width="0.8"/>
<line x1="451.54" y1="462.6" x2="454.94" y2="462.6" stroke="#ea3f7e" stroke-width="0.8"/>
<circle cx="453.24" cy="461.99" r="1.85" fill="#fff" stroke="#ea3f7e" stroke-width="0.85"/>
<line x1="461.04" y1="461.39" x2="461.04" y2="462.6" stroke="#ea3f7e" stroke-width="0.8"/>
<line x1="459.34" y1="461.39" x2="462.74" y2="461.39" stroke="#ea3f7e" stroke-width="0.8"/>
<line x1="459.34" y1="462.6" x2="462.74" y2="462.6" stroke="#ea3f7e" stroke-width="0.8"/>
<circle cx="461.04" cy="461.99" r="1.85" fill="#fff" stroke="#ea3f7e" stroke-width="0.85"/>
<line x1="468.84" y1="461.39" x2="468.84" y2="462.6" stroke="#ea3f7e" stroke-width="0.8"/>
<line x1="467.14" y1="461.39" x2="470.54" y2="461.39" stroke="#ea3f7e" stroke-width="0.8"/>
<line x1="467.14" y1="462.6" x2="470.54" y2="462.6" stroke="#ea3f7e" stroke-width="0.8"/>
<circle cx="468.84" cy="461.99" r="1.85" fill="#fff" stroke="#ea3f7e" stroke-width="0.85"/>
<line x1="519.5" y1="465.5" x2="519.5" y2="402.8" stroke="#999999" stroke-width="0.9"/>
<line x1="517.5" y1="465" x2="519.5" y2="465" stroke="#999999" stroke-width="0.8"/>
<text x="0" y="0" font-size="9.13" transform="translate(515.7 467.81) scale(0.8547 1)" text-anchor="end" stroke="#000" stroke-width="0.15">0</text>
<line x1="517.5" y1="452.56" x2="519.5" y2="452.56" stroke="#999999" stroke-width="0.8"/>
<text x="0" y="0" font-size="9.13" transform="translate(515.7 455.37) scale(0.8547 1)" text-anchor="end" stroke="#000" stroke-width="0.15">20</text>
<line x1="517.5" y1="440.12" x2="519.5" y2="440.12" stroke="#999999" stroke-width="0.8"/>
<text x="0" y="0" font-size="9.13" transform="translate(515.7 442.93) scale(0.8547 1)" text-anchor="end" stroke="#000" stroke-width="0.15">40</text>
<line x1="517.5" y1="427.68" x2="519.5" y2="427.68" stroke="#999999" stroke-width="0.8"/>
<text x="0" y="0" font-size="9.13" transform="translate(515.7 430.49) scale(0.8547 1)" text-anchor="end" stroke="#000" stroke-width="0.15">60</text>
<line x1="517.5" y1="415.24" x2="519.5" y2="415.24" stroke="#999999" stroke-width="0.8"/>
<text x="0" y="0" font-size="9.13" transform="translate(515.7 418.05) scale(0.8547 1)" text-anchor="end" stroke="#000" stroke-width="0.15">80</text>
<line x1="517.5" y1="402.8" x2="519.5" y2="402.8" stroke="#999999" stroke-width="0.8"/>
<text x="0" y="0" font-size="9.13" transform="translate(515.7 405.61) scale(0.8547 1)" text-anchor="end" stroke="#000" stroke-width="0.15">100</text>
<line x1="519" y1="465.5" x2="580.7" y2="465.5" stroke="#999999" stroke-width="0.9"/>
<rect x="522.2" y="436.39" width="7.5" height="28.61" fill="#cbcbcb" stroke="#9a9a9a" stroke-width="0.7"/>
<line x1="525.95" y1="435.46" x2="525.95" y2="437.32" stroke="#8a8a8a" stroke-width="0.7"/>
<line x1="524.55" y1="435.46" x2="527.35" y2="435.46" stroke="#8a8a8a" stroke-width="0.7"/>
<circle cx="523.95" cy="435.66" r="1.35" fill="none" stroke="#8a8a8a" stroke-width="0.7"/>
<circle cx="527.95" cy="435.18" r="1.35" fill="none" stroke="#8a8a8a" stroke-width="0.7"/>
<circle cx="524.45" cy="436.99" r="1.35" fill="none" stroke="#8a8a8a" stroke-width="0.7"/>
<circle cx="527.75" cy="436.63" r="1.35" fill="none" stroke="#8a8a8a" stroke-width="0.7"/>
<rect x="530.3" y="437.01" width="7.5" height="27.99" fill="#72b8bd" stroke="#5aaab0" stroke-width="0.7"/>
<line x1="534.05" y1="436.08" x2="534.05" y2="437.94" stroke="#5fb3b8" stroke-width="0.7"/>
<line x1="532.65" y1="436.08" x2="535.45" y2="436.08" stroke="#5fb3b8" stroke-width="0.7"/>
<circle cx="532.05" cy="436.28" r="1.35" fill="none" stroke="#5fb3b8" stroke-width="0.7"/>
<circle cx="536.05" cy="435.8" r="1.35" fill="none" stroke="#5fb3b8" stroke-width="0.7"/>
<circle cx="532.55" cy="437.62" r="1.35" fill="none" stroke="#5fb3b8" stroke-width="0.7"/>
<circle cx="535.85" cy="437.25" r="1.35" fill="none" stroke="#5fb3b8" stroke-width="0.7"/>
<rect x="538.3" y="458.78" width="7.5" height="6.22" fill="#f890b5" stroke="#f06a98" stroke-width="0.7"/>
<line x1="542.05" y1="458.16" x2="542.05" y2="459.4" stroke="#ee5088" stroke-width="0.7"/>
<line x1="540.65" y1="458.16" x2="543.45" y2="458.16" stroke="#ee5088" stroke-width="0.7"/>
<circle cx="540.05" cy="458.29" r="1.35" fill="none" stroke="#ee5088" stroke-width="0.7"/>
<circle cx="544.05" cy="457.97" r="1.35" fill="none" stroke="#ee5088" stroke-width="0.7"/>
<circle cx="540.55" cy="459.18" r="1.35" fill="none" stroke="#ee5088" stroke-width="0.7"/>
<circle cx="543.85" cy="458.94" r="1.35" fill="none" stroke="#ee5088" stroke-width="0.7"/>
<line x1="534" y1="465" x2="534" y2="467" stroke="#999999" stroke-width="0.8"/>
<rect x="554.2" y="422.7" width="7.5" height="42.3" fill="#cbcbcb" stroke="#9a9a9a" stroke-width="0.7"/>
<line x1="557.95" y1="421.15" x2="557.95" y2="424.26" stroke="#8a8a8a" stroke-width="0.7"/>
<line x1="556.55" y1="421.15" x2="559.35" y2="421.15" stroke="#8a8a8a" stroke-width="0.7"/>
<circle cx="555.95" cy="421.49" r="1.35" fill="none" stroke="#8a8a8a" stroke-width="0.7"/>
<circle cx="559.95" cy="420.68" r="1.35" fill="none" stroke="#8a8a8a" stroke-width="0.7"/>
<circle cx="556.45" cy="423.71" r="1.35" fill="none" stroke="#8a8a8a" stroke-width="0.7"/>
<circle cx="559.75" cy="423.11" r="1.35" fill="none" stroke="#8a8a8a" stroke-width="0.7"/>
<rect x="561.9" y="444.47" width="7.5" height="20.53" fill="#72b8bd" stroke="#5aaab0" stroke-width="0.7"/>
<line x1="565.65" y1="443.54" x2="565.65" y2="445.41" stroke="#5fb3b8" stroke-width="0.7"/>
<line x1="564.25" y1="443.54" x2="567.05" y2="443.54" stroke="#5fb3b8" stroke-width="0.7"/>
<circle cx="563.65" cy="443.75" r="1.35" fill="none" stroke="#5fb3b8" stroke-width="0.7"/>
<circle cx="567.65" cy="443.26" r="1.35" fill="none" stroke="#5fb3b8" stroke-width="0.7"/>
<circle cx="564.15" cy="445.08" r="1.35" fill="none" stroke="#5fb3b8" stroke-width="0.7"/>
<circle cx="567.45" cy="444.72" r="1.35" fill="none" stroke="#5fb3b8" stroke-width="0.7"/>
<rect x="570" y="457.54" width="7.5" height="7.46" fill="#f890b5" stroke="#f06a98" stroke-width="0.7"/>
<line x1="573.75" y1="456.91" x2="573.75" y2="458.16" stroke="#ee5088" stroke-width="0.7"/>
<line x1="572.35" y1="456.91" x2="575.15" y2="456.91" stroke="#ee5088" stroke-width="0.7"/>
<circle cx="571.75" cy="457.05" r="1.35" fill="none" stroke="#ee5088" stroke-width="0.7"/>
<circle cx="575.75" cy="456.73" r="1.35" fill="none" stroke="#ee5088" stroke-width="0.7"/>
<circle cx="572.25" cy="457.94" r="1.35" fill="none" stroke="#ee5088" stroke-width="0.7"/>
<circle cx="575.55" cy="457.7" r="1.35" fill="none" stroke="#ee5088" stroke-width="0.7"/>
<line x1="565.85" y1="465" x2="565.85" y2="467" stroke="#999999" stroke-width="0.8"/>
<text x="501.3" y="431.4" font-size="7.65" transform="rotate(-90 501.3 431.4)" text-anchor="middle" stroke="#000" stroke-width="0.15">OCR (pmol/min/12K cells)</text>
<text x="0" y="0" font-size="8.89" transform="translate(526.6 475) scale(0.8547 1)" text-anchor="middle" stroke="#000" stroke-width="0.15">Basal</text>
<text x="0" y="0" font-size="8.89" transform="translate(568.6 475) scale(0.8547 1)" text-anchor="middle" stroke="#000" stroke-width="0.15">Maximum</text>
<text x="0" y="0" font-size="8.89" transform="translate(526 484) scale(0.8547 1)" text-anchor="middle" stroke="#000" stroke-width="0.15">respiration</text>
<text x="0" y="0" font-size="8.89" transform="translate(568.6 484) scale(0.8547 1)" text-anchor="middle" stroke="#000" stroke-width="0.15">respiration</text>
<text x="0" y="0" font-size="9.59" transform="translate(532 427.51) scale(0.8547 1)" text-anchor="middle" fill="#b9b9b9" stroke="#b9b9b9" stroke-width="0.15">ns</text>
<line x1="526" y1="429" x2="526" y2="434" stroke="#e4e4e4" stroke-width="0.6"/>
<line x1="534" y1="429" x2="534" y2="434" stroke="#e4e4e4" stroke-width="0.6"/>
<line x1="534" y1="422" x2="534" y2="434" stroke="#e4e4e4" stroke-width="0.6"/>
<line x1="542" y1="422" x2="542" y2="455" stroke="#e4e4e4" stroke-width="0.6"/>
<text x="538.2" y="422.82" font-size="7.7" text-anchor="middle" font-weight="bold" stroke="#000" stroke-width="0.15">****</text>
<line x1="558" y1="418" x2="558" y2="420" stroke="#e4e4e4" stroke-width="0.6"/>
<line x1="566" y1="418" x2="566" y2="443" stroke="#e4e4e4" stroke-width="0.6"/>
<line x1="566" y1="412" x2="566" y2="443" stroke="#e4e4e4" stroke-width="0.6"/>
<line x1="574" y1="412" x2="574" y2="455" stroke="#e4e4e4" stroke-width="0.6"/>
<text x="563.8" y="419.32" font-size="7.7" text-anchor="middle" font-weight="bold" stroke="#000" stroke-width="0.15">****</text>
<text x="570" y="413.22" font-size="7.7" text-anchor="middle" font-weight="bold" stroke="#000" stroke-width="0.15">****</text>
<line x1="619.5" y1="466.2" x2="619.5" y2="403.9" stroke="#999999" stroke-width="0.9"/>
<line x1="617.5" y1="465.7" x2="619.5" y2="465.7" stroke="#999999" stroke-width="0.8"/>
<text x="0" y="0" font-size="9.13" transform="translate(615.7 468.51) scale(0.8547 1)" text-anchor="end" stroke="#000" stroke-width="0.15">0</text>
<line x1="617.5" y1="445.1" x2="619.5" y2="445.1" stroke="#999999" stroke-width="0.8"/>
<text x="0" y="0" font-size="9.13" transform="translate(615.7 447.91) scale(0.8547 1)" text-anchor="end" stroke="#000" stroke-width="0.15">10</text>
<line x1="617.5" y1="424.5" x2="619.5" y2="424.5" stroke="#999999" stroke-width="0.8"/>
<text x="0" y="0" font-size="9.13" transform="translate(615.7 427.31) scale(0.8547 1)" text-anchor="end" stroke="#000" stroke-width="0.15">20</text>
<line x1="617.5" y1="403.9" x2="619.5" y2="403.9" stroke="#999999" stroke-width="0.8"/>
<text x="0" y="0" font-size="9.13" transform="translate(615.7 406.71) scale(0.8547 1)" text-anchor="end" stroke="#000" stroke-width="0.15">30</text>
<line x1="619" y1="465.5" x2="681.4" y2="465.5" stroke="#999999" stroke-width="0.9"/>
<rect x="623.1" y="413.17" width="7.5" height="52.53" fill="#cbcbcb" stroke="#9a9a9a" stroke-width="0.7"/>
<line x1="626.85" y1="411.11" x2="626.85" y2="415.23" stroke="#8a8a8a" stroke-width="0.7"/>
<line x1="625.45" y1="411.11" x2="628.25" y2="411.11" stroke="#8a8a8a" stroke-width="0.7"/>
<circle cx="624.85" cy="411.56" r="1.35" fill="none" stroke="#8a8a8a" stroke-width="0.7"/>
<circle cx="628.85" cy="410.49" r="1.35" fill="none" stroke="#8a8a8a" stroke-width="0.7"/>
<circle cx="625.35" cy="414.51" r="1.35" fill="none" stroke="#8a8a8a" stroke-width="0.7"/>
<circle cx="628.65" cy="413.71" r="1.35" fill="none" stroke="#8a8a8a" stroke-width="0.7"/>
<rect x="631.1" y="414.2" width="7.5" height="51.5" fill="#72b8bd" stroke="#5aaab0" stroke-width="0.7"/>
<line x1="634.85" y1="412.76" x2="634.85" y2="415.64" stroke="#5fb3b8" stroke-width="0.7"/>
<line x1="633.45" y1="412.76" x2="636.25" y2="412.76" stroke="#5fb3b8" stroke-width="0.7"/>
<circle cx="632.85" cy="413.08" r="1.35" fill="none" stroke="#5fb3b8" stroke-width="0.7"/>
<circle cx="636.85" cy="412.33" r="1.35" fill="none" stroke="#5fb3b8" stroke-width="0.7"/>
<circle cx="633.35" cy="415.14" r="1.35" fill="none" stroke="#5fb3b8" stroke-width="0.7"/>
<circle cx="636.65" cy="414.57" r="1.35" fill="none" stroke="#5fb3b8" stroke-width="0.7"/>
<rect x="639.3" y="456.43" width="7.5" height="9.27" fill="#f890b5" stroke="#f06a98" stroke-width="0.7"/>
<line x1="643.05" y1="454.99" x2="643.05" y2="457.87" stroke="#ee5088" stroke-width="0.7"/>
<line x1="641.65" y1="454.99" x2="644.45" y2="454.99" stroke="#ee5088" stroke-width="0.7"/>
<circle cx="641.05" cy="455.31" r="1.35" fill="none" stroke="#ee5088" stroke-width="0.7"/>
<circle cx="645.05" cy="454.56" r="1.35" fill="none" stroke="#ee5088" stroke-width="0.7"/>
<circle cx="641.55" cy="457.37" r="1.35" fill="none" stroke="#ee5088" stroke-width="0.7"/>
<circle cx="644.85" cy="456.8" r="1.35" fill="none" stroke="#ee5088" stroke-width="0.7"/>
<line x1="634.95" y1="465.7" x2="634.95" y2="467.7" stroke="#999999" stroke-width="0.8"/>
<rect x="655" y="423.47" width="7.5" height="42.23" fill="#cbcbcb" stroke="#9a9a9a" stroke-width="0.7"/>
<line x1="658.75" y1="421.41" x2="658.75" y2="425.53" stroke="#8a8a8a" stroke-width="0.7"/>
<line x1="657.35" y1="421.41" x2="660.15" y2="421.41" stroke="#8a8a8a" stroke-width="0.7"/>
<circle cx="656.75" cy="421.86" r="1.35" fill="none" stroke="#8a8a8a" stroke-width="0.7"/>
<circle cx="660.75" cy="420.79" r="1.35" fill="none" stroke="#8a8a8a" stroke-width="0.7"/>
<circle cx="657.25" cy="424.81" r="1.35" fill="none" stroke="#8a8a8a" stroke-width="0.7"/>
<circle cx="660.55" cy="424.01" r="1.35" fill="none" stroke="#8a8a8a" stroke-width="0.7"/>
<rect x="662.9" y="425.53" width="7.5" height="40.17" fill="#72b8bd" stroke="#5aaab0" stroke-width="0.7"/>
<line x1="666.65" y1="423.06" x2="666.65" y2="428" stroke="#5fb3b8" stroke-width="0.7"/>
<line x1="665.25" y1="423.06" x2="668.05" y2="423.06" stroke="#5fb3b8" stroke-width="0.7"/>
<circle cx="664.65" cy="423.6" r="1.35" fill="none" stroke="#5fb3b8" stroke-width="0.7"/>
<circle cx="668.65" cy="422.32" r="1.35" fill="none" stroke="#5fb3b8" stroke-width="0.7"/>
<circle cx="665.15" cy="427.14" r="1.35" fill="none" stroke="#5fb3b8" stroke-width="0.7"/>
<circle cx="668.45" cy="426.17" r="1.35" fill="none" stroke="#5fb3b8" stroke-width="0.7"/>
<rect x="670.7" y="455.4" width="7.5" height="10.3" fill="#f890b5" stroke="#f06a98" stroke-width="0.7"/>
<line x1="674.45" y1="453.75" x2="674.45" y2="457.05" stroke="#ee5088" stroke-width="0.7"/>
<line x1="673.05" y1="453.75" x2="675.85" y2="453.75" stroke="#ee5088" stroke-width="0.7"/>
<circle cx="672.45" cy="454.11" r="1.35" fill="none" stroke="#ee5088" stroke-width="0.7"/>
<circle cx="676.45" cy="453.26" r="1.35" fill="none" stroke="#ee5088" stroke-width="0.7"/>
<circle cx="672.95" cy="456.47" r="1.35" fill="none" stroke="#ee5088" stroke-width="0.7"/>
<circle cx="676.25" cy="455.83" r="1.35" fill="none" stroke="#ee5088" stroke-width="0.7"/>
<line x1="666.6" y1="465.7" x2="666.6" y2="467.7" stroke="#999999" stroke-width="0.8"/>
<text x="604.1" y="431" font-size="7.65" transform="rotate(-90 604.1 431)" text-anchor="middle" stroke="#000" stroke-width="0.15">OCR (pmol/min/12K cells)</text>
<text x="0" y="0" font-size="8.89" transform="translate(633.1 475.4) scale(0.8547 1)" text-anchor="middle" stroke="#000" stroke-width="0.15">Proton</text>
<text x="0" y="0" font-size="8.89" transform="translate(633.1 483.9) scale(0.8547 1)" text-anchor="middle" stroke="#000" stroke-width="0.15">Leak</text>
<text x="0" y="0" font-size="8.89" transform="translate(667.1 475.4) scale(0.8547 1)" text-anchor="middle" stroke="#000" stroke-width="0.15">ATP</text>
<text x="0" y="0" font-size="8.89" transform="translate(667.1 483.9) scale(0.8547 1)" text-anchor="middle" stroke="#000" stroke-width="0.15">Production</text>
<text x="0" y="0" font-size="9.59" transform="translate(632.2 403.61) scale(0.8547 1)" text-anchor="middle" fill="#b9b9b9" stroke="#b9b9b9" stroke-width="0.15">ns</text>
<line x1="627" y1="405" x2="627" y2="410" stroke="#e4e4e4" stroke-width="0.6"/>
<line x1="636" y1="405" x2="636" y2="410" stroke="#e4e4e4" stroke-width="0.6"/>
<line x1="636" y1="398" x2="636" y2="410" stroke="#e4e4e4" stroke-width="0.6"/>
<line x1="644" y1="398" x2="644" y2="455" stroke="#e4e4e4" stroke-width="0.6"/>
<text x="638.8" y="399.62" font-size="7.7" text-anchor="middle" font-weight="bold" stroke="#000" stroke-width="0.15">****</text>
<text x="0" y="0" font-size="9.59" transform="translate(663.2 412.61) scale(0.8547 1)" text-anchor="middle" fill="#b9b9b9" stroke="#b9b9b9" stroke-width="0.15">ns</text>
<line x1="659" y1="414" x2="659" y2="418" stroke="#e4e4e4" stroke-width="0.6"/>
<line x1="667" y1="414" x2="667" y2="420" stroke="#e4e4e4" stroke-width="0.6"/>
<line x1="667" y1="407" x2="667" y2="420" stroke="#e4e4e4" stroke-width="0.6"/>
<line x1="675" y1="407" x2="675" y2="455" stroke="#e4e4e4" stroke-width="0.6"/>
<text x="669.7" y="407.52" font-size="7.7" text-anchor="middle" font-weight="bold" stroke="#000" stroke-width="0.15">****</text>
<text x="0" y="0" font-size="20.65" transform="translate(-0.6 537.6) scale(0.8475 1)" font-weight="bold" stroke="#000" stroke-width="0.15">f</text>
<text x="0" y="0" font-size="10.38" transform="translate(91.8 536.6) scale(0.8475 1)" text-anchor="middle" stroke="#000" stroke-width="0.15">Glutamine (mg/L)</text>
<text x="0" y="0" font-size="8.97" transform="translate(39.3 546.8) scale(0.8475 1)" text-anchor="middle" stroke="#000" stroke-width="0.15">300</text>
<text x="0" y="0" font-size="8.97" transform="translate(66.1 546.8) scale(0.8475 1)" text-anchor="middle" stroke="#000" stroke-width="0.15">100</text>
<text x="0" y="0" font-size="8.97" transform="translate(91.8 546.8) scale(0.8475 1)" text-anchor="middle" stroke="#000" stroke-width="0.15">33</text>
<text x="0" y="0" font-size="8.97" transform="translate(118 546.8) scale(0.8475 1)" text-anchor="middle" stroke="#000" stroke-width="0.15">11</text>
<text x="0" y="0" font-size="8.97" transform="translate(143.7 546.8) scale(0.8475 1)" text-anchor="middle" stroke="#000" stroke-width="0.15">0</text>
<circle cx="39.7" cy="560.9" r="12.4" fill="none" stroke="#e0e0e0" stroke-width="0.8"/>
<circle cx="39.7" cy="560.9" r="11.6" fill="#4e4e4e" filter="url(#grain)"/>
<circle cx="39.7" cy="560.9" r="11.1" fill="none" stroke="#464646" stroke-width="1"/>
<circle cx="66" cy="560.9" r="12.4" fill="none" stroke="#e0e0e0" stroke-width="0.8"/>
<circle cx="66" cy="560.9" r="11.6" fill="#9c9c9c" filter="url(#grain)"/>
<circle cx="66" cy="560.9" r="11.1" fill="none" stroke="#7c7c7c" stroke-width="1"/>
<circle cx="91.9" cy="560.9" r="12.4" fill="none" stroke="#e0e0e0" stroke-width="0.8"/>
<circle cx="91.9" cy="560.9" r="11.6" fill="#cdcdcd" filter="url(#grainw)"/>
<circle cx="91.9" cy="560.9" r="11.1" fill="none" stroke="#a4a4a4" stroke-width="1"/>
<circle cx="118" cy="560.9" r="12.4" fill="none" stroke="#e0e0e0" stroke-width="0.8"/>
<circle cx="118" cy="560.9" r="11.6" fill="#e2e2e2" filter="url(#grainw)"/>
<circle cx="118" cy="560.9" r="11.1" fill="none" stroke="#b4b4b4" stroke-width="1"/>
<circle cx="143.8" cy="560.9" r="12.4" fill="none" stroke="#e0e0e0" stroke-width="0.8"/>
<circle cx="143.8" cy="560.9" r="11.6" fill="#eeeeee" filter="url(#grainw)"/>
<circle cx="143.8" cy="560.9" r="11.1" fill="none" stroke="#bebebe" stroke-width="1"/>
<circle cx="39.7" cy="587" r="12.4" fill="none" stroke="#e0e0e0" stroke-width="0.8"/>
<circle cx="39.7" cy="587" r="11.6" fill="#202020" filter="url(#grain)"/>
<circle cx="39.7" cy="587" r="11.1" fill="none" stroke="#191919" stroke-width="1"/>
<circle cx="66" cy="587" r="12.4" fill="none" stroke="#e0e0e0" stroke-width="0.8"/>
<circle cx="66" cy="587" r="11.6" fill="#242424" filter="url(#grain)"/>
<circle cx="66" cy="587" r="11.1" fill="none" stroke="#1b1b1b" stroke-width="1"/>
<circle cx="91.9" cy="587" r="12.4" fill="none" stroke="#e0e0e0" stroke-width="0.8"/>
<circle cx="91.9" cy="587" r="11.6" fill="#4b4b4b" filter="url(#grain)"/>
<circle cx="91.9" cy="587" r="11.1" fill="none" stroke="#444444" stroke-width="1"/>
<circle cx="118" cy="587" r="12.4" fill="none" stroke="#e0e0e0" stroke-width="0.8"/>
<circle cx="118" cy="587" r="11.6" fill="#888888" filter="url(#grain)"/>
<circle cx="118" cy="587" r="11.1" fill="none" stroke="#6c6c6c" stroke-width="1"/>
<circle cx="143.8" cy="587" r="12.4" fill="none" stroke="#e0e0e0" stroke-width="0.8"/>
<circle cx="143.8" cy="587" r="11.6" fill="#d4d4d4" filter="url(#grainw)"/>
<circle cx="143.8" cy="587" r="11.1" fill="none" stroke="#a9a9a9" stroke-width="1"/>
<text x="0" y="0" font-size="10.38" transform="translate(22.9 564.9) scale(0.8475 1)" text-anchor="end" stroke="#000" stroke-width="0.15">Ctrl</text>
<text x="0" y="0" font-size="10.38" transform="translate(22.9 591) scale(0.8475 1)" text-anchor="end" font-style="italic" stroke="#000" stroke-width="0.15">A4</text>
<text x="0" y="0" font-size="10.38" transform="translate(92.3 612.9) scale(0.8475 1)" text-anchor="middle" stroke="#000" stroke-width="0.15">Glucose (mg/L)</text>
<text x="0" y="0" font-size="8.97" transform="translate(39.9 623.1) scale(0.8475 1)" text-anchor="middle" stroke="#000" stroke-width="0.15">2000</text>
<text x="0" y="0" font-size="8.97" transform="translate(65.9 623.1) scale(0.8475 1)" text-anchor="middle" stroke="#000" stroke-width="0.15">667</text>
<text x="0" y="0" font-size="8.97" transform="translate(92.3 623.1) scale(0.8475 1)" text-anchor="middle" stroke="#000" stroke-width="0.15">222</text>
<text x="0" y="0" font-size="8.97" transform="translate(118 623.1) scale(0.8475 1)" text-anchor="middle" stroke="#000" stroke-width="0.15">74</text>
<text x="0" y="0" font-size="8.97" transform="translate(143.7 623.1) scale(0.8475 1)" text-anchor="middle" stroke="#000" stroke-width="0.15">0</text>
<circle cx="40.1" cy="637.6" r="12.4" fill="none" stroke="#e0e0e0" stroke-width="0.8"/>
<circle cx="40.1" cy="637.6" r="11.6" fill="#323232" filter="url(#grain)"/>
<circle cx="40.1" cy="637.6" r="11.1" fill="none" stroke="#242424" stroke-width="1"/>
<circle cx="66" cy="637.6" r="12.4" fill="none" stroke="#e0e0e0" stroke-width="0.8"/>
<circle cx="66" cy="637.6" r="11.6" fill="#222222" filter="url(#grain)"/>
<circle cx="66" cy="637.6" r="11.1" fill="none" stroke="#1a1a1a" stroke-width="1"/>
<circle cx="91.9" cy="637.6" r="12.4" fill="none" stroke="#e0e0e0" stroke-width="0.8"/>
<circle cx="91.9" cy="637.6" r="11.6" fill="#2a2a2a" filter="url(#grain)"/>
<circle cx="91.9" cy="637.6" r="11.1" fill="none" stroke="#1f1f1f" stroke-width="1"/>
<circle cx="118" cy="637.6" r="12.4" fill="none" stroke="#e0e0e0" stroke-width="0.8"/>
<circle cx="118" cy="637.6" r="11.6" fill="#7a7a7a" filter="url(#grain)"/>
<circle cx="118" cy="637.6" r="11.1" fill="none" stroke="#616161" stroke-width="1"/>
<circle cx="143.8" cy="637.6" r="12.4" fill="none" stroke="#e0e0e0" stroke-width="0.8"/>
<circle cx="143.8" cy="637.6" r="11.6" fill="#8a8a8a" filter="url(#grain)"/>
<circle cx="143.8" cy="637.6" r="11.1" fill="none" stroke="#6e6e6e" stroke-width="1"/>
<circle cx="40.1" cy="664" r="12.4" fill="none" stroke="#e0e0e0" stroke-width="0.8"/>
<circle cx="40.1" cy="664" r="11.6" fill="#444444" filter="url(#grain)"/>
<circle cx="40.1" cy="664" r="11.1" fill="none" stroke="#3e3e3e" stroke-width="1"/>
<circle cx="66" cy="664" r="12.4" fill="none" stroke="#e0e0e0" stroke-width="0.8"/>
<circle cx="66" cy="664" r="11.6" fill="#5c5c5c" filter="url(#grain)"/>
<circle cx="66" cy="664" r="11.1" fill="none" stroke="#515151" stroke-width="1"/>
<circle cx="91.9" cy="664" r="12.4" fill="none" stroke="#e0e0e0" stroke-width="0.8"/>
<circle cx="91.9" cy="664" r="11.6" fill="#e2e2e2" filter="url(#grainw)"/>
<circle cx="91.9" cy="664" r="11.1" fill="none" stroke="#b4b4b4" stroke-width="1"/>
<circle cx="118" cy="664" r="12.4" fill="none" stroke="#e0e0e0" stroke-width="0.8"/>
<circle cx="118" cy="664" r="11.6" fill="#eeeeee" filter="url(#grainw)"/>
<circle cx="118" cy="664" r="11.1" fill="none" stroke="#bebebe" stroke-width="1"/>
<circle cx="143.8" cy="664" r="12.4" fill="none" stroke="#e0e0e0" stroke-width="0.8"/>
<circle cx="143.8" cy="664" r="11.6" fill="#f0f0f0" filter="url(#grainw)"/>
<circle cx="143.8" cy="664" r="11.1" fill="none" stroke="#c0c0c0" stroke-width="1"/>
<text x="0" y="0" font-size="10.38" transform="translate(22.9 644.4) scale(0.8475 1)" text-anchor="end" stroke="#000" stroke-width="0.15">Ctrl</text>
<text x="0" y="0" font-size="10.38" transform="translate(22.9 668.2) scale(0.8475 1)" text-anchor="end" font-style="italic" stroke="#000" stroke-width="0.15">A4</text>
<text x="0" y="0" font-size="10.38" transform="translate(91.6 688) scale(0.8475 1)" text-anchor="middle" stroke="#000" stroke-width="0.15">H1703</text>
<text x="0" y="0" font-size="19.25" transform="translate(169.2 537.6) scale(0.9091 1)" font-weight="bold" stroke="#000" stroke-width="0.15">g</text>
<text x="0" y="0" font-size="9.79" transform="translate(266 541) scale(0.9091 1)" text-anchor="middle" stroke="#000" stroke-width="0.15">GC/MS_BIN-67</text>
<line x1="245.9" y1="547.3" x2="245.9" y2="659.8" stroke="#ededed" stroke-width="0.8"/>
<line x1="207" y1="622.3" x2="323.6" y2="622.3" stroke="#ededed" stroke-width="0.8"/>
<circle cx="253.68" cy="584.8" r="1.9" fill="none" stroke="#d0d0d0" stroke-width="0.65"/>
<circle cx="237.48" cy="596.05" r="1.9" fill="none" stroke="#d0d0d0" stroke-width="0.65"/>
<circle cx="242.66" cy="602.3" r="1.9" fill="none" stroke="#d0d0d0" stroke-width="0.65"/>
<circle cx="246.55" cy="603.55" r="1.9" fill="none" stroke="#d0d0d0" stroke-width="0.65"/>
<circle cx="244.6" cy="606.67" r="1.9" fill="none" stroke="#d0d0d0" stroke-width="0.65"/>
<circle cx="252.38" cy="606.05" r="1.9" fill="none" stroke="#d0d0d0" stroke-width="0.65"/>
<circle cx="254.65" cy="604.17" r="1.9" fill="none" stroke="#d0d0d0" stroke-width="0.65"/>
<circle cx="238.77" cy="612.92" r="1.9" fill="none" stroke="#d0d0d0" stroke-width="0.65"/>
<circle cx="236.83" cy="614.8" r="1.9" fill="none" stroke="#d0d0d0" stroke-width="0.65"/>
<circle cx="234.24" cy="617.92" r="1.9" fill="none" stroke="#d0d0d0" stroke-width="0.65"/>
<circle cx="237.15" cy="619.17" r="1.9" fill="none" stroke="#d0d0d0" stroke-width="0.65"/>
<circle cx="228.73" cy="621.05" r="1.9" fill="none" stroke="#d0d0d0" stroke-width="0.65"/>
<circle cx="217.13" cy="642.3" r="1.9" fill="none" stroke="#d0d0d0" stroke-width="0.65"/>
<circle cx="220.3" cy="637.61" r="1.9" fill="none" stroke="#d0d0d0" stroke-width="0.65"/>
<circle cx="222.57" cy="632.3" r="1.9" fill="none" stroke="#d0d0d0" stroke-width="0.65"/>
<circle cx="223.87" cy="626.67" r="1.9" fill="none" stroke="#d0d0d0" stroke-width="0.65"/>
<circle cx="245.9" cy="632.3" r="1.9" fill="none" stroke="#d0d0d0" stroke-width="0.65"/>
<circle cx="257.56" cy="619.8" r="1.9" fill="none" stroke="#d0d0d0" stroke-width="0.65"/>
<circle cx="227.11" cy="629.17" r="1.9" fill="none" stroke="#d0d0d0" stroke-width="0.65"/>
<circle cx="231.64" cy="624.8" r="1.9" fill="none" stroke="#d0d0d0" stroke-width="0.65"/>
<circle cx="241.36" cy="616.05" r="1.9" fill="none" stroke="#d0d0d0" stroke-width="0.65"/>
<circle cx="248.49" cy="616.67" r="1.9" fill="none" stroke="#d0d0d0" stroke-width="0.65"/>
<circle cx="225.81" cy="634.8" r="1.9" fill="none" stroke="#d0d0d0" stroke-width="0.65"/>
<circle cx="241.39" cy="624.13" r="1.9" fill="none" stroke="#d0d0d0" stroke-width="0.65"/>
<circle cx="249.06" cy="625.71" r="1.9" fill="none" stroke="#d0d0d0" stroke-width="0.65"/>
<circle cx="244.2" cy="621.83" r="1.9" fill="none" stroke="#d0d0d0" stroke-width="0.65"/>
<circle cx="237.62" cy="626.02" r="1.9" fill="none" stroke="#d0d0d0" stroke-width="0.65"/>
<circle cx="249.08" cy="624.13" r="1.9" fill="none" stroke="#d0d0d0" stroke-width="0.65"/>
<circle cx="229.17" cy="635.15" r="1.9" fill="none" stroke="#d0d0d0" stroke-width="0.65"/>
<circle cx="237.71" cy="625.54" r="1.9" fill="none" stroke="#d0d0d0" stroke-width="0.65"/>
<circle cx="240.22" cy="620.5" r="1.9" fill="none" stroke="#d0d0d0" stroke-width="0.65"/>
<circle cx="226.77" cy="630.37" r="1.9" fill="none" stroke="#d0d0d0" stroke-width="0.65"/>
<circle cx="248.43" cy="617.98" r="1.9" fill="none" stroke="#d0d0d0" stroke-width="0.65"/>
<circle cx="244.82" cy="619.19" r="1.9" fill="none" stroke="#d0d0d0" stroke-width="0.65"/>
<circle cx="229.79" cy="624.74" r="1.9" fill="none" stroke="#d0d0d0" stroke-width="0.65"/>
<circle cx="241.26" cy="623.78" r="1.9" fill="none" stroke="#d0d0d0" stroke-width="0.65"/>
<circle cx="247.35" cy="620.84" r="1.9" fill="none" stroke="#d0d0d0" stroke-width="0.65"/>
<circle cx="231.48" cy="626.72" r="1.9" fill="none" stroke="#d0d0d0" stroke-width="0.65"/>
<circle cx="247.38" cy="612.29" r="1.9" fill="none" stroke="#d0d0d0" stroke-width="0.65"/>
<circle cx="233.4" cy="623.93" r="1.9" fill="none" stroke="#d0d0d0" stroke-width="0.65"/>
<circle cx="242.71" cy="624.15" r="1.9" fill="none" stroke="#d0d0d0" stroke-width="0.65"/>
<circle cx="231.37" cy="624.22" r="1.9" fill="none" stroke="#d0d0d0" stroke-width="0.65"/>
<circle cx="249.63" cy="621.61" r="1.9" fill="none" stroke="#d0d0d0" stroke-width="0.65"/>
<circle cx="247.89" cy="621.61" r="1.9" fill="none" stroke="#d0d0d0" stroke-width="0.65"/>
<circle cx="230.44" cy="626.31" r="1.9" fill="none" stroke="#d0d0d0" stroke-width="0.65"/>
<circle cx="229.95" cy="626.94" r="1.9" fill="none" stroke="#d0d0d0" stroke-width="0.65"/>
<circle cx="240.92" cy="623.02" r="1.9" fill="none" stroke="#d0d0d0" stroke-width="0.65"/>
<circle cx="226.54" cy="632.25" r="1.9" fill="none" stroke="#d0d0d0" stroke-width="0.65"/>
<circle cx="233.89" cy="630.02" r="1.9" fill="none" stroke="#d0d0d0" stroke-width="0.65"/>
<circle cx="246.08" cy="624.29" r="1.9" fill="none" stroke="#d0d0d0" stroke-width="0.65"/>
<circle cx="238" cy="625.16" r="1.9" fill="none" stroke="#d0d0d0" stroke-width="0.65"/>
<circle cx="243.36" cy="614.95" r="1.9" fill="none" stroke="#d0d0d0" stroke-width="0.65"/>
<circle cx="227.01" cy="627.81" r="1.9" fill="none" stroke="#d0d0d0" stroke-width="0.65"/>
<circle cx="244.44" cy="622.05" r="1.9" fill="none" stroke="#d0d0d0" stroke-width="0.65"/>
<circle cx="245.35" cy="622.44" r="1.9" fill="none" stroke="#d0d0d0" stroke-width="0.65"/>
<circle cx="235.24" cy="627.19" r="1.9" fill="none" stroke="#d0d0d0" stroke-width="0.65"/>
<circle cx="227.58" cy="630.71" r="1.9" fill="none" stroke="#d0d0d0" stroke-width="0.65"/>
<line x1="207" y1="659.8" x2="323.6" y2="547.3" stroke="#8a8a8a" stroke-width="0.6"/>
<rect x="207" y="547.3" width="116.6" height="112.5" fill="none" stroke="#6a6a6a" stroke-width="0.9"/>
<line x1="204.5" y1="653.55" x2="207" y2="653.55" stroke="#5a5a5a" stroke-width="0.8"/>
<text x="0" y="0" font-size="9.46" transform="translate(203.4 656.55) scale(0.9091 1)" text-anchor="end" stroke="#000" stroke-width="0.15">-5</text>
<line x1="213.5" y1="659.8" x2="213.5" y2="662.3" stroke="#5a5a5a" stroke-width="0.8"/>
<text x="0" y="0" font-size="9.46" transform="translate(213.5 672.9) scale(0.9091 1)" text-anchor="middle" stroke="#000" stroke-width="0.15">-5</text>
<line x1="204.5" y1="622.3" x2="207" y2="622.3" stroke="#5a5a5a" stroke-width="0.8"/>
<text x="0" y="0" font-size="9.46" transform="translate(203.4 625.3) scale(0.9091 1)" text-anchor="end" stroke="#000" stroke-width="0.15">0</text>
<line x1="245.9" y1="659.8" x2="245.9" y2="662.3" stroke="#5a5a5a" stroke-width="0.8"/>
<text x="0" y="0" font-size="9.46" transform="translate(245.9 672.9) scale(0.9091 1)" text-anchor="middle" stroke="#000" stroke-width="0.15">0</text>
<line x1="204.5" y1="591.05" x2="207" y2="591.05" stroke="#5a5a5a" stroke-width="0.8"/>
<text x="0" y="0" font-size="9.46" transform="translate(203.4 594.05) scale(0.9091 1)" text-anchor="end" stroke="#000" stroke-width="0.15">5</text>
<line x1="278.3" y1="659.8" x2="278.3" y2="662.3" stroke="#5a5a5a" stroke-width="0.8"/>
<text x="0" y="0" font-size="9.46" transform="translate(278.3 672.9) scale(0.9091 1)" text-anchor="middle" stroke="#000" stroke-width="0.15">5</text>
<line x1="204.5" y1="559.8" x2="207" y2="559.8" stroke="#5a5a5a" stroke-width="0.8"/>
<text x="0" y="0" font-size="9.46" transform="translate(203.4 562.8) scale(0.9091 1)" text-anchor="end" stroke="#000" stroke-width="0.15">10</text>
<line x1="310.7" y1="659.8" x2="310.7" y2="662.3" stroke="#5a5a5a" stroke-width="0.8"/>
<text x="0" y="0" font-size="9.46" transform="translate(310.7 672.9) scale(0.9091 1)" text-anchor="middle" stroke="#000" stroke-width="0.15">10</text>
<text x="0" y="0" font-size="9.35" transform="translate(266 682) scale(0.9091 1)" text-anchor="middle" stroke="#000" stroke-width="0.15">-Log2 FC (-Glutamine/Ctrl)</text>
<text x="189.6" y="602.5" font-size="8.7" transform="rotate(-90 189.6 602.5)" text-anchor="middle" stroke="#000" stroke-width="0.15">-Log2 FC (-Glucose/Ctrl)</text>
<circle cx="265.99" cy="597.3" r="2.2" fill="#9c9c9c"/>
<circle cx="267.28" cy="606.05" r="2.2" fill="#9c9c9c"/>
<circle cx="280.24" cy="610.42" r="2.2" fill="#9c9c9c"/>
<circle cx="269.88" cy="617.92" r="2.2" fill="#9c9c9c"/>
<circle cx="273.76" cy="619.17" r="2.2" fill="#9c9c9c"/>
<circle cx="256.27" cy="625.42" r="2.2" fill="#9c9c9c"/>
<circle cx="263.4" cy="624.17" r="2.2" fill="#9c9c9c"/>
<circle cx="250.44" cy="631.05" r="2.2" fill="#9c9c9c"/>
<circle cx="274.41" cy="633.55" r="2.2" fill="#9c9c9c"/>
<circle cx="312.64" cy="626.67" r="2.2" fill="#9c9c9c"/>
<line x1="229" y1="575.2" x2="243" y2="587.2" stroke="#c8c8c8" stroke-width="0.6"/>
<line x1="308" y1="594" x2="298.5" y2="610" stroke="#c8c8c8" stroke-width="0.6"/>
<line x1="250.4" y1="634.5" x2="250.4" y2="648.5" stroke="#dcdcdc" stroke-width="0.6"/>
<line x1="256.6" y1="628.4" x2="256.6" y2="639.4" stroke="#dcdcdc" stroke-width="0.6"/>
<line x1="312.64" y1="629.17" x2="312.64" y2="650.5" stroke="#dcdcdc" stroke-width="0.6"/>
<circle cx="245.9" cy="589.17" r="3.1" fill="#3d9a9b"/>
<circle cx="296.44" cy="612.3" r="3.1" fill="#f0287a"/>
<text x="0" y="0" font-size="9.29" transform="translate(212 572.6) scale(0.9091 1)" fill="#1a1a1a" stroke="#1a1a1a" stroke-width="0.15">Glucose</text>
<text x="0" y="0" font-size="9.29" transform="translate(284.1 592.6) scale(0.9091 1)" fill="#1a1a1a" stroke="#1a1a1a" stroke-width="0.15">Glutamine</text>
<text x="0" y="0" font-size="8.03" transform="translate(275.6 600.1) scale(0.9091 1)" fill="#9a9a9a" stroke="#9a9a9a" stroke-width="0.15">Isocitrate</text>
<text x="0" y="0" font-size="8.03" transform="translate(270.6 607.9) scale(0.9091 1)" fill="#9a9a9a" stroke="#9a9a9a" stroke-width="0.15">Citrate</text>
<text x="0" y="0" font-size="8.03" transform="translate(243.3 615.2) scale(0.9091 1)" fill="#9a9a9a" stroke="#9a9a9a" stroke-width="0.15">Aconitate</text>
<text x="0" y="0" font-size="8.03" transform="translate(277.5 617.7) scale(0.9091 1)" fill="#9a9a9a" stroke="#9a9a9a" stroke-width="0.15">aKG</text>
<text x="0" y="0" font-size="8.03" transform="translate(277.2 624) scale(0.9091 1)" fill="#9a9a9a" stroke="#9a9a9a" stroke-width="0.15">Malate</text>
<text x="0" y="0" font-size="8.03" transform="translate(265.5 630.3) scale(0.9091 1)" fill="#9a9a9a" stroke="#9a9a9a" stroke-width="0.15">Glutamate</text>
<text x="0" y="0" font-size="8.03" transform="translate(276 640.9) scale(0.9091 1)" fill="#9a9a9a" stroke="#9a9a9a" stroke-width="0.15">Aspartate</text>
<text x="0" y="0" font-size="8.03" transform="translate(254.6 648.7) scale(0.9091 1)" fill="#9a9a9a" stroke="#9a9a9a" stroke-width="0.15">Fumarate</text>
<text x="0" y="0" font-size="8.03" transform="translate(247.1 657.6) scale(0.9091 1)" fill="#9a9a9a" stroke="#9a9a9a" stroke-width="0.15">Succinate</text>
<text x="0" y="0" font-size="8.03" transform="translate(283.1 657.6) scale(0.9091 1)" fill="#9a9a9a" stroke="#9a9a9a" stroke-width="0.15">Oxalocetate</text>
<text x="359.6" y="537.4" font-size="17.5" font-weight="bold" stroke="#000" stroke-width="0.15">h</text>
<line x1="381.4" y1="654.2" x2="381.4" y2="574.5" stroke="#555" stroke-width="0.9"/>
<line x1="379.3" y1="574.5" x2="383.6" y2="574.5" stroke="#555" stroke-width="0.9"/>
<line x1="381.4" y1="558.5" x2="381.4" y2="567.4" stroke="#555" stroke-width="0.9"/>
<line x1="379" y1="567.4" x2="383.8" y2="567.4" stroke="#555" stroke-width="0.9"/>
<line x1="378.1" y1="558.5" x2="381.4" y2="558.5" stroke="#555" stroke-width="0.9"/>
<text x="377.2" y="561.7" font-size="8.2" text-anchor="end" stroke="#000" stroke-width="0.15">12</text>
<line x1="379.3" y1="654.2" x2="381.4" y2="654.2" stroke="#555" stroke-width="0.9"/>
<text x="377.2" y="656.3" font-size="8.2" text-anchor="end" stroke="#000" stroke-width="0.15">0</text>
<line x1="379.3" y1="634.8" x2="381.4" y2="634.8" stroke="#555" stroke-width="0.9"/>
<text x="377.2" y="636.9" font-size="8.2" text-anchor="end" stroke="#000" stroke-width="0.15">1</text>
<line x1="379.3" y1="615.4" x2="381.4" y2="615.4" stroke="#555" stroke-width="0.9"/>
<text x="377.2" y="617.5" font-size="8.2" text-anchor="end" stroke="#000" stroke-width="0.15">2</text>
<line x1="379.3" y1="596" x2="381.4" y2="596" stroke="#555" stroke-width="0.9"/>
<text x="377.2" y="598.1" font-size="8.2" text-anchor="end" stroke="#000" stroke-width="0.15">3</text>
<line x1="379.3" y1="576.6" x2="381.4" y2="576.6" stroke="#555" stroke-width="0.9"/>
<text x="377.2" y="578.7" font-size="8.2" text-anchor="end" stroke="#000" stroke-width="0.15">4</text>
<line x1="381.4" y1="654.2" x2="673.4" y2="654.2" stroke="#555" stroke-width="0.9"/>
<text x="360.5" y="604.6" font-size="8.4" transform="rotate(-90 360.5 604.6)" text-anchor="middle" stroke="#000" stroke-width="0.15">Relative levels</text>
<rect x="384.3" y="634.8" width="5.8" height="19.4" fill="#c9c9c9" stroke="#8f8f8f" stroke-width="0.7"/>
<line x1="387.2" y1="628.98" x2="387.2" y2="634.8" stroke="#8a8a8a" stroke-width="0.7"/>
<line x1="385.9" y1="628.98" x2="388.5" y2="628.98" stroke="#8a8a8a" stroke-width="0.7"/>
<circle cx="386" cy="629.56" r="1.55" fill="#e8e8e8" stroke="#6f6f6f" stroke-width="0.75"/>
<circle cx="388.5" cy="633.05" r="1.55" fill="#e8e8e8" stroke="#6f6f6f" stroke-width="0.75"/>
<circle cx="387.2" cy="637.13" r="1.55" fill="#e8e8e8" stroke="#6f6f6f" stroke-width="0.75"/>
<circle cx="386.4" cy="641.78" r="1.55" fill="#e8e8e8" stroke="#6f6f6f" stroke-width="0.75"/>
<rect x="393" y="574.5" width="5.8" height="79.7" fill="#2fa6a6"/>
<rect x="393" y="565.6" width="5.8" height="1.8" fill="#2fa6a6"/>
<line x1="395.9" y1="559.8" x2="395.9" y2="565.6" stroke="#35a9ab" stroke-width="0.7"/>
<circle cx="395.9" cy="560.2" r="1.4" fill="none" stroke="#35a9ab" stroke-width="0.7"/>
<circle cx="395.9" cy="578.5" r="1.4" fill="none" stroke="#5bbdbd" stroke-width="0.7"/>
<line x1="391.4" y1="654.2" x2="391.4" y2="656.8" stroke="#555" stroke-width="0.8"/>
<text x="392.9" y="664.9" font-size="8.8" transform="rotate(-45 392.9 664.9)" text-anchor="end" stroke="#000" stroke-width="0.15">Glucose</text>
<rect x="406.98" y="634.8" width="5.8" height="19.4" fill="#c9c9c9" stroke="#8f8f8f" stroke-width="0.7"/>
<line x1="409.88" y1="632.47" x2="409.88" y2="634.8" stroke="#8a8a8a" stroke-width="0.7"/>
<line x1="408.58" y1="632.47" x2="411.18" y2="632.47" stroke="#8a8a8a" stroke-width="0.7"/>
<circle cx="408.68" cy="632.7" r="1.55" fill="#e8e8e8" stroke="#6f6f6f" stroke-width="0.75"/>
<circle cx="411.18" cy="634.1" r="1.55" fill="#e8e8e8" stroke="#6f6f6f" stroke-width="0.75"/>
<circle cx="409.88" cy="635.73" r="1.55" fill="#e8e8e8" stroke="#6f6f6f" stroke-width="0.75"/>
<circle cx="409.08" cy="637.59" r="1.55" fill="#e8e8e8" stroke="#6f6f6f" stroke-width="0.75"/>
<rect x="415.68" y="647.8" width="5.8" height="6.4" fill="#2fa6a6" stroke="#2a9c9c" stroke-width="0.5"/>
<line x1="418.58" y1="646.83" x2="418.58" y2="647.8" stroke="#35a9ab" stroke-width="0.7"/>
<line x1="417.28" y1="646.83" x2="419.88" y2="646.83" stroke="#35a9ab" stroke-width="0.7"/>
<circle cx="418.58" cy="646.78" r="1.55" fill="none" stroke="#35a9ab" stroke-width="0.75"/>
<circle cx="418.58" cy="647.31" r="1.55" fill="none" stroke="#35a9ab" stroke-width="0.75"/>
<circle cx="418.58" cy="648.38" r="1.55" fill="none" stroke="#1f8a8a" stroke-width="0.75"/>
<circle cx="418.58" cy="649.06" r="1.55" fill="none" stroke="#1f8a8a" stroke-width="0.75"/>
<line x1="414.08" y1="654.2" x2="414.08" y2="656.8" stroke="#555" stroke-width="0.8"/>
<text x="415.58" y="664.9" font-size="8.8" transform="rotate(-45 415.58 664.9)" text-anchor="end" stroke="#000" stroke-width="0.15">Glutamine</text>
<rect x="429.66" y="634.8" width="5.8" height="19.4" fill="#c9c9c9" stroke="#8f8f8f" stroke-width="0.7"/>
<line x1="432.56" y1="630.92" x2="432.56" y2="634.8" stroke="#8a8a8a" stroke-width="0.7"/>
<line x1="431.26" y1="630.92" x2="433.86" y2="630.92" stroke="#8a8a8a" stroke-width="0.7"/>
<circle cx="431.36" cy="631.31" r="1.55" fill="#e8e8e8" stroke="#6f6f6f" stroke-width="0.75"/>
<circle cx="433.86" cy="633.64" r="1.55" fill="#e8e8e8" stroke="#6f6f6f" stroke-width="0.75"/>
<circle cx="432.56" cy="636.35" r="1.55" fill="#e8e8e8" stroke="#6f6f6f" stroke-width="0.75"/>
<circle cx="431.76" cy="639.46" r="1.55" fill="#e8e8e8" stroke="#6f6f6f" stroke-width="0.75"/>
<rect x="438.36" y="640.62" width="5.8" height="13.58" fill="#2fa6a6" stroke="#2a9c9c" stroke-width="0.5"/>
<line x1="441.26" y1="638.68" x2="441.26" y2="640.62" stroke="#35a9ab" stroke-width="0.7"/>
<line x1="439.96" y1="638.68" x2="442.56" y2="638.68" stroke="#35a9ab" stroke-width="0.7"/>
<circle cx="441.26" cy="638.58" r="1.55" fill="none" stroke="#35a9ab" stroke-width="0.75"/>
<circle cx="441.26" cy="639.65" r="1.55" fill="none" stroke="#35a9ab" stroke-width="0.75"/>
<circle cx="441.26" cy="641.78" r="1.55" fill="none" stroke="#1f8a8a" stroke-width="0.75"/>
<circle cx="441.26" cy="643.14" r="1.55" fill="none" stroke="#1f8a8a" stroke-width="0.75"/>
<line x1="436.76" y1="654.2" x2="436.76" y2="656.8" stroke="#555" stroke-width="0.8"/>
<text x="438.26" y="664.9" font-size="8.8" transform="rotate(-45 438.26 664.9)" text-anchor="end" stroke="#000" stroke-width="0.15">Glutmate</text>
<rect x="452.34" y="634.8" width="5.8" height="19.4" fill="#c9c9c9" stroke="#8f8f8f" stroke-width="0.7"/>
<line x1="455.24" y1="632.86" x2="455.24" y2="634.8" stroke="#8a8a8a" stroke-width="0.7"/>
<line x1="453.94" y1="632.86" x2="456.54" y2="632.86" stroke="#8a8a8a" stroke-width="0.7"/>
<circle cx="454.04" cy="633.05" r="1.55" fill="#e8e8e8" stroke="#6f6f6f" stroke-width="0.75"/>
<circle cx="456.54" cy="634.22" r="1.55" fill="#e8e8e8" stroke="#6f6f6f" stroke-width="0.75"/>
<circle cx="455.24" cy="635.58" r="1.55" fill="#e8e8e8" stroke="#6f6f6f" stroke-width="0.75"/>
<circle cx="454.44" cy="637.13" r="1.55" fill="#e8e8e8" stroke="#6f6f6f" stroke-width="0.75"/>
<rect x="461.04" y="618.31" width="5.8" height="35.89" fill="#2fa6a6" stroke="#2a9c9c" stroke-width="0.5"/>
<line x1="463.94" y1="615.4" x2="463.94" y2="618.31" stroke="#35a9ab" stroke-width="0.7"/>
<line x1="462.64" y1="615.4" x2="465.24" y2="615.4" stroke="#35a9ab" stroke-width="0.7"/>
<circle cx="463.94" cy="615.25" r="1.55" fill="none" stroke="#35a9ab" stroke-width="0.75"/>
<circle cx="463.94" cy="616.86" r="1.55" fill="none" stroke="#35a9ab" stroke-width="0.75"/>
<circle cx="463.94" cy="620.06" r="1.55" fill="none" stroke="#1f8a8a" stroke-width="0.75"/>
<circle cx="463.94" cy="622.09" r="1.55" fill="none" stroke="#1f8a8a" stroke-width="0.75"/>
<line x1="459.44" y1="654.2" x2="459.44" y2="656.8" stroke="#555" stroke-width="0.8"/>
<text x="460.94" y="664.9" font-size="8.8" transform="rotate(-45 460.94 664.9)" text-anchor="end" stroke="#000" stroke-width="0.15">Citrate</text>
<rect x="475.02" y="634.8" width="5.8" height="19.4" fill="#c9c9c9" stroke="#8f8f8f" stroke-width="0.7"/>
<line x1="477.92" y1="627.04" x2="477.92" y2="634.8" stroke="#8a8a8a" stroke-width="0.7"/>
<line x1="476.62" y1="627.04" x2="479.22" y2="627.04" stroke="#8a8a8a" stroke-width="0.7"/>
<circle cx="476.72" cy="627.82" r="1.55" fill="#e8e8e8" stroke="#6f6f6f" stroke-width="0.75"/>
<circle cx="479.22" cy="632.47" r="1.55" fill="#e8e8e8" stroke="#6f6f6f" stroke-width="0.75"/>
<circle cx="477.92" cy="637.9" r="1.55" fill="#e8e8e8" stroke="#6f6f6f" stroke-width="0.75"/>
<circle cx="477.12" cy="644.11" r="1.55" fill="#e8e8e8" stroke="#6f6f6f" stroke-width="0.75"/>
<rect x="483.72" y="616.76" width="5.8" height="37.44" fill="#2fa6a6" stroke="#2a9c9c" stroke-width="0.5"/>
<line x1="486.62" y1="603.18" x2="486.62" y2="616.76" stroke="#35a9ab" stroke-width="0.7"/>
<line x1="485.32" y1="603.18" x2="487.92" y2="603.18" stroke="#35a9ab" stroke-width="0.7"/>
<circle cx="486.62" cy="602.5" r="1.55" fill="none" stroke="#35a9ab" stroke-width="0.75"/>
<circle cx="486.62" cy="609.97" r="1.55" fill="none" stroke="#35a9ab" stroke-width="0.75"/>
<circle cx="486.62" cy="624.91" r="1.55" fill="none" stroke="#1f8a8a" stroke-width="0.75"/>
<circle cx="486.62" cy="634.41" r="1.55" fill="none" stroke="#1f8a8a" stroke-width="0.75"/>
<line x1="482.12" y1="654.2" x2="482.12" y2="656.8" stroke="#555" stroke-width="0.8"/>
<text x="483.62" y="664.9" font-size="8.8" transform="rotate(-45 483.62 664.9)" text-anchor="end" stroke="#000" stroke-width="0.15">Isocitrate</text>
<rect x="497.7" y="634.8" width="5.8" height="19.4" fill="#c9c9c9" stroke="#8f8f8f" stroke-width="0.7"/>
<line x1="500.6" y1="632.86" x2="500.6" y2="634.8" stroke="#8a8a8a" stroke-width="0.7"/>
<line x1="499.3" y1="632.86" x2="501.9" y2="632.86" stroke="#8a8a8a" stroke-width="0.7"/>
<circle cx="499.4" cy="633.05" r="1.55" fill="#e8e8e8" stroke="#6f6f6f" stroke-width="0.75"/>
<circle cx="501.9" cy="634.22" r="1.55" fill="#e8e8e8" stroke="#6f6f6f" stroke-width="0.75"/>
<circle cx="500.6" cy="635.58" r="1.55" fill="#e8e8e8" stroke="#6f6f6f" stroke-width="0.75"/>
<circle cx="499.8" cy="637.13" r="1.55" fill="#e8e8e8" stroke="#6f6f6f" stroke-width="0.75"/>
<rect x="506.4" y="618.31" width="5.8" height="35.89" fill="#2fa6a6" stroke="#2a9c9c" stroke-width="0.5"/>
<line x1="509.3" y1="615.4" x2="509.3" y2="618.31" stroke="#35a9ab" stroke-width="0.7"/>
<line x1="508" y1="615.4" x2="510.6" y2="615.4" stroke="#35a9ab" stroke-width="0.7"/>
<circle cx="509.3" cy="615.25" r="1.55" fill="none" stroke="#35a9ab" stroke-width="0.75"/>
<circle cx="509.3" cy="616.86" r="1.55" fill="none" stroke="#35a9ab" stroke-width="0.75"/>
<circle cx="509.3" cy="620.06" r="1.55" fill="none" stroke="#1f8a8a" stroke-width="0.75"/>
<circle cx="509.3" cy="622.09" r="1.55" fill="none" stroke="#1f8a8a" stroke-width="0.75"/>
<line x1="504.8" y1="654.2" x2="504.8" y2="656.8" stroke="#555" stroke-width="0.8"/>
<text x="506.3" y="664.9" font-size="8.8" transform="rotate(-45 506.3 664.9)" text-anchor="end" stroke="#000" stroke-width="0.15">Cis-Aconitate</text>
<rect x="520.38" y="634.8" width="5.8" height="19.4" fill="#c9c9c9" stroke="#8f8f8f" stroke-width="0.7"/>
<line x1="523.28" y1="628.01" x2="523.28" y2="634.8" stroke="#8a8a8a" stroke-width="0.7"/>
<line x1="521.98" y1="628.01" x2="524.58" y2="628.01" stroke="#8a8a8a" stroke-width="0.7"/>
<circle cx="522.08" cy="628.69" r="1.55" fill="#e8e8e8" stroke="#6f6f6f" stroke-width="0.75"/>
<circle cx="524.58" cy="632.76" r="1.55" fill="#e8e8e8" stroke="#6f6f6f" stroke-width="0.75"/>
<circle cx="523.28" cy="637.52" r="1.55" fill="#e8e8e8" stroke="#6f6f6f" stroke-width="0.75"/>
<circle cx="522.48" cy="642.95" r="1.55" fill="#e8e8e8" stroke="#6f6f6f" stroke-width="0.75"/>
<rect x="529.08" y="598.91" width="5.8" height="55.29" fill="#2fa6a6" stroke="#2a9c9c" stroke-width="0.5"/>
<line x1="531.98" y1="581.45" x2="531.98" y2="598.91" stroke="#35a9ab" stroke-width="0.7"/>
<line x1="530.68" y1="581.45" x2="533.28" y2="581.45" stroke="#35a9ab" stroke-width="0.7"/>
<circle cx="531.98" cy="580.58" r="1.55" fill="none" stroke="#35a9ab" stroke-width="0.75"/>
<circle cx="531.98" cy="590.18" r="1.55" fill="none" stroke="#35a9ab" stroke-width="0.75"/>
<circle cx="531.98" cy="609.39" r="1.55" fill="none" stroke="#1f8a8a" stroke-width="0.75"/>
<circle cx="531.98" cy="621.61" r="1.55" fill="none" stroke="#1f8a8a" stroke-width="0.75"/>
<line x1="527.48" y1="654.2" x2="527.48" y2="656.8" stroke="#555" stroke-width="0.8"/>
<text x="528.98" y="664.9" font-size="8.8" transform="rotate(-45 528.98 664.9)" text-anchor="end" stroke="#000" stroke-width="0.15">aKG</text>
<rect x="543.06" y="634.8" width="5.8" height="19.4" fill="#c9c9c9" stroke="#8f8f8f" stroke-width="0.7"/>
<line x1="545.96" y1="628.01" x2="545.96" y2="634.8" stroke="#8a8a8a" stroke-width="0.7"/>
<line x1="544.66" y1="628.01" x2="547.26" y2="628.01" stroke="#8a8a8a" stroke-width="0.7"/>
<circle cx="544.76" cy="628.69" r="1.55" fill="#e8e8e8" stroke="#6f6f6f" stroke-width="0.75"/>
<circle cx="547.26" cy="632.76" r="1.55" fill="#e8e8e8" stroke="#6f6f6f" stroke-width="0.75"/>
<circle cx="545.96" cy="637.52" r="1.55" fill="#e8e8e8" stroke="#6f6f6f" stroke-width="0.75"/>
<circle cx="545.16" cy="642.95" r="1.55" fill="#e8e8e8" stroke="#6f6f6f" stroke-width="0.75"/>
<rect x="551.76" y="616.76" width="5.8" height="37.44" fill="#2fa6a6" stroke="#2a9c9c" stroke-width="0.5"/>
<line x1="554.66" y1="604.15" x2="554.66" y2="616.76" stroke="#35a9ab" stroke-width="0.7"/>
<line x1="553.36" y1="604.15" x2="555.96" y2="604.15" stroke="#35a9ab" stroke-width="0.7"/>
<circle cx="554.66" cy="603.52" r="1.55" fill="none" stroke="#35a9ab" stroke-width="0.75"/>
<circle cx="554.66" cy="610.45" r="1.55" fill="none" stroke="#35a9ab" stroke-width="0.75"/>
<circle cx="554.66" cy="624.32" r="1.55" fill="none" stroke="#1f8a8a" stroke-width="0.75"/>
<circle cx="554.66" cy="633.15" r="1.55" fill="none" stroke="#1f8a8a" stroke-width="0.75"/>
<line x1="550.16" y1="654.2" x2="550.16" y2="656.8" stroke="#555" stroke-width="0.8"/>
<text x="551.66" y="664.9" font-size="8.8" transform="rotate(-45 551.66 664.9)" text-anchor="end" stroke="#000" stroke-width="0.15">Succinate</text>
<rect x="565.74" y="634.8" width="5.8" height="19.4" fill="#c9c9c9" stroke="#8f8f8f" stroke-width="0.7"/>
<line x1="568.64" y1="631.89" x2="568.64" y2="634.8" stroke="#8a8a8a" stroke-width="0.7"/>
<line x1="567.34" y1="631.89" x2="569.94" y2="631.89" stroke="#8a8a8a" stroke-width="0.7"/>
<circle cx="567.44" cy="632.18" r="1.55" fill="#e8e8e8" stroke="#6f6f6f" stroke-width="0.75"/>
<circle cx="569.94" cy="633.93" r="1.55" fill="#e8e8e8" stroke="#6f6f6f" stroke-width="0.75"/>
<circle cx="568.64" cy="635.96" r="1.55" fill="#e8e8e8" stroke="#6f6f6f" stroke-width="0.75"/>
<circle cx="567.84" cy="638.29" r="1.55" fill="#e8e8e8" stroke="#6f6f6f" stroke-width="0.75"/>
<rect x="574.44" y="622.19" width="5.8" height="32.01" fill="#2fa6a6" stroke="#2a9c9c" stroke-width="0.5"/>
<line x1="577.34" y1="616.76" x2="577.34" y2="622.19" stroke="#35a9ab" stroke-width="0.7"/>
<line x1="576.04" y1="616.76" x2="578.64" y2="616.76" stroke="#35a9ab" stroke-width="0.7"/>
<circle cx="577.34" cy="616.49" r="1.55" fill="none" stroke="#35a9ab" stroke-width="0.75"/>
<circle cx="577.34" cy="619.47" r="1.55" fill="none" stroke="#35a9ab" stroke-width="0.75"/>
<circle cx="577.34" cy="625.45" r="1.55" fill="none" stroke="#1f8a8a" stroke-width="0.75"/>
<circle cx="577.34" cy="629.25" r="1.55" fill="none" stroke="#1f8a8a" stroke-width="0.75"/>
<line x1="572.84" y1="654.2" x2="572.84" y2="656.8" stroke="#555" stroke-width="0.8"/>
<text x="574.34" y="664.9" font-size="8.8" transform="rotate(-45 574.34 664.9)" text-anchor="end" stroke="#000" stroke-width="0.15">Fumarate</text>
<rect x="588.42" y="634.8" width="5.8" height="19.4" fill="#c9c9c9" stroke="#8f8f8f" stroke-width="0.7"/>
<line x1="591.32" y1="628.98" x2="591.32" y2="634.8" stroke="#8a8a8a" stroke-width="0.7"/>
<line x1="590.02" y1="628.98" x2="592.62" y2="628.98" stroke="#8a8a8a" stroke-width="0.7"/>
<circle cx="590.12" cy="629.56" r="1.55" fill="#e8e8e8" stroke="#6f6f6f" stroke-width="0.75"/>
<circle cx="592.62" cy="633.05" r="1.55" fill="#e8e8e8" stroke="#6f6f6f" stroke-width="0.75"/>
<circle cx="591.32" cy="637.13" r="1.55" fill="#e8e8e8" stroke="#6f6f6f" stroke-width="0.75"/>
<circle cx="590.52" cy="641.78" r="1.55" fill="#e8e8e8" stroke="#6f6f6f" stroke-width="0.75"/>
<rect x="597.12" y="611.13" width="5.8" height="43.07" fill="#2fa6a6" stroke="#2a9c9c" stroke-width="0.5"/>
<line x1="600.02" y1="603.76" x2="600.02" y2="611.13" stroke="#35a9ab" stroke-width="0.7"/>
<line x1="598.72" y1="603.76" x2="601.32" y2="603.76" stroke="#35a9ab" stroke-width="0.7"/>
<circle cx="600.02" cy="603.39" r="1.55" fill="none" stroke="#35a9ab" stroke-width="0.75"/>
<circle cx="600.02" cy="607.45" r="1.55" fill="none" stroke="#35a9ab" stroke-width="0.75"/>
<circle cx="600.02" cy="615.56" r="1.55" fill="none" stroke="#1f8a8a" stroke-width="0.75"/>
<circle cx="600.02" cy="620.72" r="1.55" fill="none" stroke="#1f8a8a" stroke-width="0.75"/>
<line x1="595.52" y1="654.2" x2="595.52" y2="656.8" stroke="#555" stroke-width="0.8"/>
<text x="597.02" y="664.9" font-size="8.8" transform="rotate(-45 597.02 664.9)" text-anchor="end" stroke="#000" stroke-width="0.15">Malate</text>
<rect x="611.1" y="634.8" width="5.8" height="19.4" fill="#c9c9c9" stroke="#8f8f8f" stroke-width="0.7"/>
<line x1="614" y1="633.83" x2="614" y2="634.8" stroke="#8a8a8a" stroke-width="0.7"/>
<line x1="612.7" y1="633.83" x2="615.3" y2="633.83" stroke="#8a8a8a" stroke-width="0.7"/>
<circle cx="612.8" cy="633.93" r="1.55" fill="#e8e8e8" stroke="#6f6f6f" stroke-width="0.75"/>
<circle cx="615.3" cy="634.51" r="1.55" fill="#e8e8e8" stroke="#6f6f6f" stroke-width="0.75"/>
<circle cx="614" cy="635.19" r="1.55" fill="#e8e8e8" stroke="#6f6f6f" stroke-width="0.75"/>
<circle cx="613.2" cy="635.96" r="1.55" fill="#e8e8e8" stroke="#6f6f6f" stroke-width="0.75"/>
<rect x="619.8" y="636.74" width="5.8" height="17.46" fill="#2fa6a6" stroke="#2a9c9c" stroke-width="0.5"/>
<line x1="622.7" y1="635.77" x2="622.7" y2="636.74" stroke="#35a9ab" stroke-width="0.7"/>
<line x1="621.4" y1="635.77" x2="624" y2="635.77" stroke="#35a9ab" stroke-width="0.7"/>
<circle cx="622.7" cy="635.72" r="1.55" fill="none" stroke="#35a9ab" stroke-width="0.75"/>
<circle cx="622.7" cy="636.25" r="1.55" fill="none" stroke="#35a9ab" stroke-width="0.75"/>
<circle cx="622.7" cy="637.32" r="1.55" fill="none" stroke="#1f8a8a" stroke-width="0.75"/>
<circle cx="622.7" cy="638" r="1.55" fill="none" stroke="#1f8a8a" stroke-width="0.75"/>
<line x1="618.2" y1="654.2" x2="618.2" y2="656.8" stroke="#555" stroke-width="0.8"/>
<text x="619.7" y="664.9" font-size="8.8" transform="rotate(-45 619.7 664.9)" text-anchor="end" stroke="#000" stroke-width="0.15">Asparate</text>
<rect x="633.78" y="634.8" width="5.8" height="19.4" fill="#c9c9c9" stroke="#8f8f8f" stroke-width="0.7"/>
<line x1="636.68" y1="628.01" x2="636.68" y2="634.8" stroke="#8a8a8a" stroke-width="0.7"/>
<line x1="635.38" y1="628.01" x2="637.98" y2="628.01" stroke="#8a8a8a" stroke-width="0.7"/>
<circle cx="635.48" cy="628.69" r="1.55" fill="#e8e8e8" stroke="#6f6f6f" stroke-width="0.75"/>
<circle cx="637.98" cy="632.76" r="1.55" fill="#e8e8e8" stroke="#6f6f6f" stroke-width="0.75"/>
<circle cx="636.68" cy="637.52" r="1.55" fill="#e8e8e8" stroke="#6f6f6f" stroke-width="0.75"/>
<circle cx="635.88" cy="642.95" r="1.55" fill="#e8e8e8" stroke="#6f6f6f" stroke-width="0.75"/>
<rect x="642.48" y="607.64" width="5.8" height="46.56" fill="#2fa6a6" stroke="#2a9c9c" stroke-width="0.5"/>
<line x1="645.38" y1="596" x2="645.38" y2="607.64" stroke="#35a9ab" stroke-width="0.7"/>
<line x1="644.08" y1="596" x2="646.68" y2="596" stroke="#35a9ab" stroke-width="0.7"/>
<circle cx="645.38" cy="595.42" r="1.55" fill="none" stroke="#35a9ab" stroke-width="0.75"/>
<circle cx="645.38" cy="601.82" r="1.55" fill="none" stroke="#35a9ab" stroke-width="0.75"/>
<circle cx="645.38" cy="614.62" r="1.55" fill="none" stroke="#1f8a8a" stroke-width="0.75"/>
<circle cx="645.38" cy="622.77" r="1.55" fill="none" stroke="#1f8a8a" stroke-width="0.75"/>
<line x1="640.88" y1="654.2" x2="640.88" y2="656.8" stroke="#555" stroke-width="0.8"/>
<text x="642.38" y="664.9" font-size="8.8" transform="rotate(-45 642.38 664.9)" text-anchor="end" stroke="#000" stroke-width="0.15">Lactate</text>
<rect x="656.46" y="634.8" width="5.8" height="19.4" fill="#c9c9c9" stroke="#8f8f8f" stroke-width="0.7"/>
<line x1="659.36" y1="628.01" x2="659.36" y2="634.8" stroke="#8a8a8a" stroke-width="0.7"/>
<line x1="658.06" y1="628.01" x2="660.66" y2="628.01" stroke="#8a8a8a" stroke-width="0.7"/>
<circle cx="658.16" cy="628.69" r="1.55" fill="#e8e8e8" stroke="#6f6f6f" stroke-width="0.75"/>
<circle cx="660.66" cy="632.76" r="1.55" fill="#e8e8e8" stroke="#6f6f6f" stroke-width="0.75"/>
<circle cx="659.36" cy="637.52" r="1.55" fill="#e8e8e8" stroke="#6f6f6f" stroke-width="0.75"/>
<circle cx="658.56" cy="642.95" r="1.55" fill="#e8e8e8" stroke="#6f6f6f" stroke-width="0.75"/>
<rect x="665.16" y="628.01" width="5.8" height="26.19" fill="#2fa6a6" stroke="#2a9c9c" stroke-width="0.5"/>
<line x1="668.06" y1="612.49" x2="668.06" y2="628.01" stroke="#35a9ab" stroke-width="0.7"/>
<line x1="666.76" y1="612.49" x2="669.36" y2="612.49" stroke="#35a9ab" stroke-width="0.7"/>
<circle cx="668.06" cy="611.71" r="1.55" fill="none" stroke="#35a9ab" stroke-width="0.75"/>
<circle cx="668.06" cy="620.25" r="1.55" fill="none" stroke="#35a9ab" stroke-width="0.75"/>
<circle cx="668.06" cy="637.32" r="1.55" fill="none" stroke="#1f8a8a" stroke-width="0.75"/>
<circle cx="668.06" cy="648.19" r="1.55" fill="none" stroke="#1f8a8a" stroke-width="0.75"/>
<line x1="663.56" y1="654.2" x2="663.56" y2="656.8" stroke="#555" stroke-width="0.8"/>
<text x="665.06" y="664.9" font-size="8.8" transform="rotate(-45 665.06 664.9)" text-anchor="end" stroke="#000" stroke-width="0.15">Pyruvate</text>
<text x="396" y="559.05" font-size="8.2" text-anchor="middle" font-weight="bold" stroke="#000" stroke-width="0.15">*</text>
<text x="419.4" y="646.65" font-size="8.2" text-anchor="middle" font-weight="bold" stroke="#000" stroke-width="0.15">***</text>
<text x="441.6" y="638.45" font-size="8.2" text-anchor="middle" font-weight="bold" stroke="#000" stroke-width="0.15">*</text>
<text x="463.8" y="612.35" font-size="8.2" text-anchor="middle" font-weight="bold" stroke="#000" stroke-width="0.15">**</text>
<text x="509.3" y="612.05" font-size="8.2" text-anchor="middle" font-weight="bold" stroke="#000" stroke-width="0.15">**</text>
<text x="532" y="575.15" font-size="8.2" text-anchor="middle" font-weight="bold" stroke="#000" stroke-width="0.15">*</text>
<text x="577.6" y="613.95" font-size="8.2" text-anchor="middle" font-weight="bold" stroke="#000" stroke-width="0.15">*</text>
<text x="600.2" y="599.95" font-size="8.2" text-anchor="middle" font-weight="bold" stroke="#000" stroke-width="0.15">**</text>
<text x="623.1" y="634.55" font-size="8.2" text-anchor="middle" font-weight="bold" stroke="#000" stroke-width="0.15">**</text>
<text x="645.3" y="592.45" font-size="8.2" text-anchor="middle" font-weight="bold" stroke="#000" stroke-width="0.15">*</text>
<text x="490" y="598.2" font-size="7.3" text-anchor="middle" fill="#a9a9a9" stroke="#a9a9a9" stroke-width="0.15">p=0.058</text>
<text x="557.7" y="593.6" font-size="7.3" text-anchor="middle" fill="#a9a9a9" stroke="#a9a9a9" stroke-width="0.15">p=0.062</text>
<text x="671" y="608.5" font-size="7.3" text-anchor="middle" fill="#a9a9a9" stroke="#a9a9a9" stroke-width="0.15">p=0.501</text>
<text x="483.6" y="553.6" font-size="8.6" stroke="#000" stroke-width="0.15">BIN-67</text>
<rect x="526.2" y="548" width="7" height="5" fill="#c9c9c9" stroke="#6a6a6a" stroke-width="0.7"/>
<text x="537.9" y="553.6" font-size="8.6" stroke="#000" stroke-width="0.15">Ctrl</text>
<rect x="566.6" y="548" width="7.4" height="5" fill="#2fa6a6" stroke="#257f9a" stroke-width="0.7"/>
<text x="578.3" y="553.6" font-size="8.6" font-style="italic" stroke="#000" stroke-width="0.15">A4</text>
</svg>
</body></html>
